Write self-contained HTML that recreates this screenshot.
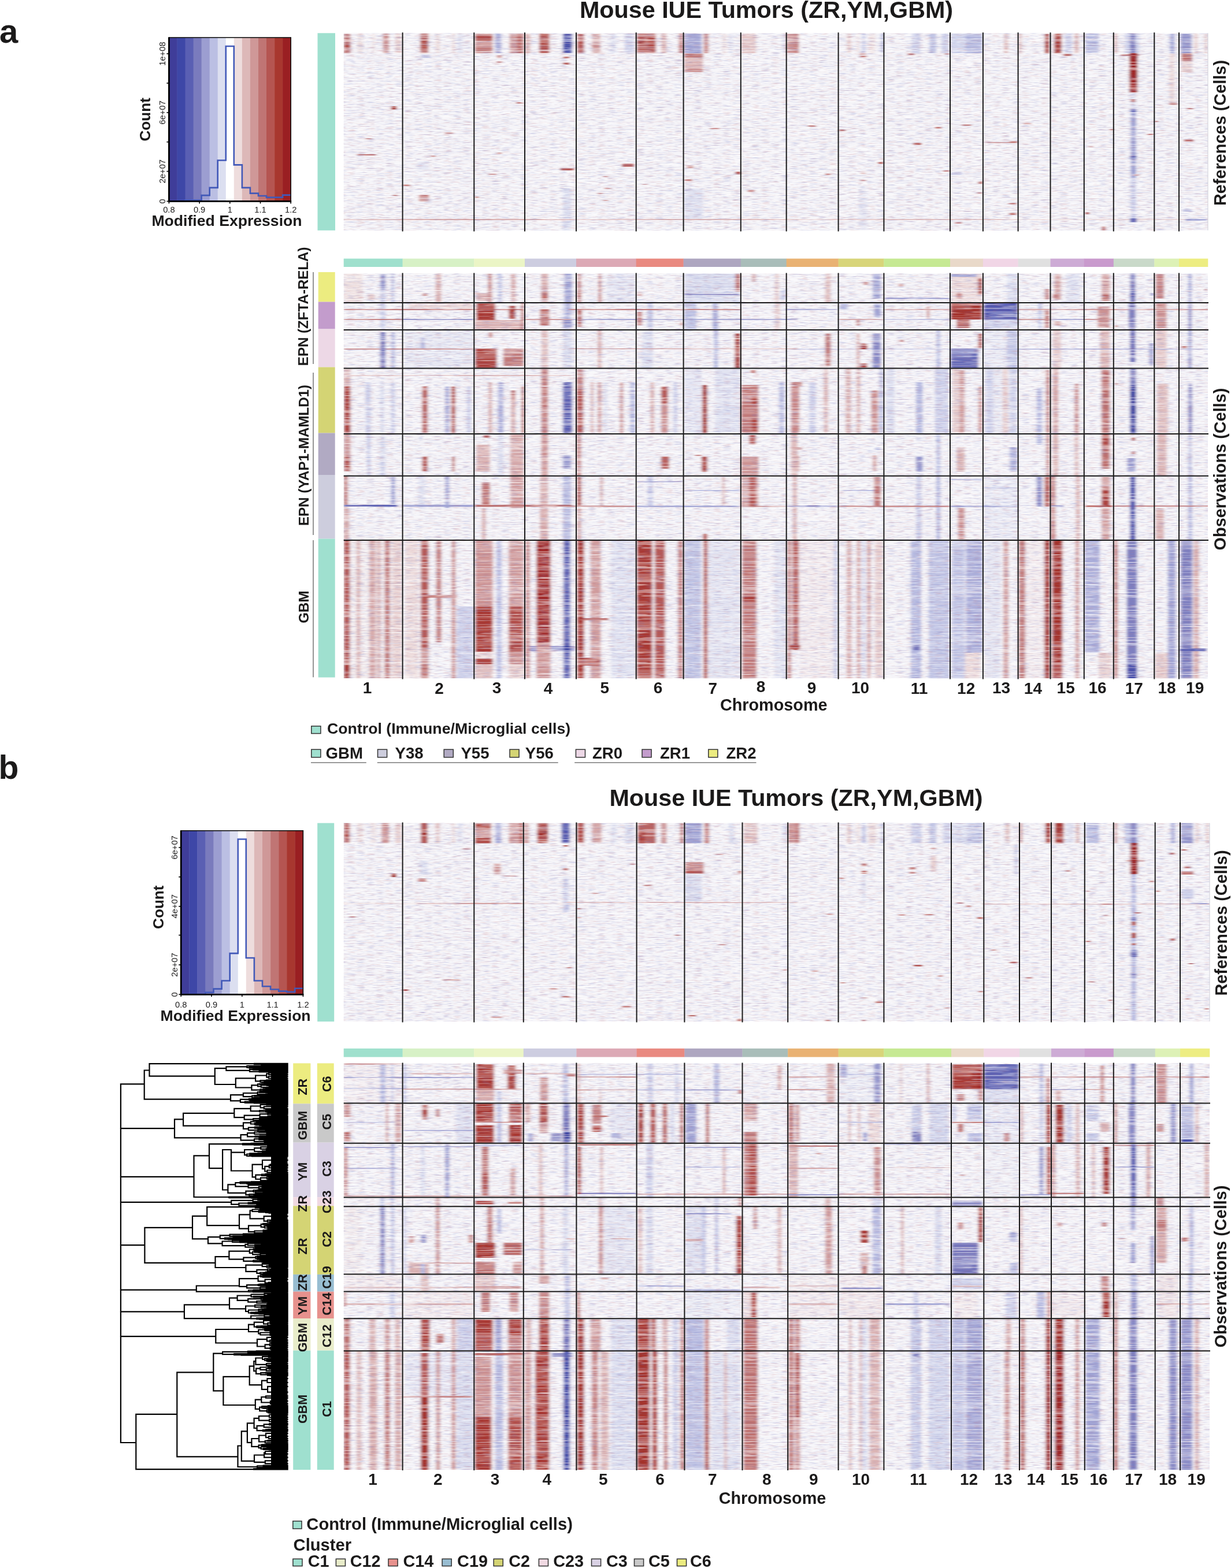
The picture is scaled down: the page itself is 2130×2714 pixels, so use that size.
<!DOCTYPE html>
<html><head><meta charset="utf-8"><title>Mouse IUE Tumors</title><style>html,body{margin:0;padding:0;background:#fff;}svg{display:block;}</style></head><body>
<svg width="2130" height="2714" viewBox="0 0 2130 2714" font-family="'Liberation Sans', Arial, sans-serif">
<rect width="2130" height="2714" fill="#fff"/>
<text x="-1" y="74" font-size="58" font-weight="bold" text-anchor="start" fill="#1b1a1a">a</text>
<text x="-2.5" y="1348" font-size="57" font-weight="bold" text-anchor="start" fill="#1b1a1a">b</text>
<text x="1326" y="30.7" font-size="41.3" font-weight="bold" text-anchor="middle" fill="#1b1a1a">Mouse IUE Tumors (ZR,YM,GBM)</text>
<text x="1377.5" y="1394.5" font-size="41.3" font-weight="bold" text-anchor="middle" fill="#1b1a1a">Mouse IUE Tumors (ZR,YM,GBM)</text>
<rect x="292.4" y="65.0" width="14.5" height="283.4" fill="#3f3d99"/>
<rect x="306.5" y="65.0" width="14.5" height="283.4" fill="#3e47a7"/>
<rect x="320.5" y="65.0" width="14.5" height="283.4" fill="#5a5fb3"/>
<rect x="334.6" y="65.0" width="14.5" height="283.4" fill="#7a7bbd"/>
<rect x="348.6" y="65.0" width="14.5" height="283.4" fill="#9c9ed1"/>
<rect x="362.7" y="65.0" width="14.5" height="283.4" fill="#bbbfe3"/>
<rect x="376.7" y="65.0" width="14.5" height="283.4" fill="#dcdff0"/>
<rect x="390.8" y="65.0" width="14.5" height="283.4" fill="#ffffff"/>
<rect x="404.8" y="65.0" width="14.5" height="283.4" fill="#eedddd"/>
<rect x="418.9" y="65.0" width="14.5" height="283.4" fill="#ddb8b8"/>
<rect x="432.9" y="65.0" width="14.5" height="283.4" fill="#cf9898"/>
<rect x="447.0" y="65.0" width="14.5" height="283.4" fill="#c07574"/>
<rect x="461.0" y="65.0" width="14.5" height="283.4" fill="#b55551"/>
<rect x="475.1" y="65.0" width="14.5" height="283.4" fill="#a8372f"/>
<rect x="489.1" y="65.0" width="14.5" height="283.4" fill="#9a1f22"/>
<polyline points="292.4,348.0 306.5,348.0 306.5,348.0 320.5,348.0 320.5,346.5 334.6,346.5 334.6,346.5 348.6,346.5 348.6,338.1 362.7,338.1 362.7,324.9 376.7,324.9 376.7,277.5 390.8,277.5 390.8,80.0 404.8,80.0 404.8,285.4 418.9,285.4 418.9,324.9 432.9,324.9 432.9,334.6 447.0,334.6 447.0,339.0 461.0,339.0 461.0,341.6 475.1,341.6 475.1,341.6 489.1,341.6 489.1,337.6 503.2,337.6" fill="none" stroke="#4259b8" stroke-width="2.6"/>
<rect x="292.4" y="65" width="210.8" height="283.4" fill="none" stroke="#111" stroke-width="1.6"/>
<line x1="292.4" y1="64.5" x2="292.4" y2="349.4" stroke="#000" stroke-width="2.8"/>
<line x1="291.4" y1="348.4" x2="504.2" y2="348.4" stroke="#000" stroke-width="2.8"/>
<line x1="288.4" y1="348.4" x2="292.4" y2="348.4" stroke="#000" stroke-width="1.6"/>
<line x1="288.4" y1="296.6" x2="292.4" y2="296.6" stroke="#000" stroke-width="1.6"/>
<line x1="288.4" y1="245.7" x2="292.4" y2="245.7" stroke="#000" stroke-width="1.6"/>
<line x1="288.4" y1="194.8" x2="292.4" y2="194.8" stroke="#000" stroke-width="1.6"/>
<line x1="288.4" y1="143.9" x2="292.4" y2="143.9" stroke="#000" stroke-width="1.6"/>
<line x1="288.4" y1="93.0" x2="292.4" y2="93.0" stroke="#000" stroke-width="1.6"/>
<text x="286.4" y="348.4" font-size="14.7" font-weight="normal" text-anchor="middle" fill="#1b1a1a" transform="rotate(-90 286.4 348.4)">0</text>
<text x="286.4" y="296.6" font-size="14.7" font-weight="normal" text-anchor="middle" fill="#1b1a1a" transform="rotate(-90 286.4 296.6)">2e+07</text>
<text x="286.4" y="194.8" font-size="14.7" font-weight="normal" text-anchor="middle" fill="#1b1a1a" transform="rotate(-90 286.4 194.8)">6e+07</text>
<text x="286.4" y="93" font-size="14.7" font-weight="normal" text-anchor="middle" fill="#1b1a1a" transform="rotate(-90 286.4 93)">1e+08</text>
<line x1="292.4" y1="348.4" x2="292.4" y2="352.4" stroke="#000" stroke-width="1.6"/>
<text x="292.4" y="368" font-size="14.7" font-weight="normal" text-anchor="middle" fill="#1b1a1a">0.8</text>
<line x1="345.1" y1="348.4" x2="345.1" y2="352.4" stroke="#000" stroke-width="1.6"/>
<text x="345.09999999999997" y="368" font-size="14.7" font-weight="normal" text-anchor="middle" fill="#1b1a1a">0.9</text>
<line x1="397.8" y1="348.4" x2="397.8" y2="352.4" stroke="#000" stroke-width="1.6"/>
<text x="397.79999999999995" y="368" font-size="14.7" font-weight="normal" text-anchor="middle" fill="#1b1a1a">1</text>
<line x1="450.5" y1="348.4" x2="450.5" y2="352.4" stroke="#000" stroke-width="1.6"/>
<text x="450.5" y="368" font-size="14.7" font-weight="normal" text-anchor="middle" fill="#1b1a1a">1.1</text>
<line x1="503.2" y1="348.4" x2="503.2" y2="352.4" stroke="#000" stroke-width="1.6"/>
<text x="503.2" y="368" font-size="14.7" font-weight="normal" text-anchor="middle" fill="#1b1a1a">1.2</text>
<text x="392.5" y="390.8" font-size="26.6" font-weight="bold" text-anchor="middle" fill="#1b1a1a">Modified Expression</text>
<text x="260.5" y="206.8" font-size="26.1" font-weight="bold" text-anchor="middle" fill="#1b1a1a" transform="rotate(-90 260.5 206.8)">Count</text>
<rect x="313.2" y="1437.8" width="14.5" height="283.5" fill="#3f3d99"/>
<rect x="327.3" y="1437.8" width="14.5" height="283.5" fill="#3e47a7"/>
<rect x="341.4" y="1437.8" width="14.5" height="283.5" fill="#5a5fb3"/>
<rect x="355.4" y="1437.8" width="14.5" height="283.5" fill="#7a7bbd"/>
<rect x="369.5" y="1437.8" width="14.5" height="283.5" fill="#9c9ed1"/>
<rect x="383.6" y="1437.8" width="14.5" height="283.5" fill="#bbbfe3"/>
<rect x="397.7" y="1437.8" width="14.5" height="283.5" fill="#dcdff0"/>
<rect x="411.8" y="1437.8" width="14.5" height="283.5" fill="#ffffff"/>
<rect x="425.8" y="1437.8" width="14.5" height="283.5" fill="#eedddd"/>
<rect x="439.9" y="1437.8" width="14.5" height="283.5" fill="#ddb8b8"/>
<rect x="454.0" y="1437.8" width="14.5" height="283.5" fill="#cf9898"/>
<rect x="468.1" y="1437.8" width="14.5" height="283.5" fill="#c07574"/>
<rect x="482.2" y="1437.8" width="14.5" height="283.5" fill="#b55551"/>
<rect x="496.2" y="1437.8" width="14.5" height="283.5" fill="#a8372f"/>
<rect x="510.3" y="1437.8" width="14.5" height="283.5" fill="#9a1f22"/>
<polyline points="313.2,1721.0 327.3,1721.0 327.3,1721.0 341.4,1721.0 341.4,1721.0 355.4,1721.0 355.4,1717.7 369.5,1717.7 369.5,1711.6 383.6,1711.6 383.6,1697.5 397.7,1697.5 397.7,1650.1 411.8,1650.1 411.8,1452.5 425.8,1452.5 425.8,1658.0 439.9,1658.0 439.9,1697.5 454.0,1697.5 454.0,1707.2 468.1,1707.2 468.1,1712.5 482.2,1712.5 482.2,1715.6 496.2,1715.6 496.2,1716.9 510.3,1716.9 510.3,1710.7 524.4,1710.7" fill="none" stroke="#4259b8" stroke-width="2.6"/>
<rect x="313.2" y="1437.8" width="211.2" height="283.5" fill="none" stroke="#111" stroke-width="1.6"/>
<line x1="313.2" y1="1437.3" x2="313.2" y2="1722.3" stroke="#000" stroke-width="2.8"/>
<line x1="312.2" y1="1721.3" x2="525.4" y2="1721.3" stroke="#000" stroke-width="2.8"/>
<line x1="309.2" y1="1721.3" x2="313.2" y2="1721.3" stroke="#000" stroke-width="1.6"/>
<line x1="309.2" y1="1670.0" x2="313.2" y2="1670.0" stroke="#000" stroke-width="1.6"/>
<line x1="309.2" y1="1618.6" x2="313.2" y2="1618.6" stroke="#000" stroke-width="1.6"/>
<line x1="309.2" y1="1568.8" x2="313.2" y2="1568.8" stroke="#000" stroke-width="1.6"/>
<line x1="309.2" y1="1517.8" x2="313.2" y2="1517.8" stroke="#000" stroke-width="1.6"/>
<line x1="309.2" y1="1466.9" x2="313.2" y2="1466.9" stroke="#000" stroke-width="1.6"/>
<text x="307.2" y="1721.3" font-size="14.7" font-weight="normal" text-anchor="middle" fill="#1b1a1a" transform="rotate(-90 307.2 1721.3)">0</text>
<text x="307.2" y="1670" font-size="14.7" font-weight="normal" text-anchor="middle" fill="#1b1a1a" transform="rotate(-90 307.2 1670)">2e+07</text>
<text x="307.2" y="1568.8" font-size="14.7" font-weight="normal" text-anchor="middle" fill="#1b1a1a" transform="rotate(-90 307.2 1568.8)">4e+07</text>
<text x="307.2" y="1466.9" font-size="14.7" font-weight="normal" text-anchor="middle" fill="#1b1a1a" transform="rotate(-90 307.2 1466.9)">6e+07</text>
<line x1="313.2" y1="1721.3" x2="313.2" y2="1725.3" stroke="#000" stroke-width="1.6"/>
<text x="313.2" y="1744" font-size="14.7" font-weight="normal" text-anchor="middle" fill="#1b1a1a">0.8</text>
<line x1="366.0" y1="1721.3" x2="366.0" y2="1725.3" stroke="#000" stroke-width="1.6"/>
<text x="366.0" y="1744" font-size="14.7" font-weight="normal" text-anchor="middle" fill="#1b1a1a">0.9</text>
<line x1="418.8" y1="1721.3" x2="418.8" y2="1725.3" stroke="#000" stroke-width="1.6"/>
<text x="418.79999999999995" y="1744" font-size="14.7" font-weight="normal" text-anchor="middle" fill="#1b1a1a">1</text>
<line x1="471.6" y1="1721.3" x2="471.6" y2="1725.3" stroke="#000" stroke-width="1.6"/>
<text x="471.59999999999997" y="1744" font-size="14.7" font-weight="normal" text-anchor="middle" fill="#1b1a1a">1.1</text>
<line x1="524.4" y1="1721.3" x2="524.4" y2="1725.3" stroke="#000" stroke-width="1.6"/>
<text x="524.4" y="1744" font-size="14.7" font-weight="normal" text-anchor="middle" fill="#1b1a1a">1.2</text>
<text x="407.6" y="1766.9" font-size="26.6" font-weight="bold" text-anchor="middle" fill="#1b1a1a">Modified Expression</text>
<text x="283.4" y="1570.2" font-size="26.1" font-weight="bold" text-anchor="middle" fill="#1b1a1a" transform="rotate(-90 283.4 1570.2)">Count</text>
<defs>
<clipPath id="clip_ra"><rect x="594.7" y="57.3" width="1495.3" height="341.5"/></clipPath>
<clipPath id="clip_oa"><rect x="594.7" y="473.5" width="1495.3" height="700.5"/></clipPath>
<clipPath id="clip_rb"><rect x="594.7" y="1424.6" width="1498.3" height="343.4000000000001"/></clipPath>
<clipPath id="clip_ob"><rect x="594.7" y="1840.4" width="1498.3" height="703.5999999999999"/></clipPath>
<pattern id="tex" patternUnits="userSpaceOnUse" width="241" height="97">
<rect x="98" y="71" width="35" height="1.2" fill="#dcb5b5" opacity="0.8"/>
<rect x="98" y="75" width="12" height="1.2" fill="#c3c7e6" opacity="0.8"/>
<rect x="104" y="78" width="33" height="1.2" fill="#ecd9d9" opacity="0.8"/>
<rect x="97" y="18" width="9" height="1.2" fill="#efe1e1" opacity="0.8"/>
<rect x="135" y="50" width="39" height="1.2" fill="#e7cece" opacity="0.8"/>
<rect x="143" y="67" width="8" height="1.2" fill="#efe1e1" opacity="0.8"/>
<rect x="30" y="30" width="26" height="1.2" fill="#dcb5b5" opacity="0.8"/>
<rect x="65" y="75" width="35" height="1.2" fill="#c3c7e6" opacity="0.8"/>
<rect x="41" y="37" width="23" height="1.2" fill="#ecd9d9" opacity="0.8"/>
<rect x="99" y="35" width="20" height="1.2" fill="#c3c7e6" opacity="0.8"/>
<rect x="240" y="10" width="30" height="1.2" fill="#cfd2eb" opacity="0.8"/>
<rect x="178" y="65" width="16" height="1.2" fill="#ecd9d9" opacity="0.8"/>
<rect x="127" y="13" width="20" height="1.2" fill="#d8dbee" opacity="0.8"/>
<rect x="81" y="2" width="35" height="1.2" fill="#efe1e1" opacity="0.8"/>
<rect x="36" y="6" width="22" height="1.2" fill="#e1c1c1" opacity="0.8"/>
<rect x="90" y="72" width="27" height="1.2" fill="#d8dbee" opacity="0.8"/>
<rect x="68" y="39" width="17" height="1.2" fill="#e1c1c1" opacity="0.8"/>
<rect x="178" y="15" width="11" height="1.2" fill="#ecd9d9" opacity="0.8"/>
<rect x="-17" y="59" width="33" height="1.2" fill="#e7cece" opacity="0.8"/>
<rect x="158" y="24" width="21" height="1.2" fill="#e0e2f1" opacity="0.8"/>
<rect x="237" y="16" width="20" height="1.2" fill="#e1c1c1" opacity="0.8"/>
<rect x="10" y="53" width="40" height="1.2" fill="#efe1e1" opacity="0.8"/>
<rect x="50" y="75" width="16" height="1.2" fill="#efe1e1" opacity="0.8"/>
<rect x="35" y="50" width="40" height="1.2" fill="#ecd9d9" opacity="0.8"/>
<rect x="-9" y="18" width="13" height="1.2" fill="#d8dbee" opacity="0.8"/>
<rect x="-18" y="78" width="17" height="1.2" fill="#d8dbee" opacity="0.8"/>
<rect x="81" y="9" width="9" height="1.2" fill="#e0e2f1" opacity="0.8"/>
<rect x="-16" y="47" width="19" height="1.2" fill="#dcb5b5" opacity="0.8"/>
<rect x="13" y="75" width="22" height="1.2" fill="#e7cece" opacity="0.8"/>
<rect x="206" y="23" width="27" height="1.2" fill="#d8dbee" opacity="0.8"/>
<rect x="217" y="78" width="14" height="1.2" fill="#e0e2f1" opacity="0.8"/>
<rect x="21" y="80" width="38" height="1.2" fill="#e0e2f1" opacity="0.8"/>
<rect x="159" y="49" width="36" height="1.2" fill="#ecd9d9" opacity="0.8"/>
<rect x="90" y="13" width="10" height="1.2" fill="#c3c7e6" opacity="0.8"/>
<rect x="231" y="30" width="31" height="1.2" fill="#e1c1c1" opacity="0.8"/>
<rect x="47" y="76" width="23" height="1.2" fill="#c3c7e6" opacity="0.8"/>
<rect x="26" y="92" width="39" height="1.2" fill="#e7cece" opacity="0.8"/>
<rect x="40" y="71" width="28" height="1.2" fill="#ecd9d9" opacity="0.8"/>
<rect x="53" y="26" width="31" height="1.2" fill="#ecd9d9" opacity="0.8"/>
<rect x="50" y="57" width="14" height="1.2" fill="#efe1e1" opacity="0.8"/>
<rect x="26" y="47" width="24" height="1.2" fill="#e7cece" opacity="0.8"/>
<rect x="4" y="17" width="36" height="1.2" fill="#cfd2eb" opacity="0.8"/>
<rect x="151" y="88" width="24" height="1.2" fill="#e7cece" opacity="0.8"/>
<rect x="134" y="2" width="22" height="1.2" fill="#cfd2eb" opacity="0.8"/>
<rect x="163" y="4" width="7" height="1.2" fill="#ecd9d9" opacity="0.8"/>
<rect x="106" y="93" width="17" height="1.2" fill="#e7cece" opacity="0.8"/>
<rect x="241" y="9" width="21" height="1.2" fill="#cfd2eb" opacity="0.8"/>
<rect x="172" y="94" width="31" height="1.2" fill="#e7cece" opacity="0.8"/>
<rect x="187" y="43" width="18" height="1.2" fill="#dcb5b5" opacity="0.8"/>
<rect x="215" y="53" width="38" height="1.2" fill="#efe1e1" opacity="0.8"/>
<rect x="205" y="73" width="6" height="1.2" fill="#e1c1c1" opacity="0.8"/>
<rect x="79" y="1" width="27" height="1.2" fill="#ecd9d9" opacity="0.8"/>
<rect x="4" y="14" width="40" height="1.2" fill="#e1c1c1" opacity="0.8"/>
<rect x="170" y="49" width="38" height="1.2" fill="#dcb5b5" opacity="0.8"/>
<rect x="95" y="69" width="9" height="1.2" fill="#c3c7e6" opacity="0.8"/>
<rect x="-12" y="76" width="9" height="1.2" fill="#efe1e1" opacity="0.8"/>
<rect x="40" y="89" width="10" height="1.2" fill="#dcb5b5" opacity="0.8"/>
<rect x="47" y="1" width="19" height="1.2" fill="#e7cece" opacity="0.8"/>
<rect x="157" y="25" width="24" height="1.2" fill="#cfd2eb" opacity="0.8"/>
<rect x="152" y="56" width="23" height="1.2" fill="#e0e2f1" opacity="0.8"/>
<rect x="65" y="85" width="15" height="1.2" fill="#e1c1c1" opacity="0.8"/>
<rect x="190" y="96" width="37" height="1.2" fill="#e0e2f1" opacity="0.8"/>
<rect x="80" y="74" width="37" height="1.2" fill="#e0e2f1" opacity="0.8"/>
<rect x="16" y="63" width="18" height="1.2" fill="#efe1e1" opacity="0.8"/>
<rect x="166" y="35" width="34" height="1.2" fill="#ecd9d9" opacity="0.8"/>
<rect x="98" y="35" width="37" height="1.2" fill="#e1c1c1" opacity="0.8"/>
<rect x="80" y="66" width="23" height="1.2" fill="#cfd2eb" opacity="0.8"/>
<rect x="167" y="79" width="21" height="1.2" fill="#ecd9d9" opacity="0.8"/>
<rect x="196" y="35" width="36" height="1.2" fill="#efe1e1" opacity="0.8"/>
<rect x="157" y="35" width="25" height="1.2" fill="#d8dbee" opacity="0.8"/>
<rect x="149" y="72" width="7" height="1.2" fill="#e7cece" opacity="0.8"/>
<rect x="86" y="24" width="7" height="1.2" fill="#d8dbee" opacity="0.8"/>
<rect x="42" y="18" width="33" height="1.2" fill="#ecd9d9" opacity="0.8"/>
<rect x="97" y="80" width="24" height="1.2" fill="#cfd2eb" opacity="0.8"/>
<rect x="230" y="87" width="13" height="1.2" fill="#dcb5b5" opacity="0.8"/>
<rect x="47" y="91" width="6" height="1.2" fill="#dcb5b5" opacity="0.8"/>
<rect x="120" y="4" width="12" height="1.2" fill="#d8dbee" opacity="0.8"/>
<rect x="183" y="69" width="30" height="1.2" fill="#c3c7e6" opacity="0.8"/>
<rect x="111" y="96" width="11" height="1.2" fill="#e0e2f1" opacity="0.8"/>
<rect x="3" y="92" width="19" height="1.2" fill="#dcb5b5" opacity="0.8"/>
<rect x="98" y="80" width="36" height="1.2" fill="#efe1e1" opacity="0.8"/>
<rect x="78" y="72" width="28" height="1.2" fill="#c3c7e6" opacity="0.8"/>
<rect x="188" y="43" width="22" height="1.2" fill="#e0e2f1" opacity="0.8"/>
<rect x="6" y="82" width="37" height="1.2" fill="#ecd9d9" opacity="0.8"/>
<rect x="36" y="49" width="39" height="1.2" fill="#d8dbee" opacity="0.8"/>
<rect x="120" y="41" width="15" height="1.2" fill="#efe1e1" opacity="0.8"/>
<rect x="71" y="10" width="7" height="1.2" fill="#cfd2eb" opacity="0.8"/>
<rect x="124" y="35" width="23" height="1.2" fill="#efe1e1" opacity="0.8"/>
<rect x="37" y="8" width="21" height="1.2" fill="#efe1e1" opacity="0.8"/>
<rect x="25" y="42" width="29" height="1.2" fill="#e7cece" opacity="0.8"/>
<rect x="103" y="66" width="37" height="1.2" fill="#c3c7e6" opacity="0.8"/>
<rect x="199" y="88" width="21" height="1.2" fill="#dcb5b5" opacity="0.8"/>
<rect x="131" y="88" width="9" height="1.2" fill="#e0e2f1" opacity="0.8"/>
<rect x="95" y="71" width="16" height="1.2" fill="#c3c7e6" opacity="0.8"/>
<rect x="147" y="66" width="23" height="1.2" fill="#c3c7e6" opacity="0.8"/>
<rect x="47" y="85" width="19" height="1.2" fill="#e0e2f1" opacity="0.8"/>
<rect x="59" y="18" width="39" height="1.2" fill="#c3c7e6" opacity="0.8"/>
<rect x="51" y="63" width="13" height="1.2" fill="#c3c7e6" opacity="0.8"/>
<rect x="10" y="0" width="27" height="1.2" fill="#efe1e1" opacity="0.8"/>
<rect x="121" y="5" width="24" height="1.2" fill="#e1c1c1" opacity="0.8"/>
<rect x="122" y="72" width="10" height="1.2" fill="#ecd9d9" opacity="0.8"/>
<rect x="160" y="8" width="38" height="1.2" fill="#dcb5b5" opacity="0.8"/>
<rect x="88" y="51" width="15" height="1.2" fill="#dcb5b5" opacity="0.8"/>
<rect x="109" y="43" width="21" height="1.2" fill="#dcb5b5" opacity="0.8"/>
<rect x="117" y="13" width="13" height="1.2" fill="#efe1e1" opacity="0.8"/>
<rect x="221" y="16" width="30" height="1.2" fill="#efe1e1" opacity="0.8"/>
<rect x="-11" y="19" width="14" height="1.2" fill="#d8dbee" opacity="0.8"/>
<rect x="64" y="45" width="14" height="1.2" fill="#dcb5b5" opacity="0.8"/>
<rect x="7" y="93" width="26" height="1.2" fill="#c3c7e6" opacity="0.8"/>
<rect x="143" y="91" width="13" height="1.2" fill="#c3c7e6" opacity="0.8"/>
<rect x="209" y="2" width="19" height="1.2" fill="#e1c1c1" opacity="0.8"/>
<rect x="195" y="78" width="11" height="1.2" fill="#e0e2f1" opacity="0.8"/>
<rect x="205" y="68" width="28" height="1.2" fill="#c3c7e6" opacity="0.8"/>
<rect x="36" y="69" width="27" height="1.2" fill="#e7cece" opacity="0.8"/>
<rect x="41" y="94" width="27" height="1.2" fill="#cfd2eb" opacity="0.8"/>
<rect x="216" y="40" width="27" height="1.2" fill="#e0e2f1" opacity="0.8"/>
<rect x="37" y="24" width="36" height="1.2" fill="#e7cece" opacity="0.8"/>
<rect x="212" y="16" width="31" height="1.2" fill="#d8dbee" opacity="0.8"/>
<rect x="81" y="55" width="34" height="1.2" fill="#e1c1c1" opacity="0.8"/>
<rect x="122" y="90" width="10" height="1.2" fill="#e1c1c1" opacity="0.8"/>
<rect x="144" y="2" width="9" height="1.2" fill="#cfd2eb" opacity="0.8"/>
<rect x="218" y="46" width="10" height="1.2" fill="#c3c7e6" opacity="0.8"/>
<rect x="146" y="43" width="23" height="1.2" fill="#e0e2f1" opacity="0.8"/>
<rect x="190" y="61" width="10" height="1.2" fill="#efe1e1" opacity="0.8"/>
<rect x="179" y="78" width="24" height="1.2" fill="#dcb5b5" opacity="0.8"/>
<rect x="18" y="23" width="10" height="1.2" fill="#e7cece" opacity="0.8"/>
<rect x="199" y="36" width="38" height="1.2" fill="#ecd9d9" opacity="0.8"/>
<rect x="131" y="17" width="38" height="1.2" fill="#dcb5b5" opacity="0.8"/>
<rect x="0" y="12" width="17" height="1.2" fill="#dcb5b5" opacity="0.8"/>
<rect x="91" y="45" width="21" height="1.2" fill="#cfd2eb" opacity="0.8"/>
<rect x="-17" y="89" width="7" height="1.2" fill="#e0e2f1" opacity="0.8"/>
<rect x="27" y="58" width="18" height="1.2" fill="#cfd2eb" opacity="0.8"/>
<rect x="86" y="24" width="27" height="1.2" fill="#ecd9d9" opacity="0.8"/>
<rect x="114" y="1" width="17" height="1.2" fill="#ecd9d9" opacity="0.8"/>
<rect x="189" y="90" width="36" height="1.2" fill="#e1c1c1" opacity="0.8"/>
<rect x="129" y="24" width="23" height="1.2" fill="#cfd2eb" opacity="0.8"/>
<rect x="190" y="33" width="16" height="1.2" fill="#ecd9d9" opacity="0.8"/>
<rect x="174" y="20" width="34" height="1.2" fill="#e1c1c1" opacity="0.8"/>
<rect x="15" y="42" width="36" height="1.2" fill="#cfd2eb" opacity="0.8"/>
<rect x="180" y="23" width="20" height="1.2" fill="#e7cece" opacity="0.8"/>
<rect x="-2" y="43" width="16" height="1.2" fill="#ecd9d9" opacity="0.8"/>
<rect x="-17" y="45" width="40" height="1.2" fill="#efe1e1" opacity="0.8"/>
<rect x="41" y="85" width="16" height="1.2" fill="#e0e2f1" opacity="0.8"/>
<rect x="152" y="72" width="12" height="1.2" fill="#ecd9d9" opacity="0.8"/>
<rect x="82" y="63" width="28" height="1.2" fill="#ecd9d9" opacity="0.8"/>
<rect x="179" y="73" width="7" height="1.2" fill="#ecd9d9" opacity="0.8"/>
<rect x="173" y="32" width="21" height="1.2" fill="#c3c7e6" opacity="0.8"/>
<rect x="-7" y="25" width="28" height="1.2" fill="#efe1e1" opacity="0.8"/>
<rect x="6" y="32" width="15" height="1.2" fill="#cfd2eb" opacity="0.8"/>
<rect x="124" y="65" width="20" height="1.2" fill="#c3c7e6" opacity="0.8"/>
<rect x="128" y="12" width="28" height="1.2" fill="#ecd9d9" opacity="0.8"/>
<rect x="123" y="85" width="32" height="1.2" fill="#efe1e1" opacity="0.8"/>
<rect x="81" y="20" width="19" height="1.2" fill="#e7cece" opacity="0.8"/>
<rect x="203" y="69" width="27" height="1.2" fill="#efe1e1" opacity="0.8"/>
<rect x="92" y="63" width="20" height="1.2" fill="#c3c7e6" opacity="0.8"/>
<rect x="84" y="39" width="18" height="1.2" fill="#d8dbee" opacity="0.8"/>
<rect x="106" y="34" width="25" height="1.2" fill="#d8dbee" opacity="0.8"/>
<rect x="153" y="95" width="16" height="1.2" fill="#efe1e1" opacity="0.8"/>
<rect x="182" y="74" width="7" height="1.2" fill="#e7cece" opacity="0.8"/>
<rect x="87" y="87" width="19" height="1.2" fill="#cfd2eb" opacity="0.8"/>
</pattern>
<pattern id="rows" patternUnits="userSpaceOnUse" width="397" height="83">
<rect x="287" y="4.2" width="109" height="1.3" fill="#fff" opacity="0.22"/>
<rect x="356" y="35.6" width="60" height="1.0" fill="#fff" opacity="0.21"/>
<rect x="3" y="67.2" width="101" height="1.0" fill="#fff" opacity="0.49"/>
<rect x="317" y="50.1" width="26" height="1.6" fill="#fff" opacity="0.34"/>
<rect x="49" y="4.3" width="65" height="0.8" fill="#fff" opacity="0.31"/>
<rect x="21" y="34.6" width="72" height="1.6" fill="#fff" opacity="0.31"/>
<rect x="285" y="67.7" width="28" height="1.3" fill="#fff" opacity="0.42"/>
<rect x="64" y="9.5" width="100" height="1.3" fill="#fff" opacity="0.28"/>
<rect x="226" y="60.2" width="81" height="1.0" fill="#fff" opacity="0.39"/>
<rect x="289" y="15.8" width="39" height="1.0" fill="#fff" opacity="0.46"/>
<rect x="-23" y="5.0" width="41" height="1.6" fill="#fff" opacity="0.21"/>
<rect x="-23" y="18.5" width="41" height="0.8" fill="#fff" opacity="0.47"/>
<rect x="30" y="19.5" width="108" height="1.6" fill="#fff" opacity="0.34"/>
<rect x="52" y="28.5" width="86" height="0.8" fill="#fff" opacity="0.44"/>
<rect x="155" y="68.2" width="95" height="1.0" fill="#fff" opacity="0.33"/>
<rect x="287" y="32.4" width="29" height="1.0" fill="#fff" opacity="0.40"/>
<rect x="392" y="27.0" width="67" height="1.0" fill="#fff" opacity="0.33"/>
<rect x="121" y="8.1" width="98" height="0.8" fill="#fff" opacity="0.36"/>
<rect x="149" y="47.1" width="92" height="1.6" fill="#fff" opacity="0.29"/>
<rect x="299" y="6.3" width="35" height="0.8" fill="#fff" opacity="0.41"/>
<rect x="176" y="63.4" width="46" height="1.0" fill="#fff" opacity="0.27"/>
<rect x="247" y="27.1" width="101" height="1.3" fill="#fff" opacity="0.41"/>
<rect x="209" y="76.2" width="104" height="1.3" fill="#fff" opacity="0.33"/>
<rect x="311" y="25.3" width="45" height="1.6" fill="#fff" opacity="0.49"/>
<rect x="279" y="42.8" width="23" height="1.3" fill="#fff" opacity="0.21"/>
<rect x="256" y="48.5" width="91" height="1.3" fill="#fff" opacity="0.44"/>
<rect x="196" y="69.4" width="68" height="1.0" fill="#fff" opacity="0.23"/>
<rect x="159" y="70.9" width="92" height="1.0" fill="#fff" opacity="0.35"/>
<rect x="198" y="47.1" width="107" height="1.6" fill="#fff" opacity="0.22"/>
<rect x="199" y="65.4" width="23" height="0.8" fill="#fff" opacity="0.28"/>
<rect x="6" y="26.0" width="17" height="1.0" fill="#fff" opacity="0.23"/>
<rect x="317" y="35.0" width="83" height="1.6" fill="#fff" opacity="0.43"/>
<rect x="188" y="63.5" width="52" height="1.3" fill="#fff" opacity="0.44"/>
<rect x="106" y="11.3" width="61" height="0.8" fill="#fff" opacity="0.41"/>
<rect x="360" y="34.1" width="93" height="1.3" fill="#fff" opacity="0.46"/>
<rect x="312" y="69.2" width="99" height="0.8" fill="#fff" opacity="0.36"/>
<rect x="270" y="66.6" width="55" height="1.6" fill="#fff" opacity="0.47"/>
<rect x="67" y="13.5" width="75" height="1.0" fill="#fff" opacity="0.30"/>
<rect x="130" y="43.9" width="41" height="0.8" fill="#fff" opacity="0.34"/>
<rect x="279" y="25.2" width="30" height="1.0" fill="#fff" opacity="0.47"/>
<rect x="289" y="1.4" width="61" height="0.8" fill="#fff" opacity="0.29"/>
<rect x="46" y="29.8" width="71" height="1.6" fill="#fff" opacity="0.38"/>
<rect x="58" y="15.4" width="42" height="1.0" fill="#fff" opacity="0.47"/>
<rect x="370" y="52.0" width="104" height="1.6" fill="#fff" opacity="0.46"/>
<rect x="172" y="33.4" width="106" height="0.8" fill="#fff" opacity="0.34"/>
<rect x="57" y="4.1" width="105" height="1.6" fill="#fff" opacity="0.49"/>
<rect x="307" y="64.3" width="90" height="0.8" fill="#fff" opacity="0.40"/>
<rect x="64" y="0.9" width="60" height="1.3" fill="#fff" opacity="0.34"/>
<rect x="68" y="35.0" width="98" height="1.6" fill="#fff" opacity="0.25"/>
<rect x="101" y="21.5" width="98" height="1.0" fill="#fff" opacity="0.39"/>
<rect x="394" y="22.1" width="66" height="1.0" fill="#fff" opacity="0.37"/>
<rect x="38" y="17.0" width="102" height="1.0" fill="#fff" opacity="0.45"/>
<rect x="-4" y="22.4" width="83" height="0.8" fill="#fff" opacity="0.47"/>
<rect x="263" y="6.9" width="86" height="1.3" fill="#fff" opacity="0.21"/>
<rect x="42" y="16.0" width="80" height="1.6" fill="#fff" opacity="0.26"/>
<rect x="197" y="43.6" width="30" height="1.3" fill="#fff" opacity="0.29"/>
<rect x="137" y="46.2" width="110" height="0.8" fill="#fff" opacity="0.31"/>
<rect x="260" y="8.8" width="52" height="1.6" fill="#fff" opacity="0.42"/>
<rect x="303" y="10.1" width="57" height="1.6" fill="#fff" opacity="0.41"/>
<rect x="168" y="24.4" width="26" height="0.8" fill="#fff" opacity="0.46"/>
<rect x="329" y="59.7" width="101" height="1.0" fill="#fff" opacity="0.29"/>
<rect x="124" y="44.8" width="43" height="1.3" fill="#fff" opacity="0.43"/>
<rect x="203" y="7.2" width="33" height="1.6" fill="#fff" opacity="0.42"/>
<rect x="104" y="78.4" width="68" height="1.3" fill="#fff" opacity="0.33"/>
<rect x="127" y="8.5" width="74" height="1.0" fill="#fff" opacity="0.40"/>
<rect x="270" y="14.9" width="53" height="1.6" fill="#fff" opacity="0.38"/>
<rect x="-1" y="18.8" width="30" height="0.8" fill="#fff" opacity="0.33"/>
<rect x="297" y="28.4" width="93" height="1.0" fill="#fff" opacity="0.39"/>
<rect x="295" y="68.2" width="52" height="1.3" fill="#fff" opacity="0.48"/>
<rect x="232" y="60.3" width="73" height="1.3" fill="#fff" opacity="0.49"/>
<rect x="305" y="54.8" width="73" height="0.8" fill="#fff" opacity="0.28"/>
<rect x="42" y="25.5" width="57" height="1.6" fill="#fff" opacity="0.26"/>
<rect x="105" y="24.4" width="25" height="1.0" fill="#fff" opacity="0.28"/>
<rect x="195" y="24.8" width="37" height="1.0" fill="#fff" opacity="0.37"/>
<rect x="47" y="77.5" width="110" height="1.0" fill="#fff" opacity="0.37"/>
<rect x="-28" y="54.7" width="89" height="1.0" fill="#fff" opacity="0.27"/>
<rect x="212" y="57.9" width="46" height="1.3" fill="#fff" opacity="0.28"/>
<rect x="346" y="37.5" width="84" height="1.0" fill="#fff" opacity="0.47"/>
<rect x="197" y="46.5" width="68" height="1.3" fill="#fff" opacity="0.25"/>
<rect x="286" y="74.4" width="47" height="1.0" fill="#fff" opacity="0.24"/>
<rect x="320" y="24.0" width="100" height="1.0" fill="#fff" opacity="0.43"/>
<rect x="119" y="13.8" width="72" height="0.8" fill="#fff" opacity="0.34"/>
<rect x="136" y="65.0" width="103" height="1.0" fill="#fff" opacity="0.29"/>
<rect x="253" y="61.2" width="51" height="0.8" fill="#fff" opacity="0.25"/>
<rect x="140" y="2.7" width="65" height="0.8" fill="#fff" opacity="0.37"/>
<rect x="36" y="43.1" width="40" height="1.3" fill="#fff" opacity="0.22"/>
<rect x="303" y="59.9" width="90" height="1.6" fill="#fff" opacity="0.49"/>
<rect x="222" y="39.0" width="54" height="1.6" fill="#fff" opacity="0.43"/>
<rect x="172" y="82.6" width="95" height="1.6" fill="#fff" opacity="0.45"/>
<rect x="11" y="9.5" width="104" height="1.3" fill="#fff" opacity="0.36"/>
<rect x="149" y="75.1" width="45" height="0.8" fill="#fff" opacity="0.29"/>
<rect x="229" y="36.0" width="51" height="1.3" fill="#fff" opacity="0.43"/>
<rect x="93" y="49.3" width="22" height="0.8" fill="#fff" opacity="0.45"/>
<rect x="66" y="72.5" width="107" height="1.6" fill="#fff" opacity="0.41"/>
<rect x="190" y="19.8" width="44" height="1.6" fill="#fff" opacity="0.48"/>
<rect x="344" y="82.9" width="84" height="1.3" fill="#fff" opacity="0.46"/>
<rect x="144" y="66.8" width="36" height="1.6" fill="#fff" opacity="0.37"/>
<rect x="355" y="8.2" width="90" height="0.8" fill="#fff" opacity="0.46"/>
<rect x="212" y="37.6" width="43" height="1.3" fill="#fff" opacity="0.21"/>
<rect x="35" y="36.6" width="58" height="1.6" fill="#fff" opacity="0.24"/>
<rect x="263" y="19.2" width="44" height="1.6" fill="#fff" opacity="0.47"/>
<rect x="95" y="41.4" width="104" height="1.6" fill="#fff" opacity="0.46"/>
<rect x="49" y="71.3" width="81" height="0.8" fill="#fff" opacity="0.26"/>
<rect x="326" y="29.4" width="60" height="1.0" fill="#fff" opacity="0.39"/>
<rect x="265" y="46.5" width="66" height="1.0" fill="#fff" opacity="0.26"/>
<rect x="345" y="4.2" width="25" height="1.3" fill="#fff" opacity="0.49"/>
<rect x="80" y="34.9" width="99" height="1.3" fill="#fff" opacity="0.41"/>
<rect x="370" y="36.9" width="23" height="1.0" fill="#fff" opacity="0.46"/>
<rect x="13" y="57.4" width="41" height="1.0" fill="#fff" opacity="0.35"/>
<rect x="89" y="22.7" width="91" height="0.8" fill="#fff" opacity="0.38"/>
<rect x="60" y="25.0" width="103" height="1.0" fill="#fff" opacity="0.28"/>
<rect x="240" y="7.5" width="108" height="1.6" fill="#fff" opacity="0.48"/>
<rect x="-8" y="75.3" width="16" height="1.3" fill="#fff" opacity="0.36"/>
<rect x="145" y="47.2" width="31" height="1.0" fill="#fff" opacity="0.27"/>
<rect x="82" y="45.5" width="33" height="1.0" fill="#fff" opacity="0.50"/>
<rect x="-25" y="38.3" width="86" height="1.6" fill="#fff" opacity="0.20"/>
<rect x="350" y="5.0" width="21" height="1.3" fill="#fff" opacity="0.30"/>
<rect x="171" y="2.7" width="43" height="1.0" fill="#fff" opacity="0.38"/>
<rect x="297" y="9.3" width="56" height="1.6" fill="#fff" opacity="0.36"/>
<rect x="72" y="59.4" width="84" height="1.3" fill="#fff" opacity="0.35"/>
<rect x="57" y="48.1" width="62" height="0.8" fill="#fff" opacity="0.26"/>
<rect x="384" y="4.4" width="58" height="1.0" fill="#fff" opacity="0.30"/>
<rect x="226" y="50.5" width="92" height="1.6" fill="#fff" opacity="0.42"/>
<rect x="334" y="2.6" width="26" height="1.0" fill="#fff" opacity="0.37"/>
<rect x="197" y="65.7" width="38" height="1.0" fill="#fff" opacity="0.22"/>
<rect x="146" y="57.7" width="93" height="1.3" fill="#fff" opacity="0.43"/>
<rect x="178" y="54.0" width="64" height="1.6" fill="#fff" opacity="0.28"/>
<rect x="30" y="57.3" width="94" height="1.6" fill="#fff" opacity="0.22"/>
<rect x="139" y="30.2" width="36" height="0.8" fill="#fff" opacity="0.24"/>
<rect x="290" y="49.9" width="28" height="1.6" fill="#fff" opacity="0.36"/>
<rect x="391" y="0.3" width="54" height="1.0" fill="#fff" opacity="0.23"/>
<rect x="203" y="39.2" width="104" height="0.8" fill="#fff" opacity="0.40"/>
<rect x="273" y="81.0" width="73" height="1.3" fill="#fff" opacity="0.28"/>
<rect x="201" y="20.1" width="59" height="1.0" fill="#fff" opacity="0.31"/>
<rect x="107" y="81.4" width="73" height="0.8" fill="#fff" opacity="0.25"/>
<rect x="216" y="82.6" width="85" height="1.0" fill="#fff" opacity="0.34"/>
<rect x="132" y="70.0" width="51" height="0.8" fill="#fff" opacity="0.26"/>
<rect x="112" y="15.2" width="67" height="1.0" fill="#fff" opacity="0.34"/>
<rect x="135" y="49.3" width="87" height="1.6" fill="#fff" opacity="0.33"/>
<rect x="394" y="56.4" width="97" height="1.0" fill="#fff" opacity="0.36"/>
<rect x="143" y="3.9" width="41" height="1.3" fill="#fff" opacity="0.39"/>
<rect x="187" y="61.6" width="64" height="1.0" fill="#fff" opacity="0.28"/>
<rect x="118" y="12.7" width="104" height="1.3" fill="#fff" opacity="0.24"/>
<rect x="65" y="69.7" width="26" height="1.3" fill="#fff" opacity="0.45"/>
<rect x="157" y="70.9" width="51" height="1.3" fill="#fff" opacity="0.43"/>
<rect x="187" y="4.6" width="52" height="1.0" fill="#fff" opacity="0.35"/>
<rect x="42" y="42.7" width="27" height="1.0" fill="#fff" opacity="0.29"/>
<rect x="145" y="45.2" width="28" height="1.3" fill="#fff" opacity="0.29"/>
<rect x="157" y="31.3" width="99" height="1.3" fill="#fff" opacity="0.36"/>
<rect x="156" y="11.3" width="64" height="1.3" fill="#fff" opacity="0.27"/>
<rect x="88" y="28.6" width="35" height="0.8" fill="#fff" opacity="0.45"/>
<rect x="286" y="40.1" width="16" height="1.3" fill="#fff" opacity="0.40"/>
<rect x="-11" y="70.8" width="68" height="1.3" fill="#fff" opacity="0.40"/>
<rect x="377" y="72.1" width="37" height="1.3" fill="#fff" opacity="0.23"/>
<rect x="147" y="32.6" width="21" height="1.6" fill="#fff" opacity="0.48"/>
<rect x="84" y="58.4" width="36" height="1.6" fill="#fff" opacity="0.26"/>
<rect x="296" y="29.1" width="83" height="0.8" fill="#fff" opacity="0.42"/>
<rect x="357" y="66.7" width="60" height="1.3" fill="#fff" opacity="0.41"/>
<rect x="202" y="58.1" width="17" height="1.6" fill="#fff" opacity="0.24"/>
<rect x="358" y="75.7" width="41" height="1.6" fill="#fff" opacity="0.35"/>
<rect x="216" y="38.9" width="46" height="1.3" fill="#fff" opacity="0.22"/>
<rect x="-25" y="26.9" width="50" height="1.3" fill="#fff" opacity="0.28"/>
<rect x="252" y="15.4" width="60" height="1.3" fill="#fff" opacity="0.49"/>
<rect x="118" y="47.8" width="105" height="0.8" fill="#fff" opacity="0.39"/>
<rect x="231" y="34.1" width="54" height="1.3" fill="#fff" opacity="0.22"/>
<rect x="163" y="37.3" width="107" height="1.6" fill="#fff" opacity="0.21"/>
<rect x="19" y="42.1" width="44" height="1.3" fill="#fff" opacity="0.34"/>
<rect x="-31" y="50.2" width="41" height="1.3" fill="#fff" opacity="0.40"/>
<rect x="62" y="0.1" width="67" height="1.6" fill="#fff" opacity="0.20"/>
<rect x="199" y="70.5" width="88" height="0.8" fill="#fff" opacity="0.39"/>
<rect x="205" y="69.0" width="107" height="1.3" fill="#fff" opacity="0.28"/>
<rect x="5" y="1.6" width="92" height="1.0" fill="#fff" opacity="0.41"/>
<rect x="260" y="80.0" width="93" height="1.0" fill="#fff" opacity="0.30"/>
<rect x="261" y="66.8" width="43" height="1.6" fill="#fff" opacity="0.29"/>
<rect x="287" y="44.3" width="38" height="1.0" fill="#fff" opacity="0.31"/>
<rect x="269" y="76.1" width="85" height="0.8" fill="#fff" opacity="0.50"/>
<rect x="317" y="73.5" width="44" height="1.6" fill="#fff" opacity="0.35"/>
<rect x="257" y="3.4" width="74" height="1.6" fill="#fff" opacity="0.46"/>
<rect x="-17" y="21.1" width="63" height="1.6" fill="#fff" opacity="0.28"/>
<rect x="237" y="30.5" width="80" height="1.0" fill="#fff" opacity="0.30"/>
<rect x="292" y="69.9" width="94" height="1.6" fill="#fff" opacity="0.39"/>
<rect x="15" y="61.4" width="41" height="1.0" fill="#fff" opacity="0.24"/>
<rect x="125" y="55.6" width="37" height="1.0" fill="#fff" opacity="0.49"/>
<rect x="166" y="57.6" width="90" height="1.0" fill="#fff" opacity="0.28"/>
<rect x="78" y="20.9" width="78" height="1.6" fill="#fff" opacity="0.48"/>
<rect x="392" y="4.0" width="83" height="0.8" fill="#fff" opacity="0.46"/>
<rect x="45" y="29.6" width="66" height="0.8" fill="#fff" opacity="0.32"/>
<rect x="355" y="69.1" width="96" height="1.0" fill="#fff" opacity="0.31"/>
<rect x="95" y="66.4" width="95" height="1.3" fill="#fff" opacity="0.27"/>
<rect x="275" y="33.9" width="28" height="1.6" fill="#fff" opacity="0.40"/>
<rect x="55" y="23.5" width="97" height="1.6" fill="#fff" opacity="0.25"/>
<rect x="7" y="77.5" width="39" height="1.6" fill="#fff" opacity="0.33"/>
<rect x="26" y="73.4" width="41" height="1.0" fill="#fff" opacity="0.28"/>
<rect x="135" y="26.7" width="23" height="1.0" fill="#fff" opacity="0.31"/>
<rect x="73" y="4.3" width="21" height="1.3" fill="#fff" opacity="0.40"/>
<rect x="-38" y="27.9" width="28" height="1.0" fill="#fff" opacity="0.50"/>
<rect x="139" y="2.7" width="48" height="1.6" fill="#fff" opacity="0.37"/>
<rect x="54" y="51.2" width="94" height="1.3" fill="#fff" opacity="0.28"/>
<rect x="370" y="71.8" width="109" height="1.6" fill="#fff" opacity="0.37"/>
<rect x="371" y="3.9" width="96" height="1.0" fill="#fff" opacity="0.36"/>
<rect x="255" y="22.5" width="17" height="1.3" fill="#fff" opacity="0.22"/>
<rect x="164" y="73.6" width="21" height="1.3" fill="#fff" opacity="0.20"/>
<rect x="190" y="67.2" width="90" height="1.6" fill="#fff" opacity="0.32"/>
<rect x="311" y="68.7" width="88" height="0.8" fill="#fff" opacity="0.48"/>
<rect x="171" y="69.7" width="54" height="0.8" fill="#fff" opacity="0.20"/>
<rect x="22" y="26.9" width="84" height="1.3" fill="#fff" opacity="0.44"/>
<rect x="119" y="53.0" width="49" height="1.3" fill="#fff" opacity="0.22"/>
<rect x="246" y="49.3" width="40" height="1.0" fill="#fff" opacity="0.42"/>
<rect x="52" y="61.7" width="67" height="1.0" fill="#fff" opacity="0.25"/>
<rect x="6" y="11.9" width="48" height="1.6" fill="#fff" opacity="0.21"/>
<rect x="135" y="4.3" width="24" height="1.0" fill="#fff" opacity="0.21"/>
<rect x="36" y="5.5" width="71" height="1.3" fill="#fff" opacity="0.33"/>
<rect x="381" y="18.2" width="54" height="1.0" fill="#fff" opacity="0.44"/>
<rect x="-9" y="32.4" width="102" height="1.0" fill="#fff" opacity="0.43"/>
<rect x="189" y="0.8" width="84" height="1.6" fill="#fff" opacity="0.47"/>
<rect x="-16" y="51.2" width="48" height="1.6" fill="#fff" opacity="0.46"/>
<rect x="235" y="41.9" width="69" height="0.8" fill="#fff" opacity="0.24"/>
<rect x="283" y="61.8" width="56" height="1.6" fill="#fff" opacity="0.33"/>
<rect x="128" y="19.1" width="72" height="0.8" fill="#fff" opacity="0.35"/>
<rect x="-26" y="52.1" width="57" height="0.8" fill="#fff" opacity="0.38"/>
<rect x="367" y="12.6" width="60" height="1.3" fill="#fff" opacity="0.42"/>
<rect x="97" y="61.2" width="109" height="1.6" fill="#fff" opacity="0.22"/>
<rect x="383" y="62.5" width="100" height="0.8" fill="#fff" opacity="0.27"/>
<rect x="327" y="53.9" width="104" height="0.8" fill="#fff" opacity="0.44"/>
<rect x="184" y="82.5" width="21" height="0.8" fill="#fff" opacity="0.41"/>
<rect x="70" y="67.0" width="58" height="0.8" fill="#fff" opacity="0.46"/>
<rect x="46" y="23.2" width="76" height="0.8" fill="#fff" opacity="0.23"/>
<rect x="152" y="62.8" width="98" height="0.8" fill="#fff" opacity="0.44"/>
<rect x="334" y="64.0" width="67" height="0.8" fill="#fff" opacity="0.44"/>
<rect x="26" y="30.4" width="25" height="0.8" fill="#fff" opacity="0.48"/>
<rect x="377" y="18.2" width="42" height="1.6" fill="#fff" opacity="0.25"/>
<rect x="130" y="70.5" width="74" height="1.6" fill="#fff" opacity="0.22"/>
<rect x="392" y="17.2" width="75" height="1.0" fill="#fff" opacity="0.37"/>
<rect x="395" y="31.4" width="93" height="1.3" fill="#fff" opacity="0.45"/>
<rect x="373" y="54.6" width="35" height="1.0" fill="#fff" opacity="0.25"/>
<rect x="16" y="57.6" width="59" height="1.0" fill="#fff" opacity="0.28"/>
<rect x="73" y="28.6" width="74" height="1.3" fill="#fff" opacity="0.26"/>
<rect x="395" y="57.4" width="85" height="1.3" fill="#fff" opacity="0.46"/>
<rect x="296" y="16.6" width="22" height="1.3" fill="#fff" opacity="0.33"/>
<rect x="318" y="33.9" width="58" height="0.8" fill="#fff" opacity="0.48"/>
<rect x="111" y="58.4" width="37" height="0.8" fill="#fff" opacity="0.29"/>
<rect x="341" y="23.8" width="96" height="1.6" fill="#fff" opacity="0.27"/>
<rect x="169" y="16.5" width="54" height="1.0" fill="#fff" opacity="0.33"/>
<rect x="-12" y="34.8" width="42" height="1.6" fill="#fff" opacity="0.40"/>
<rect x="77" y="54.9" width="16" height="1.0" fill="#fff" opacity="0.20"/>
<rect x="124" y="49.2" width="97" height="1.6" fill="#fff" opacity="0.33"/>
<rect x="109" y="68.1" width="96" height="0.8" fill="#fff" opacity="0.36"/>
<rect x="3" y="74.4" width="23" height="1.3" fill="#fff" opacity="0.20"/>
<rect x="-27" y="49.0" width="81" height="0.8" fill="#fff" opacity="0.40"/>
<rect x="28" y="6.0" width="31" height="1.3" fill="#fff" opacity="0.34"/>
<rect x="245" y="5.1" width="36" height="0.8" fill="#fff" opacity="0.50"/>
<rect x="133" y="68.8" width="77" height="0.8" fill="#fff" opacity="0.50"/>
<rect x="-11" y="38.4" width="53" height="1.0" fill="#fff" opacity="0.36"/>
<rect x="215" y="41.3" width="94" height="1.6" fill="#fff" opacity="0.23"/>
<rect x="307" y="0.3" width="106" height="1.3" fill="#fff" opacity="0.40"/>
<rect x="384" y="39.3" width="99" height="1.6" fill="#fff" opacity="0.34"/>
<rect x="-33" y="71.4" width="105" height="0.8" fill="#fff" opacity="0.23"/>
<rect x="140" y="46.6" width="108" height="0.8" fill="#fff" opacity="0.29"/>
<rect x="182" y="10.3" width="69" height="1.0" fill="#fff" opacity="0.40"/>
<rect x="183" y="25.6" width="49" height="1.0" fill="#fff" opacity="0.27"/>
</pattern>
<filter id="nred" x="0" y="0" width="100%" height="100%" color-interpolation-filters="sRGB"><feTurbulence type="fractalNoise" baseFrequency="0.06 0.55" numOctaves="2" seed="4"/><feColorMatrix type="matrix" values="0 0 0 0 0.74  0 0 0 0 0.45  0 0 0 0 0.50  0.9 0 0 0 -0.47"/></filter>
<filter id="nblue" x="0" y="0" width="100%" height="100%" color-interpolation-filters="sRGB"><feTurbulence type="fractalNoise" baseFrequency="0.06 0.55" numOctaves="2" seed="9"/><feColorMatrix type="matrix" values="0 0 0 0 0.45  0 0 0 0 0.47  0 0 0 0 0.75  0 0.9 0 0 -0.45"/></filter>
<filter id="hblur" x="-1%" y="-1%" width="102%" height="102%"><feGaussianBlur stdDeviation="2.6 0.6"/></filter>
</defs>
<g clip-path="url(#clip_ra)">
<g filter="url(#hblur)">
<rect x="584.7" y="54.3" width="1515.3" height="347.5" fill="#f5f4f8"/>
<rect x="723.5" y="279.5" width="18.7" height="14.1" fill="#e7e8f4"/>
<rect x="643.9" y="58.2" width="4.7" height="34.0" fill="#f0e4e5"/>
<rect x="791.4" y="58.2" width="9.4" height="34.0" fill="#e4e5f2"/>
<rect x="1249.3" y="58.2" width="7.0" height="34.0" fill="#f0e4e5"/>
<rect x="1261.0" y="58.2" width="7.0" height="34.0" fill="#e4e5f2"/>
<rect x="1352.4" y="58.2" width="7.0" height="34.0" fill="#e4e5f2"/>
<rect x="1481.8" y="58.2" width="4.7" height="34.0" fill="#f0e4e5"/>
<rect x="1502.9" y="58.2" width="11.7" height="34.0" fill="#f0e4e5"/>
<rect x="1486.5" y="331.0" width="14.1" height="65.6" fill="#e4e5f2"/>
<rect x="1956.4" y="160.1" width="9.4" height="28.1" fill="#e4e5f2"/>
<rect x="618.1" y="58.2" width="9.4" height="34.0" fill="#efe1e1"/>
<rect x="1057.3" y="58.2" width="9.4" height="34.0" fill="#e0e2f1"/>
<rect x="1183.7" y="326.3" width="32.8" height="51.5" fill="#e0e2f1"/>
<rect x="753.9" y="58.2" width="7.0" height="34.0" fill="#eddbdb"/>
<rect x="782.0" y="58.2" width="4.7" height="34.0" fill="#eddbdb"/>
<rect x="974.1" y="326.3" width="14.1" height="74.9" fill="#daddef"/>
<rect x="2023.2" y="92.2" width="9.4" height="89.0" fill="#eddbdb"/>
<rect x="1700.0" y="379.0" width="400.0" height="1.9" fill="#eddbdb"/>
<rect x="1645.7" y="58.2" width="53.9" height="34.0" fill="#d3d7ed"/>
<rect x="683.7" y="58.2" width="10.5" height="34.0" fill="#e7cece"/>
<rect x="728.2" y="94.5" width="16.4" height="5.9" fill="#cfd2eb"/>
<rect x="1080.7" y="58.2" width="16.4" height="34.0" fill="#cfd2eb"/>
<rect x="1465.4" y="58.2" width="7.0" height="34.0" fill="#e7cece"/>
<rect x="1491.1" y="58.2" width="7.0" height="34.0" fill="#cfd2eb"/>
<rect x="1577.8" y="58.2" width="14.1" height="34.0" fill="#cfd2eb"/>
<rect x="1629.3" y="58.2" width="11.7" height="34.0" fill="#cfd2eb"/>
<rect x="1645.7" y="298.2" width="18.7" height="4.7" fill="#cfd2eb"/>
<rect x="1842.9" y="58.2" width="11.7" height="34.0" fill="#cfd2eb"/>
<rect x="1945.9" y="58.2" width="25.8" height="34.0" fill="#cfd2eb"/>
<rect x="2066.5" y="58.2" width="5.9" height="34.0" fill="#e7cece"/>
<rect x="2084.1" y="58.2" width="4.7" height="34.0" fill="#e7cece"/>
<rect x="1956.4" y="307.6" width="9.4" height="70.3" fill="#cfd2eb"/>
<rect x="2044.3" y="106.2" width="18.7" height="18.7" fill="#e7cece"/>
<rect x="1282.1" y="58.2" width="25.8" height="34.0" fill="#e5c9c9"/>
<rect x="1608.2" y="58.2" width="11.7" height="34.0" fill="#c3c7e6"/>
<rect x="1737.0" y="58.2" width="7.0" height="34.0" fill="#e1c1c1"/>
<rect x="1360.0" y="379.0" width="400.0" height="1.9" fill="#e1c1c1"/>
<rect x="1737.5" y="58.2" width="7.0" height="34.0" fill="#e1c1c1"/>
<rect x="908.5" y="58.2" width="9.4" height="34.0" fill="#dcb5b5"/>
<rect x="1024.5" y="58.2" width="14.1" height="34.0" fill="#dcb5b5"/>
<rect x="1143.9" y="58.2" width="9.4" height="34.0" fill="#dcb5b5"/>
<rect x="1183.7" y="92.2" width="32.8" height="32.8" fill="#dcb5b5"/>
<rect x="980.0" y="379.0" width="400.0" height="1.9" fill="#dcb5b5"/>
<rect x="1523.9" y="58.2" width="4.7" height="34.0" fill="#b8bce1"/>
<rect x="1671.5" y="58.2" width="28.1" height="34.0" fill="#b8bce1"/>
<rect x="1763.2" y="58.2" width="4.7" height="34.0" fill="#dcb5b5"/>
<rect x="1859.3" y="58.2" width="7.0" height="34.0" fill="#dcb5b5"/>
<rect x="1878.0" y="58.2" width="23.4" height="34.0" fill="#b8bce1"/>
<rect x="2046.6" y="361.5" width="15.2" height="4.7" fill="#b8bce1"/>
<rect x="857.0" y="58.2" width="10.5" height="34.0" fill="#adb0db"/>
<rect x="724.7" y="342.7" width="17.6" height="5.9" fill="#d7aaaa"/>
<rect x="590.0" y="379.0" width="400.0" height="2.1" fill="#d7aaaa"/>
<rect x="1928.3" y="58.2" width="4.7" height="34.0" fill="#d7aaaa"/>
<rect x="2024.4" y="58.2" width="8.2" height="34.0" fill="#adb0db"/>
<rect x="1183.7" y="58.2" width="30.4" height="34.0" fill="#a7a9d7"/>
<rect x="821.9" y="58.2" width="30.4" height="34.0" fill="#d29e9e"/>
<rect x="881.6" y="58.2" width="24.6" height="34.0" fill="#d29e9e"/>
<rect x="1188.4" y="286.5" width="11.7" height="4.7" fill="#d29e9e"/>
<rect x="1360.0" y="58.2" width="4.7" height="34.0" fill="#d29e9e"/>
<rect x="1706.6" y="245.8" width="53.4" height="1.9" fill="#d29e9e"/>
<rect x="1956.4" y="188.2" width="9.4" height="119.4" fill="#a2a5d5"/>
<rect x="2051.3" y="379.0" width="37.5" height="3.0" fill="#a2a5d5"/>
<rect x="662.6" y="58.2" width="10.5" height="34.0" fill="#cd9393"/>
<rect x="859.3" y="95.7" width="9.4" height="4.7" fill="#cd9393"/>
<rect x="632.2" y="239.2" width="11.7" height="1.9" fill="#cd9393"/>
<rect x="1024.5" y="59.4" width="14.1" height="4.7" fill="#cd9393"/>
<rect x="1024.5" y="78.1" width="14.1" height="5.9" fill="#cd9393"/>
<rect x="1217.7" y="58.2" width="8.2" height="34.0" fill="#cd9393"/>
<rect x="1364.1" y="58.2" width="15.9" height="34.0" fill="#cd9393"/>
<rect x="1293.8" y="328.7" width="11.7" height="3.5" fill="#cd9393"/>
<rect x="1162.7" y="116.7" width="11.7" height="1.6" fill="#cd9393"/>
<rect x="2043.1" y="58.2" width="18.7" height="34.0" fill="#9799ce"/>
<rect x="2023.2" y="177.6" width="14.1" height="4.0" fill="#cd9393"/>
<rect x="845.3" y="300.6" width="14.1" height="1.9" fill="#c88686"/>
<rect x="744.6" y="269.4" width="9.4" height="1.9" fill="#c88686"/>
<rect x="1174.4" y="58.2" width="8.2" height="34.0" fill="#c88686"/>
<rect x="1183.7" y="117.9" width="32.8" height="5.9" fill="#c88686"/>
<rect x="1043.2" y="304.8" width="9.4" height="1.6" fill="#c88686"/>
<rect x="1045.6" y="325.2" width="11.7" height="1.9" fill="#c88686"/>
<rect x="1033.9" y="333.8" width="9.4" height="1.9" fill="#c88686"/>
<rect x="1043.2" y="346.3" width="9.4" height="1.6" fill="#c88686"/>
<rect x="1372.9" y="58.2" width="9.4" height="34.0" fill="#c88686"/>
<rect x="1634.0" y="92.2" width="9.4" height="2.3" fill="#c88686"/>
<rect x="1488.8" y="298.7" width="9.4" height="2.3" fill="#c88686"/>
<rect x="1488.8" y="311.1" width="9.4" height="2.3" fill="#c88686"/>
<rect x="1427.9" y="300.1" width="9.4" height="2.8" fill="#c88686"/>
<rect x="1652.7" y="384.9" width="11.7" height="1.9" fill="#c88686"/>
<rect x="1744.1" y="351.6" width="14.1" height="1.9" fill="#c88686"/>
<rect x="1938.9" y="94.0" width="32.8" height="2.8" fill="#c88686"/>
<rect x="1882.7" y="252.6" width="9.4" height="2.1" fill="#c88686"/>
<rect x="1962.3" y="301.8" width="9.4" height="2.3" fill="#c88686"/>
<rect x="594.7" y="58.2" width="11.7" height="34.0" fill="#c27a79"/>
<rect x="618.1" y="266.9" width="32.8" height="2.3" fill="#c27a79"/>
<rect x="1183.7" y="93.3" width="32.8" height="5.9" fill="#c27a79"/>
<rect x="1183.7" y="310.4" width="14.1" height="2.8" fill="#c27a79"/>
<rect x="1228.2" y="221.7" width="16.4" height="1.9" fill="#c27a79"/>
<rect x="1111.1" y="318.1" width="9.4" height="1.9" fill="#c27a79"/>
<rect x="1570.8" y="92.6" width="11.7" height="2.8" fill="#c27a79"/>
<rect x="1631.7" y="295.0" width="11.7" height="1.9" fill="#c27a79"/>
<rect x="1955.3" y="58.2" width="9.4" height="34.0" fill="#7f80c0"/>
<rect x="1956.4" y="171.8" width="8.2" height="4.7" fill="#c27a79"/>
<rect x="2044.3" y="92.2" width="18.7" height="14.1" fill="#c27a79"/>
<rect x="1770.3" y="212.8" width="14.1" height="2.3" fill="#c27a79"/>
<rect x="594.7" y="87.5" width="11.7" height="3.5" fill="#be6f6d"/>
<rect x="727.0" y="58.2" width="14.1" height="34.0" fill="#be6f6d"/>
<rect x="821.9" y="82.8" width="30.4" height="4.7" fill="#be6f6d"/>
<rect x="894.4" y="58.2" width="10.5" height="34.0" fill="#be6f6d"/>
<rect x="859.3" y="106.2" width="9.4" height="2.8" fill="#be6f6d"/>
<rect x="974.1" y="98.0" width="11.7" height="3.0" fill="#be6f6d"/>
<rect x="770.3" y="229.4" width="14.1" height="2.3" fill="#be6f6d"/>
<rect x="893.3" y="176.9" width="10.5" height="2.3" fill="#be6f6d"/>
<rect x="859.3" y="264.1" width="9.4" height="2.3" fill="#be6f6d"/>
<rect x="821.9" y="340.4" width="7.0" height="2.3" fill="#be6f6d"/>
<rect x="679.0" y="337.4" width="9.4" height="1.9" fill="#be6f6d"/>
<rect x="1101.8" y="58.2" width="32.8" height="34.0" fill="#be6f6d"/>
<rect x="980.0" y="291.2" width="14.1" height="3.5" fill="#be6f6d"/>
<rect x="980.0" y="108.5" width="4.7" height="3.5" fill="#be6f6d"/>
<rect x="1487.6" y="91.7" width="11.7" height="2.8" fill="#be6f6d"/>
<rect x="1397.5" y="217.2" width="14.1" height="1.9" fill="#be6f6d"/>
<rect x="1664.4" y="215.6" width="16.4" height="2.1" fill="#be6f6d"/>
<rect x="1690.2" y="332.7" width="9.4" height="2.3" fill="#be6f6d"/>
<rect x="1746.4" y="368.5" width="11.7" height="2.3" fill="#be6f6d"/>
<rect x="1840.5" y="93.3" width="14.1" height="3.5" fill="#be6f6d"/>
<rect x="1746.8" y="244.4" width="14.1" height="2.8" fill="#be6f6d"/>
<rect x="1920.1" y="223.3" width="7.0" height="2.3" fill="#be6f6d"/>
<rect x="1985.7" y="231.7" width="10.5" height="2.3" fill="#be6f6d"/>
<rect x="1997.4" y="209.3" width="7.0" height="1.9" fill="#be6f6d"/>
<rect x="1749.2" y="351.4" width="9.4" height="2.3" fill="#be6f6d"/>
<rect x="1746.8" y="369.7" width="11.7" height="2.3" fill="#be6f6d"/>
<rect x="1076.0" y="283.0" width="21.1" height="5.9" fill="#ba6361"/>
<rect x="1617.6" y="219.8" width="11.7" height="2.6" fill="#ba6361"/>
<rect x="1955.3" y="270.1" width="11.7" height="4.7" fill="#686cb8"/>
<rect x="1955.3" y="377.9" width="11.7" height="7.0" fill="#686cb8"/>
<rect x="2048.9" y="241.6" width="16.4" height="3.3" fill="#ba6361"/>
<rect x="2053.6" y="187.0" width="11.7" height="2.3" fill="#ba6361"/>
<rect x="969.4" y="290.7" width="20.6" height="4.0" fill="#b65855"/>
<rect x="724.7" y="337.6" width="17.6" height="4.7" fill="#b65855"/>
<rect x="696.6" y="319.3" width="12.9" height="2.3" fill="#b65855"/>
<rect x="998.7" y="58.2" width="11.7" height="34.0" fill="#b65855"/>
<rect x="1580.1" y="247.4" width="14.1" height="3.5" fill="#b65855"/>
<rect x="1955.3" y="189.3" width="11.7" height="4.0" fill="#5d62b4"/>
<rect x="1906.1" y="391.9" width="7.0" height="7.5" fill="#b65855"/>
<rect x="1878.0" y="367.3" width="7.0" height="3.5" fill="#b65855"/>
<rect x="594.7" y="64.1" width="11.7" height="4.7" fill="#b24e48"/>
<rect x="594.7" y="78.1" width="11.7" height="3.5" fill="#b24e48"/>
<rect x="821.9" y="61.7" width="30.4" height="8.2" fill="#b24e48"/>
<rect x="933.1" y="58.2" width="17.6" height="34.0" fill="#b24e48"/>
<rect x="974.1" y="108.5" width="11.7" height="2.8" fill="#b24e48"/>
<rect x="1120.5" y="64.1" width="14.1" height="23.4" fill="#b24e48"/>
<rect x="1272.7" y="297.1" width="9.4" height="4.7" fill="#b24e48"/>
<rect x="1487.6" y="96.8" width="11.7" height="3.3" fill="#b24e48"/>
<rect x="1451.3" y="224.5" width="11.7" height="2.8" fill="#b24e48"/>
<rect x="1519.3" y="280.7" width="9.4" height="3.0" fill="#b24e48"/>
<rect x="1692.6" y="314.6" width="8.2" height="3.5" fill="#b24e48"/>
<rect x="2044.3" y="98.0" width="18.7" height="4.7" fill="#b24e48"/>
<rect x="974.1" y="58.2" width="15.9" height="34.0" fill="#4951ac"/>
<rect x="1101.8" y="82.8" width="32.8" height="5.9" fill="#ad433d"/>
<rect x="1807.7" y="58.2" width="8.2" height="34.0" fill="#ad433d"/>
<rect x="1824.1" y="58.2" width="12.9" height="34.0" fill="#ad433d"/>
<rect x="727.0" y="68.7" width="14.1" height="7.0" fill="#a93831"/>
<rect x="727.0" y="79.3" width="14.1" height="5.9" fill="#a93831"/>
<rect x="1101.8" y="64.1" width="14.1" height="11.7" fill="#a93831"/>
<rect x="676.7" y="184.0" width="9.8" height="5.4" fill="#a4302b"/>
<rect x="1954.1" y="92.2" width="14.1" height="67.9" fill="#9f2727"/>
<rect x="584.7" y="54.3" width="1515.3" height="347.5" fill="url(#rows)"/>
</g>
<rect x="594.7" y="57.3" width="1495.3" height="341.5" fill="#fff" filter="url(#nred)" opacity="0.9"/>
<rect x="594.7" y="57.3" width="1495.3" height="341.5" fill="#fff" filter="url(#nblue)" opacity="0.9"/>
</g>
<g clip-path="url(#clip_oa)">
<g filter="url(#hblur)">
<rect x="584.7" y="470.5" width="1515.3" height="706.5" fill="#f5f4f8"/>
<rect x="607.8" y="934.8" width="89.0" height="240.3" fill="#f3eef0"/>
<rect x="1384.5" y="934.8" width="62.3" height="240.3" fill="#f3ecef"/>
<rect x="1776.1" y="934.8" width="31.2" height="240.3" fill="#f3ecef"/>
<rect x="1701.9" y="570.9" width="58.1" height="66.3" fill="#eaebf5"/>
<rect x="1702.3" y="823.3" width="59.0" height="112.4" fill="#eaebf5"/>
<rect x="700.1" y="570.9" width="119.4" height="66.3" fill="#e9eaf4"/>
<rect x="1702.3" y="638.3" width="59.0" height="111.2" fill="#e9eaf4"/>
<rect x="1183.7" y="638.3" width="30.4" height="111.2" fill="#e7e8f4"/>
<rect x="1050.3" y="473.2" width="49.2" height="50.4" fill="#e4e5f2"/>
<rect x="1226.4" y="934.8" width="53.4" height="240.3" fill="#e4e5f2"/>
<rect x="1704.9" y="934.8" width="26.7" height="240.3" fill="#e4e5f2"/>
<rect x="594.7" y="473.2" width="32.8" height="50.4" fill="#efe1e1"/>
<rect x="723.5" y="823.3" width="11.7" height="56.2" fill="#e0e2f1"/>
<rect x="1237.6" y="638.3" width="42.2" height="111.2" fill="#e0e2f1"/>
<rect x="1845.2" y="473.2" width="23.4" height="50.4" fill="#e0e2f1"/>
<rect x="1057.3" y="934.8" width="42.3" height="240.3" fill="#e0e2f1"/>
<rect x="1340.0" y="934.8" width="20.0" height="240.3" fill="#e0e2f1"/>
<rect x="707.1" y="524.7" width="112.4" height="10.5" fill="#eddbdb"/>
<rect x="974.1" y="570.9" width="15.9" height="66.3" fill="#daddef"/>
<rect x="657.9" y="661.7" width="7.0" height="87.8" fill="#daddef"/>
<rect x="657.9" y="751.2" width="9.4" height="72.1" fill="#daddef"/>
<rect x="861.7" y="751.2" width="9.4" height="72.1" fill="#daddef"/>
<rect x="1183.7" y="473.2" width="96.0" height="50.4" fill="#daddef"/>
<rect x="1111.1" y="570.9" width="18.7" height="66.3" fill="#daddef"/>
<rect x="1045.6" y="661.7" width="4.7" height="87.8" fill="#daddef"/>
<rect x="1645.7" y="473.2" width="53.9" height="50.4" fill="#eddbdb"/>
<rect x="1533.3" y="638.3" width="14.1" height="111.2" fill="#daddef"/>
<rect x="1742.2" y="473.2" width="18.7" height="50.4" fill="#daddef"/>
<rect x="701.3" y="934.8" width="22.3" height="240.3" fill="#eddbdb"/>
<rect x="822.3" y="1127.9" width="30.3" height="12.0" fill="#eddbdb"/>
<rect x="1491.3" y="934.8" width="6.7" height="240.3" fill="#daddef"/>
<rect x="1651.5" y="1129.7" width="44.5" height="45.4" fill="#eddbdb"/>
<rect x="657.9" y="502.5" width="9.4" height="21.1" fill="#cfd2eb"/>
<rect x="636.8" y="509.5" width="11.7" height="9.4" fill="#e7cece"/>
<rect x="657.9" y="523.5" width="9.4" height="47.3" fill="#cfd2eb"/>
<rect x="974.1" y="524.7" width="15.9" height="29.3" fill="#cfd2eb"/>
<rect x="632.2" y="661.7" width="9.4" height="87.8" fill="#cfd2eb"/>
<rect x="676.7" y="661.7" width="7.0" height="87.8" fill="#cfd2eb"/>
<rect x="807.8" y="668.7" width="7.0" height="80.8" fill="#cfd2eb"/>
<rect x="634.5" y="751.2" width="7.0" height="72.1" fill="#cfd2eb"/>
<rect x="1340.7" y="473.2" width="7.0" height="50.4" fill="#e7cece"/>
<rect x="1350.0" y="502.5" width="9.4" height="16.4" fill="#cfd2eb"/>
<rect x="1340.7" y="523.5" width="9.4" height="47.3" fill="#e7cece"/>
<rect x="1165.0" y="661.7" width="7.0" height="87.8" fill="#cfd2eb"/>
<rect x="1120.5" y="823.3" width="9.4" height="51.5" fill="#cfd2eb"/>
<rect x="1701.9" y="552.8" width="58.1" height="16.4" fill="#cfd2eb"/>
<rect x="1360.0" y="603.6" width="400.0" height="1.4" fill="#cfd2eb"/>
<rect x="1399.8" y="661.7" width="11.7" height="87.8" fill="#cfd2eb"/>
<rect x="1617.6" y="638.3" width="23.4" height="111.2" fill="#cfd2eb"/>
<rect x="1648.1" y="638.3" width="11.7" height="111.2" fill="#e7cece"/>
<rect x="1706.6" y="638.3" width="11.7" height="111.2" fill="#cfd2eb"/>
<rect x="1734.7" y="638.3" width="9.4" height="111.2" fill="#e7cece"/>
<rect x="1584.8" y="823.3" width="9.4" height="112.4" fill="#cfd2eb"/>
<rect x="1702.3" y="552.8" width="59.0" height="16.4" fill="#cfd2eb"/>
<rect x="1821.8" y="570.9" width="14.1" height="66.3" fill="#e7cece"/>
<rect x="1746.8" y="638.3" width="11.7" height="111.2" fill="#cfd2eb"/>
<rect x="679.0" y="934.8" width="15.6" height="240.3" fill="#e7cece"/>
<rect x="790.3" y="1049.6" width="28.9" height="125.5" fill="#cfd2eb"/>
<rect x="880.2" y="1149.7" width="25.8" height="25.4" fill="#e7cece"/>
<rect x="1442.4" y="934.8" width="6.7" height="240.3" fill="#cfd2eb"/>
<rect x="1513.6" y="934.8" width="13.4" height="240.3" fill="#e7cece"/>
<rect x="1900.7" y="1129.7" width="22.3" height="45.4" fill="#e7cece"/>
<rect x="1998.7" y="1129.7" width="22.3" height="45.4" fill="#e7cece"/>
<rect x="1999.8" y="570.9" width="18.7" height="66.3" fill="#e5c9c9"/>
<rect x="676.7" y="473.2" width="5.9" height="50.4" fill="#c3c7e6"/>
<rect x="861.7" y="473.2" width="7.0" height="50.4" fill="#c3c7e6"/>
<rect x="936.6" y="570.9" width="11.7" height="66.3" fill="#e1c1c1"/>
<rect x="1120.5" y="523.5" width="9.4" height="47.3" fill="#c3c7e6"/>
<rect x="1183.7" y="523.5" width="21.1" height="47.3" fill="#c3c7e6"/>
<rect x="1427.9" y="473.2" width="9.4" height="50.4" fill="#e1c1c1"/>
<rect x="1620.0" y="570.9" width="7.0" height="66.3" fill="#c3c7e6"/>
<rect x="1620.0" y="751.2" width="7.0" height="72.1" fill="#c3c7e6"/>
<rect x="1796.0" y="523.5" width="7.0" height="47.3" fill="#c3c7e6"/>
<rect x="1742.2" y="570.9" width="18.7" height="66.3" fill="#c3c7e6"/>
<rect x="2002.1" y="664.1" width="18.7" height="85.5" fill="#e1c1c1"/>
<rect x="1859.3" y="751.2" width="7.0" height="72.1" fill="#e1c1c1"/>
<rect x="2056.0" y="751.2" width="5.9" height="72.1" fill="#c3c7e6"/>
<rect x="822.3" y="1149.7" width="30.3" height="25.4" fill="#e1c1c1"/>
<rect x="1184.1" y="934.8" width="28.9" height="240.3" fill="#c3c7e6"/>
<rect x="1607.0" y="934.8" width="35.6" height="240.3" fill="#c3c7e6"/>
<rect x="1647.1" y="934.8" width="22.3" height="240.3" fill="#c3c7e6"/>
<rect x="859.2" y="934.8" width="8.9" height="240.3" fill="#bcc0e4"/>
<rect x="753.9" y="473.2" width="9.4" height="50.4" fill="#dcb5b5"/>
<rect x="824.2" y="507.2" width="23.4" height="14.1" fill="#dcb5b5"/>
<rect x="883.9" y="473.2" width="8.2" height="50.4" fill="#dcb5b5"/>
<rect x="821.9" y="554.0" width="84.3" height="16.9" fill="#dcb5b5"/>
<rect x="676.7" y="575.1" width="7.0" height="62.1" fill="#b8bce1"/>
<rect x="728.2" y="584.4" width="7.0" height="18.7" fill="#b8bce1"/>
<rect x="594.7" y="638.3" width="11.7" height="30.4" fill="#dcb5b5"/>
<rect x="883.9" y="694.5" width="8.2" height="55.0" fill="#dcb5b5"/>
<rect x="590.0" y="649.1" width="400.0" height="1.9" fill="#dcb5b5"/>
<rect x="725.8" y="755.4" width="4.7" height="4.7" fill="#b8bce1"/>
<rect x="824.2" y="769.4" width="23.4" height="46.8" fill="#dcb5b5"/>
<rect x="934.3" y="823.3" width="14.1" height="112.4" fill="#dcb5b5"/>
<rect x="974.1" y="823.3" width="14.1" height="112.4" fill="#b8bce1"/>
<rect x="833.6" y="879.5" width="7.0" height="56.2" fill="#dcb5b5"/>
<rect x="1101.8" y="504.8" width="9.4" height="7.0" fill="#dcb5b5"/>
<rect x="1300.8" y="473.2" width="7.0" height="15.2" fill="#dcb5b5"/>
<rect x="1033.9" y="570.9" width="7.0" height="66.3" fill="#dcb5b5"/>
<rect x="1235.3" y="570.9" width="7.0" height="66.3" fill="#b8bce1"/>
<rect x="1022.2" y="661.7" width="4.7" height="87.8" fill="#dcb5b5"/>
<rect x="1090.1" y="661.7" width="9.4" height="87.8" fill="#b8bce1"/>
<rect x="1125.2" y="661.7" width="7.0" height="87.8" fill="#dcb5b5"/>
<rect x="1347.7" y="661.7" width="9.4" height="87.8" fill="#b8bce1"/>
<rect x="1368.8" y="751.2" width="11.2" height="72.1" fill="#dcb5b5"/>
<rect x="1038.5" y="825.7" width="4.7" height="49.2" fill="#dcb5b5"/>
<rect x="1183.7" y="848.1" width="96.0" height="1.9" fill="#b8bce1"/>
<rect x="1249.3" y="825.7" width="4.7" height="49.2" fill="#dcb5b5"/>
<rect x="980.0" y="823.3" width="5.9" height="112.4" fill="#b8bce1"/>
<rect x="1554.4" y="490.8" width="9.4" height="4.7" fill="#dcb5b5"/>
<rect x="1531.0" y="552.1" width="112.4" height="1.6" fill="#b8bce1"/>
<rect x="1453.7" y="525.9" width="14.1" height="9.4" fill="#b8bce1"/>
<rect x="1481.8" y="577.4" width="5.9" height="59.7" fill="#dcb5b5"/>
<rect x="1748.8" y="628.9" width="11.2" height="8.2" fill="#b8bce1"/>
<rect x="1425.6" y="638.3" width="7.0" height="111.2" fill="#dcb5b5"/>
<rect x="1463.0" y="638.3" width="9.4" height="111.2" fill="#dcb5b5"/>
<rect x="1481.8" y="638.3" width="7.0" height="111.2" fill="#dcb5b5"/>
<rect x="1521.6" y="638.3" width="5.9" height="111.2" fill="#b8bce1"/>
<rect x="1584.8" y="661.7" width="11.7" height="87.8" fill="#b8bce1"/>
<rect x="1371.7" y="774.1" width="16.4" height="4.7" fill="#dcb5b5"/>
<rect x="1514.6" y="774.1" width="9.4" height="4.7" fill="#b8bce1"/>
<rect x="1655.1" y="774.1" width="14.1" height="42.2" fill="#dcb5b5"/>
<rect x="1371.7" y="823.3" width="7.0" height="112.4" fill="#dcb5b5"/>
<rect x="1458.4" y="848.1" width="65.6" height="1.9" fill="#b8bce1"/>
<rect x="1620.0" y="823.3" width="7.0" height="112.4" fill="#b8bce1"/>
<rect x="1644.5" y="829.4" width="55.0" height="1.9" fill="#b8bce1"/>
<rect x="1704.3" y="843.5" width="55.7" height="1.9" fill="#b8bce1"/>
<rect x="1903.7" y="570.9" width="16.4" height="66.3" fill="#dcb5b5"/>
<rect x="1793.7" y="671.1" width="9.4" height="78.5" fill="#b8bce1"/>
<rect x="1793.7" y="751.2" width="9.4" height="18.3" fill="#b8bce1"/>
<rect x="1821.8" y="751.2" width="9.4" height="72.1" fill="#dcb5b5"/>
<rect x="2002.1" y="751.2" width="16.4" height="72.1" fill="#dcb5b5"/>
<rect x="1861.6" y="823.3" width="7.0" height="112.4" fill="#dcb5b5"/>
<rect x="1999.8" y="879.5" width="14.1" height="53.9" fill="#dcb5b5"/>
<rect x="2056.0" y="823.3" width="7.0" height="112.4" fill="#b8bce1"/>
<rect x="1702.3" y="874.8" width="59.0" height="2.3" fill="#b8bce1"/>
<rect x="616.7" y="934.8" width="6.7" height="240.3" fill="#dcb5b5"/>
<rect x="652.3" y="934.8" width="6.7" height="240.3" fill="#dcb5b5"/>
<rect x="1464.6" y="934.8" width="8.9" height="240.3" fill="#dcb5b5"/>
<rect x="1575.9" y="934.8" width="17.8" height="240.3" fill="#b8bce1"/>
<rect x="936.6" y="473.2" width="11.7" height="50.4" fill="#d7aaaa"/>
<rect x="770.3" y="668.7" width="7.0" height="80.8" fill="#adb0db"/>
<rect x="845.3" y="661.7" width="5.9" height="87.8" fill="#d7aaaa"/>
<rect x="861.7" y="661.7" width="9.4" height="87.8" fill="#adb0db"/>
<rect x="882.7" y="751.2" width="23.4" height="72.1" fill="#d7aaaa"/>
<rect x="770.3" y="823.3" width="7.0" height="56.2" fill="#adb0db"/>
<rect x="594.7" y="879.5" width="9.4" height="56.2" fill="#d7aaaa"/>
<rect x="934.3" y="879.5" width="14.1" height="56.2" fill="#d7aaaa"/>
<rect x="1232.9" y="523.5" width="9.4" height="47.3" fill="#adb0db"/>
<rect x="984.7" y="602.9" width="395.3" height="1.4" fill="#d7aaaa"/>
<rect x="1033.9" y="661.7" width="7.0" height="87.8" fill="#d7aaaa"/>
<rect x="1282.1" y="825.7" width="30.4" height="51.5" fill="#d7aaaa"/>
<rect x="998.7" y="879.5" width="7.0" height="56.2" fill="#d7aaaa"/>
<rect x="1374.1" y="788.2" width="9.4" height="28.1" fill="#d7aaaa"/>
<rect x="1509.9" y="788.2" width="7.0" height="28.1" fill="#d7aaaa"/>
<rect x="1753.4" y="776.5" width="6.6" height="39.8" fill="#adb0db"/>
<rect x="1824.1" y="474.4" width="11.7" height="44.5" fill="#d7aaaa"/>
<rect x="2056.0" y="473.2" width="5.9" height="50.4" fill="#adb0db"/>
<rect x="1700.0" y="603.6" width="400.0" height="1.4" fill="#adb0db"/>
<rect x="1988.1" y="593.8" width="8.2" height="39.8" fill="#adb0db"/>
<rect x="1821.8" y="638.3" width="9.4" height="111.2" fill="#d7aaaa"/>
<rect x="1746.8" y="774.1" width="11.7" height="42.2" fill="#adb0db"/>
<rect x="639.0" y="934.8" width="11.1" height="240.3" fill="#d7aaaa"/>
<rect x="1482.4" y="934.8" width="6.7" height="240.3" fill="#d7aaaa"/>
<rect x="1500.2" y="934.8" width="6.7" height="240.3" fill="#d7aaaa"/>
<rect x="1671.6" y="934.8" width="28.9" height="194.9" fill="#adb0db"/>
<rect x="1876.3" y="934.8" width="26.7" height="194.9" fill="#adb0db"/>
<rect x="2065.4" y="934.8" width="8.9" height="240.3" fill="#d7aaaa"/>
<rect x="976.4" y="473.2" width="13.6" height="50.4" fill="#a2a5d5"/>
<rect x="845.3" y="575.1" width="7.0" height="9.4" fill="#d29e9e"/>
<rect x="594.7" y="751.2" width="11.7" height="39.3" fill="#d29e9e"/>
<rect x="676.7" y="825.7" width="7.0" height="46.8" fill="#a2a5d5"/>
<rect x="882.7" y="823.3" width="23.4" height="56.2" fill="#d29e9e"/>
<rect x="696.6" y="873.7" width="123.0" height="3.5" fill="#a2a5d5"/>
<rect x="1035.0" y="473.2" width="5.9" height="50.4" fill="#d29e9e"/>
<rect x="980.0" y="523.5" width="4.7" height="47.3" fill="#a2a5d5"/>
<rect x="1072.5" y="661.7" width="5.9" height="87.8" fill="#d29e9e"/>
<rect x="1101.8" y="832.9" width="79.6" height="1.9" fill="#a2a5d5"/>
<rect x="1101.8" y="875.3" width="178.0" height="2.3" fill="#a2a5d5"/>
<rect x="1282.1" y="875.3" width="97.9" height="2.3" fill="#d29e9e"/>
<rect x="1509.9" y="474.4" width="14.1" height="42.2" fill="#a2a5d5"/>
<rect x="1645.7" y="474.4" width="44.5" height="4.7" fill="#a2a5d5"/>
<rect x="1531.0" y="534.8" width="112.4" height="1.9" fill="#d29e9e"/>
<rect x="1451.3" y="552.1" width="77.3" height="1.6" fill="#d29e9e"/>
<rect x="1512.2" y="525.9" width="11.7" height="23.4" fill="#a2a5d5"/>
<rect x="1603.6" y="530.6" width="4.7" height="21.1" fill="#d29e9e"/>
<rect x="1659.8" y="640.6" width="9.4" height="108.9" fill="#d29e9e"/>
<rect x="1692.6" y="668.7" width="7.0" height="80.8" fill="#d29e9e"/>
<rect x="1360.0" y="875.3" width="89.0" height="2.3" fill="#a2a5d5"/>
<rect x="1644.5" y="875.3" width="115.5" height="2.3" fill="#a2a5d5"/>
<rect x="1906.1" y="474.4" width="14.1" height="46.8" fill="#d29e9e"/>
<rect x="1990.4" y="507.2" width="5.9" height="4.7" fill="#a2a5d5"/>
<rect x="1817.6" y="552.1" width="58.1" height="1.6" fill="#a2a5d5"/>
<rect x="1824.1" y="556.3" width="11.7" height="7.0" fill="#d29e9e"/>
<rect x="2056.0" y="570.9" width="5.9" height="66.3" fill="#a2a5d5"/>
<rect x="1950.6" y="792.9" width="14.1" height="23.4" fill="#a2a5d5"/>
<rect x="1906.1" y="879.5" width="14.1" height="53.9" fill="#d29e9e"/>
<rect x="728.0" y="1120.8" width="13.4" height="26.7" fill="#d29e9e"/>
<rect x="880.2" y="934.8" width="25.8" height="115.3" fill="#d29e9e"/>
<rect x="909.5" y="1118.1" width="85.4" height="9.3" fill="#a2a5d5"/>
<rect x="1021.7" y="934.8" width="17.8" height="240.3" fill="#d29e9e"/>
<rect x="1736.1" y="934.8" width="8.9" height="240.3" fill="#d29e9e"/>
<rect x="1860.7" y="934.8" width="6.7" height="240.3" fill="#d29e9e"/>
<rect x="2020.9" y="934.8" width="13.4" height="240.3" fill="#a2a5d5"/>
<rect x="657.9" y="474.4" width="9.4" height="28.1" fill="#9799ce"/>
<rect x="730.5" y="507.2" width="9.4" height="4.7" fill="#cd9393"/>
<rect x="844.1" y="473.2" width="7.0" height="50.4" fill="#cd9393"/>
<rect x="936.6" y="751.2" width="11.7" height="72.1" fill="#cd9393"/>
<rect x="974.1" y="788.2" width="14.1" height="23.4" fill="#9799ce"/>
<rect x="998.7" y="473.2" width="7.0" height="50.4" fill="#cd9393"/>
<rect x="984.7" y="552.1" width="395.3" height="1.6" fill="#9799ce"/>
<rect x="1143.9" y="699.2" width="11.7" height="50.4" fill="#cd9393"/>
<rect x="997.6" y="751.2" width="8.2" height="72.1" fill="#cd9393"/>
<rect x="1282.1" y="790.5" width="30.4" height="32.8" fill="#cd9393"/>
<rect x="980.0" y="788.2" width="5.9" height="23.4" fill="#9799ce"/>
<rect x="1531.0" y="515.4" width="112.4" height="2.1" fill="#9799ce"/>
<rect x="1360.0" y="534.8" width="89.0" height="1.9" fill="#9799ce"/>
<rect x="1371.7" y="661.7" width="11.7" height="87.8" fill="#cd9393"/>
<rect x="1507.5" y="675.8" width="11.7" height="73.8" fill="#cd9393"/>
<rect x="1584.8" y="790.5" width="11.7" height="25.8" fill="#9799ce"/>
<rect x="1657.4" y="879.5" width="11.7" height="53.9" fill="#cd9393"/>
<rect x="1807.7" y="500.1" width="8.2" height="18.7" fill="#cd9393"/>
<rect x="1761.6" y="534.8" width="338.4" height="1.9" fill="#cd9393"/>
<rect x="1899.1" y="530.6" width="21.1" height="37.5" fill="#cd9393"/>
<rect x="1999.8" y="524.7" width="18.7" height="43.3" fill="#cd9393"/>
<rect x="2056.0" y="523.5" width="5.9" height="47.3" fill="#9799ce"/>
<rect x="1859.3" y="664.1" width="7.0" height="85.5" fill="#cd9393"/>
<rect x="1810.1" y="751.2" width="5.9" height="72.1" fill="#cd9393"/>
<rect x="1817.1" y="823.3" width="9.4" height="112.4" fill="#cd9393"/>
<rect x="1906.1" y="825.7" width="14.1" height="23.4" fill="#cd9393"/>
<rect x="1817.1" y="874.8" width="23.4" height="2.3" fill="#9799ce"/>
<rect x="1926.7" y="874.8" width="173.3" height="2.3" fill="#cd9393"/>
<rect x="781.4" y="934.8" width="6.7" height="240.3" fill="#cd9393"/>
<rect x="822.3" y="934.8" width="30.3" height="115.3" fill="#cd9393"/>
<rect x="880.2" y="1127.9" width="25.8" height="21.8" fill="#cd9393"/>
<rect x="909.5" y="934.8" width="7.6" height="240.3" fill="#cd9393"/>
<rect x="928.2" y="1111.9" width="24.5" height="63.2" fill="#cd9393"/>
<rect x="974.1" y="554.0" width="15.9" height="14.1" fill="#8b8cc7"/>
<rect x="821.9" y="534.8" width="84.3" height="1.9" fill="#c88686"/>
<rect x="908.5" y="552.1" width="81.5" height="1.6" fill="#c88686"/>
<rect x="594.7" y="603.4" width="224.8" height="1.6" fill="#c88686"/>
<rect x="1183.7" y="508.6" width="96.0" height="2.1" fill="#8b8cc7"/>
<rect x="1101.8" y="539.9" width="9.4" height="23.4" fill="#c88686"/>
<rect x="1176.7" y="557.5" width="4.7" height="5.9" fill="#c88686"/>
<rect x="997.6" y="638.3" width="11.7" height="32.8" fill="#c88686"/>
<rect x="1368.8" y="661.7" width="11.2" height="87.8" fill="#c88686"/>
<rect x="1202.5" y="787.2" width="11.7" height="1.9" fill="#c88686"/>
<rect x="1493.5" y="488.4" width="9.4" height="4.7" fill="#c88686"/>
<rect x="1655.1" y="507.2" width="9.4" height="9.4" fill="#c88686"/>
<rect x="1481.8" y="554.0" width="5.9" height="9.4" fill="#c88686"/>
<rect x="1509.9" y="577.4" width="14.1" height="59.7" fill="#8b8cc7"/>
<rect x="1556.7" y="588.0" width="7.0" height="3.5" fill="#c88686"/>
<rect x="1451.3" y="875.3" width="192.0" height="2.3" fill="#c88686"/>
<rect x="1821.8" y="509.5" width="9.4" height="5.9" fill="#c88686"/>
<rect x="1999.8" y="474.4" width="14.1" height="42.2" fill="#c88686"/>
<rect x="2084.1" y="500.1" width="4.7" height="3.5" fill="#c88686"/>
<rect x="1875.9" y="552.1" width="50.8" height="1.6" fill="#c88686"/>
<rect x="2056.0" y="664.1" width="7.0" height="85.5" fill="#8b8cc7"/>
<rect x="1793.7" y="825.7" width="9.4" height="51.5" fill="#8b8cc7"/>
<rect x="754.7" y="934.8" width="8.9" height="177.1" fill="#c88686"/>
<rect x="1173.0" y="934.8" width="8.9" height="240.3" fill="#c88686"/>
<rect x="1362.3" y="934.8" width="6.7" height="240.3" fill="#c88686"/>
<rect x="657.9" y="575.1" width="9.4" height="62.1" fill="#7f80c0"/>
<rect x="871.0" y="603.2" width="35.1" height="30.4" fill="#c27a79"/>
<rect x="936.6" y="638.3" width="11.7" height="111.2" fill="#c27a79"/>
<rect x="594.7" y="823.3" width="7.0" height="56.2" fill="#c27a79"/>
<rect x="1282.1" y="666.4" width="30.4" height="83.1" fill="#c27a79"/>
<rect x="980.0" y="875.3" width="119.4" height="2.3" fill="#c27a79"/>
<rect x="1427.9" y="577.4" width="9.4" height="56.2" fill="#c27a79"/>
<rect x="1371.7" y="661.7" width="16.4" height="7.0" fill="#c27a79"/>
<rect x="1512.2" y="825.7" width="11.7" height="51.5" fill="#c27a79"/>
<rect x="1955.3" y="473.2" width="9.4" height="50.4" fill="#7f80c0"/>
<rect x="1807.7" y="535.3" width="8.2" height="32.8" fill="#c27a79"/>
<rect x="1952.9" y="523.5" width="11.7" height="47.3" fill="#7f80c0"/>
<rect x="1810.1" y="640.6" width="5.9" height="108.9" fill="#c27a79"/>
<rect x="1955.3" y="638.3" width="10.5" height="28.1" fill="#7f80c0"/>
<rect x="665.7" y="934.8" width="8.9" height="240.3" fill="#c27a79"/>
<rect x="1284.3" y="934.8" width="24.5" height="240.3" fill="#c27a79"/>
<rect x="1762.8" y="934.8" width="11.1" height="240.3" fill="#c27a79"/>
<rect x="1927.4" y="934.8" width="6.7" height="240.3" fill="#c27a79"/>
<rect x="1949.7" y="934.8" width="17.8" height="212.7" fill="#7f80c0"/>
<rect x="2043.2" y="934.8" width="20.0" height="240.3" fill="#7f80c0"/>
<rect x="901.5" y="524.7" width="4.7" height="46.1" fill="#be6f6d"/>
<rect x="934.3" y="535.3" width="16.4" height="28.1" fill="#be6f6d"/>
<rect x="594.7" y="534.8" width="224.8" height="1.9" fill="#be6f6d"/>
<rect x="594.7" y="552.1" width="100.7" height="1.6" fill="#be6f6d"/>
<rect x="696.6" y="552.1" width="123.0" height="1.6" fill="#7475bb"/>
<rect x="883.9" y="675.8" width="8.2" height="18.7" fill="#be6f6d"/>
<rect x="782.0" y="790.5" width="4.7" height="25.8" fill="#be6f6d"/>
<rect x="833.6" y="835.0" width="14.1" height="42.2" fill="#be6f6d"/>
<rect x="821.9" y="873.7" width="168.1" height="3.5" fill="#be6f6d"/>
<rect x="998.7" y="504.8" width="7.0" height="9.4" fill="#be6f6d"/>
<rect x="1272.7" y="473.2" width="8.2" height="31.6" fill="#be6f6d"/>
<rect x="984.7" y="534.8" width="297.4" height="1.9" fill="#be6f6d"/>
<rect x="1298.5" y="640.6" width="9.4" height="4.7" fill="#be6f6d"/>
<rect x="1655.1" y="552.8" width="23.4" height="15.2" fill="#be6f6d"/>
<rect x="1395.1" y="874.8" width="23.4" height="3.3" fill="#7475bb"/>
<rect x="1906.1" y="507.2" width="14.1" height="9.4" fill="#be6f6d"/>
<rect x="1761.6" y="552.1" width="55.5" height="1.6" fill="#be6f6d"/>
<rect x="1929.5" y="563.4" width="4.7" height="2.3" fill="#be6f6d"/>
<rect x="1955.3" y="570.9" width="9.4" height="55.7" fill="#7475bb"/>
<rect x="2044.3" y="599.0" width="9.4" height="3.7" fill="#be6f6d"/>
<rect x="1906.1" y="640.6" width="14.1" height="108.9" fill="#be6f6d"/>
<rect x="1929.5" y="662.9" width="4.7" height="3.5" fill="#be6f6d"/>
<rect x="1906.1" y="769.4" width="14.1" height="42.2" fill="#be6f6d"/>
<rect x="728.0" y="1147.5" width="13.4" height="27.6" fill="#be6f6d"/>
<rect x="998.5" y="1070.1" width="54.3" height="3.6" fill="#be6f6d"/>
<rect x="1580.3" y="1116.4" width="11.1" height="8.9" fill="#7475bb"/>
<rect x="730.5" y="668.7" width="9.4" height="80.8" fill="#ba6361"/>
<rect x="998.7" y="535.3" width="8.2" height="30.4" fill="#ba6361"/>
<rect x="1143.9" y="790.5" width="14.1" height="21.1" fill="#ba6361"/>
<rect x="1644.5" y="603.2" width="48.0" height="34.0" fill="#686cb8"/>
<rect x="1371.2" y="934.8" width="11.1" height="190.5" fill="#ba6361"/>
<rect x="780.9" y="668.7" width="7.0" height="80.8" fill="#b65855"/>
<rect x="974.1" y="661.7" width="15.9" height="87.8" fill="#5d62b4"/>
<rect x="730.5" y="790.5" width="9.4" height="25.8" fill="#b65855"/>
<rect x="835.9" y="753.1" width="11.7" height="4.7" fill="#b65855"/>
<rect x="594.7" y="873.7" width="93.7" height="3.5" fill="#5d62b4"/>
<rect x="980.0" y="661.7" width="5.9" height="87.8" fill="#5d62b4"/>
<rect x="997.6" y="671.1" width="11.7" height="78.5" fill="#b65855"/>
<rect x="1143.9" y="668.7" width="11.7" height="30.4" fill="#b65855"/>
<rect x="1296.2" y="753.1" width="11.7" height="16.4" fill="#b65855"/>
<rect x="1296.2" y="825.7" width="11.7" height="51.5" fill="#b65855"/>
<rect x="1216.5" y="924.0" width="7.0" height="11.7" fill="#b65855"/>
<rect x="1692.6" y="577.4" width="7.0" height="25.8" fill="#b65855"/>
<rect x="1955.3" y="507.2" width="9.4" height="7.0" fill="#5d62b4"/>
<rect x="1906.1" y="640.6" width="14.1" height="7.0" fill="#b65855"/>
<rect x="1957.6" y="757.7" width="7.0" height="4.7" fill="#b65855"/>
<rect x="1878.0" y="874.8" width="46.8" height="2.8" fill="#b65855"/>
<rect x="594.5" y="934.8" width="11.1" height="215.0" fill="#b65855"/>
<rect x="728.0" y="934.8" width="13.4" height="186.0" fill="#b65855"/>
<rect x="728.0" y="1030.0" width="62.3" height="4.5" fill="#b65855"/>
<rect x="975.0" y="934.8" width="12.0" height="240.3" fill="#5d62b4"/>
<rect x="999.4" y="1138.6" width="40.1" height="13.4" fill="#b65855"/>
<rect x="1132.9" y="934.8" width="17.8" height="240.3" fill="#b65855"/>
<rect x="1217.5" y="934.8" width="6.7" height="240.3" fill="#b65855"/>
<rect x="1820.6" y="1147.5" width="17.8" height="27.6" fill="#b65855"/>
<rect x="2040.9" y="1122.6" width="46.7" height="4.5" fill="#5d62b4"/>
<rect x="936.6" y="506.0" width="11.7" height="9.4" fill="#b24e48"/>
<rect x="902.6" y="668.7" width="4.0" height="80.8" fill="#b24e48"/>
<rect x="594.7" y="790.5" width="11.7" height="25.8" fill="#b24e48"/>
<rect x="998.7" y="825.7" width="7.0" height="49.2" fill="#b24e48"/>
<rect x="1701.9" y="524.7" width="58.1" height="28.1" fill="#5359b0"/>
<rect x="1702.3" y="524.7" width="59.0" height="28.1" fill="#5359b0"/>
<rect x="1906.1" y="751.2" width="14.1" height="18.3" fill="#b24e48"/>
<rect x="1807.7" y="825.7" width="8.2" height="51.5" fill="#b24e48"/>
<rect x="1955.3" y="825.7" width="9.4" height="110.1" fill="#5359b0"/>
<rect x="880.2" y="1050.1" width="25.8" height="77.9" fill="#b24e48"/>
<rect x="880.4" y="529.4" width="11.7" height="22.2" fill="#ad433d"/>
<rect x="821.9" y="603.2" width="37.5" height="34.0" fill="#ad433d"/>
<rect x="594.7" y="668.7" width="11.7" height="80.8" fill="#ad433d"/>
<rect x="1300.8" y="685.1" width="9.4" height="14.1" fill="#ad433d"/>
<rect x="1300.8" y="722.6" width="9.4" height="23.4" fill="#ad433d"/>
<rect x="1214.2" y="790.5" width="9.4" height="25.8" fill="#ad433d"/>
<rect x="1692.6" y="481.4" width="7.0" height="28.1" fill="#ad433d"/>
<rect x="1488.8" y="628.9" width="11.7" height="7.0" fill="#ad433d"/>
<rect x="1957.6" y="781.2" width="7.0" height="4.7" fill="#ad433d"/>
<rect x="1906.1" y="849.1" width="14.1" height="28.1" fill="#ad433d"/>
<rect x="822.3" y="1140.0" width="30.3" height="9.8" fill="#ad433d"/>
<rect x="1284.3" y="1031.8" width="24.5" height="9.8" fill="#ad433d"/>
<rect x="1366.7" y="1116.4" width="17.8" height="6.7" fill="#ad433d"/>
<rect x="1949.7" y="1147.5" width="17.8" height="27.6" fill="#4951ac"/>
<rect x="824.2" y="524.7" width="32.8" height="29.3" fill="#a93831"/>
<rect x="1271.6" y="577.4" width="9.4" height="59.7" fill="#a93831"/>
<rect x="1488.8" y="595.0" width="11.7" height="9.4" fill="#a93831"/>
<rect x="822.3" y="1050.1" width="30.3" height="77.9" fill="#a93831"/>
<rect x="998.5" y="934.8" width="12.0" height="240.3" fill="#a93831"/>
<rect x="1101.8" y="934.8" width="26.7" height="240.3" fill="#a93831"/>
<rect x="1215.4" y="666.4" width="8.2" height="83.1" fill="#a4302b"/>
<rect x="1644.5" y="524.7" width="55.0" height="28.1" fill="#a4302b"/>
<rect x="1955.3" y="666.4" width="10.5" height="83.1" fill="#3e44a3"/>
<rect x="594.5" y="1149.7" width="11.1" height="25.4" fill="#a4302b"/>
<rect x="975.0" y="1116.4" width="12.0" height="13.4" fill="#3e44a3"/>
<rect x="1807.3" y="934.8" width="9.8" height="240.3" fill="#a4302b"/>
<rect x="1820.6" y="934.8" width="17.8" height="212.7" fill="#a4302b"/>
<rect x="928.2" y="934.8" width="24.5" height="177.1" fill="#a22c29"/>
<rect x="584.7" y="470.5" width="1515.3" height="706.5" fill="url(#rows)"/>
</g>
<rect x="594.7" y="473.5" width="1495.3" height="700.5" fill="#fff" filter="url(#nred)" opacity="0.9"/>
<rect x="594.7" y="473.5" width="1495.3" height="700.5" fill="#fff" filter="url(#nblue)" opacity="0.9"/>
</g>
<g clip-path="url(#clip_rb)">
<g filter="url(#hblur)">
<rect x="584.7" y="1421.6" width="1518.3" height="349.4000000000001" fill="#f5f4f8"/>
<rect x="641.5" y="1424.4" width="9.4" height="35.1" fill="#f0e4e5"/>
<rect x="791.4" y="1424.4" width="9.4" height="35.1" fill="#e4e5f2"/>
<rect x="618.1" y="1424.4" width="9.4" height="35.1" fill="#efe1e1"/>
<rect x="590.0" y="1562.1" width="400.0" height="2.8" fill="#efe1e1"/>
<rect x="1057.3" y="1424.4" width="9.4" height="35.1" fill="#e0e2f1"/>
<rect x="1354.7" y="1424.4" width="7.0" height="35.1" fill="#e0e2f1"/>
<rect x="1481.8" y="1424.4" width="5.9" height="35.1" fill="#efe1e1"/>
<rect x="1491.1" y="1513.4" width="7.0" height="46.8" fill="#e0e2f1"/>
<rect x="1845.2" y="1424.4" width="11.7" height="35.1" fill="#e0e2f1"/>
<rect x="782.0" y="1424.4" width="4.7" height="35.1" fill="#eddbdb"/>
<rect x="725.8" y="1489.9" width="14.1" height="23.4" fill="#daddef"/>
<rect x="1080.7" y="1424.4" width="16.4" height="35.1" fill="#daddef"/>
<rect x="1261.0" y="1424.4" width="9.4" height="35.1" fill="#daddef"/>
<rect x="1184.9" y="1513.4" width="29.3" height="46.8" fill="#daddef"/>
<rect x="1502.9" y="1424.4" width="12.9" height="35.1" fill="#eddbdb"/>
<rect x="1646.9" y="1424.4" width="55.0" height="35.1" fill="#daddef"/>
<rect x="683.7" y="1424.4" width="10.5" height="35.1" fill="#e7cece"/>
<rect x="753.9" y="1424.4" width="7.0" height="35.1" fill="#e7cece"/>
<rect x="974.1" y="1520.4" width="9.4" height="58.5" fill="#cfd2eb"/>
<rect x="1465.4" y="1424.4" width="7.0" height="35.1" fill="#e7cece"/>
<rect x="1523.9" y="1424.4" width="4.7" height="35.1" fill="#cfd2eb"/>
<rect x="1576.6" y="1424.4" width="17.6" height="35.1" fill="#cfd2eb"/>
<rect x="1631.7" y="1424.4" width="14.1" height="35.1" fill="#cfd2eb"/>
<rect x="1610.6" y="1480.6" width="9.4" height="28.1" fill="#e7cece"/>
<rect x="1739.8" y="1424.4" width="7.0" height="35.1" fill="#e7cece"/>
<rect x="2068.9" y="1424.4" width="4.7" height="35.1" fill="#e7cece"/>
<rect x="2086.4" y="1424.4" width="5.9" height="35.1" fill="#e7cece"/>
<rect x="2044.3" y="1539.1" width="21.1" height="16.4" fill="#cfd2eb"/>
<rect x="1286.8" y="1424.4" width="23.4" height="35.1" fill="#e1c1c1"/>
<rect x="1491.1" y="1424.4" width="7.0" height="35.1" fill="#c3c7e6"/>
<rect x="1608.2" y="1424.4" width="11.7" height="35.1" fill="#c3c7e6"/>
<rect x="1673.8" y="1424.4" width="25.8" height="35.1" fill="#c3c7e6"/>
<rect x="1739.4" y="1424.4" width="7.0" height="35.1" fill="#e1c1c1"/>
<rect x="1755.8" y="1461.8" width="4.2" height="51.5" fill="#c3c7e6"/>
<rect x="1945.9" y="1424.4" width="23.4" height="35.1" fill="#c3c7e6"/>
<rect x="1700.0" y="1563.9" width="400.0" height="1.9" fill="#e1c1c1"/>
<rect x="980.0" y="1564.9" width="4.7" height="9.4" fill="#b8bce1"/>
<rect x="1861.6" y="1424.4" width="5.9" height="35.1" fill="#dcb5b5"/>
<rect x="1879.2" y="1424.4" width="22.2" height="35.1" fill="#b8bce1"/>
<rect x="1948.2" y="1488.5" width="32.8" height="2.8" fill="#dcb5b5"/>
<rect x="1957.6" y="1512.2" width="8.2" height="254.1" fill="#b8bce1"/>
<rect x="857.0" y="1424.4" width="10.5" height="35.1" fill="#adb0db"/>
<rect x="906.2" y="1424.4" width="9.4" height="35.1" fill="#d7aaaa"/>
<rect x="1024.5" y="1424.4" width="16.4" height="35.1" fill="#d7aaaa"/>
<rect x="980.0" y="1561.1" width="400.0" height="1.9" fill="#d7aaaa"/>
<rect x="2025.5" y="1424.4" width="8.2" height="35.1" fill="#adb0db"/>
<rect x="821.9" y="1424.4" width="28.1" height="35.1" fill="#d29e9e"/>
<rect x="880.4" y="1424.4" width="23.4" height="35.1" fill="#d29e9e"/>
<rect x="721.1" y="1563.0" width="182.7" height="1.9" fill="#d29e9e"/>
<rect x="854.6" y="1494.6" width="11.7" height="18.7" fill="#d29e9e"/>
<rect x="728.2" y="1751.1" width="7.0" height="2.8" fill="#a2a5d5"/>
<rect x="1143.9" y="1424.4" width="9.4" height="35.1" fill="#d29e9e"/>
<rect x="1184.9" y="1424.4" width="29.3" height="35.1" fill="#a2a5d5"/>
<rect x="1928.3" y="1424.4" width="4.7" height="35.1" fill="#d29e9e"/>
<rect x="2058.3" y="1563.0" width="32.8" height="1.9" fill="#a2a5d5"/>
<rect x="660.3" y="1424.4" width="12.9" height="35.1" fill="#cd9393"/>
<rect x="1364.1" y="1424.4" width="15.9" height="35.1" fill="#cd9393"/>
<rect x="1184.9" y="1492.3" width="32.8" height="19.9" fill="#cd9393"/>
<rect x="1024.5" y="1545.2" width="11.7" height="1.9" fill="#cd9393"/>
<rect x="1764.4" y="1424.4" width="4.7" height="35.1" fill="#cd9393"/>
<rect x="2043.1" y="1424.4" width="21.1" height="35.1" fill="#9799ce"/>
<rect x="604.1" y="1586.0" width="11.7" height="2.3" fill="#c88686"/>
<rect x="871.0" y="1515.2" width="23.4" height="1.9" fill="#c88686"/>
<rect x="800.8" y="1468.6" width="14.1" height="1.6" fill="#c88686"/>
<rect x="950.7" y="1710.6" width="14.1" height="1.9" fill="#c88686"/>
<rect x="1218.9" y="1424.4" width="8.2" height="35.1" fill="#c88686"/>
<rect x="1237.6" y="1477.8" width="14.1" height="1.9" fill="#c88686"/>
<rect x="1167.4" y="1617.8" width="9.4" height="1.9" fill="#c88686"/>
<rect x="1090.1" y="1494.9" width="9.4" height="1.9" fill="#c88686"/>
<rect x="997.6" y="1587.4" width="8.2" height="1.9" fill="#c88686"/>
<rect x="1354.7" y="1678.2" width="7.0" height="1.9" fill="#c88686"/>
<rect x="1363.5" y="1424.4" width="4.7" height="35.1" fill="#c88686"/>
<rect x="1573.1" y="1509.4" width="11.7" height="2.8" fill="#c88686"/>
<rect x="1610.6" y="1467.7" width="9.4" height="2.3" fill="#c88686"/>
<rect x="1598.9" y="1582.0" width="16.4" height="2.3" fill="#c88686"/>
<rect x="1554.4" y="1582.4" width="11.7" height="2.3" fill="#c88686"/>
<rect x="1451.3" y="1519.2" width="9.4" height="2.3" fill="#c88686"/>
<rect x="1430.3" y="1581.5" width="11.7" height="1.9" fill="#c88686"/>
<rect x="1634.0" y="1743.8" width="9.4" height="1.9" fill="#c88686"/>
<rect x="1427.9" y="1765.1" width="9.4" height="2.3" fill="#c88686"/>
<rect x="1491.1" y="1765.1" width="7.0" height="2.3" fill="#c88686"/>
<rect x="1956.4" y="1424.4" width="9.4" height="35.1" fill="#8b8cc7"/>
<rect x="1956.4" y="1684.3" width="10.5" height="7.0" fill="#8b8cc7"/>
<rect x="1842.9" y="1506.3" width="9.4" height="2.3" fill="#c88686"/>
<rect x="594.7" y="1424.4" width="10.5" height="35.1" fill="#c27a79"/>
<rect x="1176.7" y="1424.4" width="5.9" height="35.1" fill="#c27a79"/>
<rect x="1113.5" y="1531.6" width="14.1" height="1.9" fill="#c27a79"/>
<rect x="980.0" y="1674.0" width="9.4" height="1.9" fill="#c27a79"/>
<rect x="980.0" y="1724.4" width="7.0" height="1.9" fill="#c27a79"/>
<rect x="1376.4" y="1424.4" width="7.0" height="35.1" fill="#c27a79"/>
<rect x="1655.1" y="1561.8" width="11.7" height="2.3" fill="#c27a79"/>
<rect x="1622.3" y="1688.5" width="9.4" height="1.9" fill="#c27a79"/>
<rect x="765.6" y="1694.9" width="30.4" height="2.3" fill="#be6f6d"/>
<rect x="850.0" y="1759.3" width="18.7" height="2.3" fill="#be6f6d"/>
<rect x="1024.5" y="1450.1" width="16.4" height="3.5" fill="#be6f6d"/>
<rect x="1276.3" y="1507.5" width="7.0" height="4.7" fill="#be6f6d"/>
<rect x="1190.8" y="1756.9" width="14.1" height="2.3" fill="#be6f6d"/>
<rect x="1242.3" y="1634.2" width="14.1" height="1.9" fill="#be6f6d"/>
<rect x="997.6" y="1572.1" width="8.2" height="1.9" fill="#be6f6d"/>
<rect x="1490.0" y="1494.6" width="10.5" height="4.7" fill="#be6f6d"/>
<rect x="1573.1" y="1501.2" width="11.7" height="3.3" fill="#be6f6d"/>
<rect x="1488.8" y="1726.5" width="11.7" height="2.3" fill="#be6f6d"/>
<rect x="1746.4" y="1664.9" width="13.6" height="2.3" fill="#be6f6d"/>
<rect x="1404.5" y="1679.6" width="11.7" height="2.3" fill="#be6f6d"/>
<rect x="1671.5" y="1567.2" width="9.4" height="2.3" fill="#be6f6d"/>
<rect x="1453.7" y="1700.2" width="9.4" height="1.9" fill="#be6f6d"/>
<rect x="1692.6" y="1715.5" width="9.4" height="1.9" fill="#be6f6d"/>
<rect x="1956.4" y="1588.3" width="10.5" height="4.7" fill="#7475bb"/>
<rect x="2048.9" y="1499.3" width="11.7" height="3.5" fill="#be6f6d"/>
<rect x="2043.1" y="1470.0" width="10.5" height="2.3" fill="#be6f6d"/>
<rect x="2023.2" y="1475.9" width="9.4" height="3.5" fill="#be6f6d"/>
<rect x="1906.1" y="1563.7" width="18.7" height="2.3" fill="#be6f6d"/>
<rect x="1908.4" y="1583.6" width="9.4" height="2.3" fill="#be6f6d"/>
<rect x="1714.1" y="1643.6" width="9.4" height="1.9" fill="#be6f6d"/>
<rect x="1882.7" y="1698.6" width="11.7" height="1.9" fill="#be6f6d"/>
<rect x="2056.0" y="1667.0" width="9.4" height="1.9" fill="#be6f6d"/>
<rect x="2051.3" y="1727.9" width="7.0" height="1.9" fill="#be6f6d"/>
<rect x="2084.1" y="1745.4" width="8.2" height="1.9" fill="#be6f6d"/>
<rect x="1988.1" y="1524.6" width="9.4" height="1.9" fill="#be6f6d"/>
<rect x="1962.3" y="1579.2" width="11.7" height="1.9" fill="#be6f6d"/>
<rect x="1945.9" y="1746.6" width="7.0" height="1.9" fill="#be6f6d"/>
<rect x="594.7" y="1453.6" width="10.5" height="4.7" fill="#ba6361"/>
<rect x="1103.0" y="1424.4" width="31.6" height="35.1" fill="#ba6361"/>
<rect x="594.7" y="1429.1" width="10.5" height="4.7" fill="#b65855"/>
<rect x="728.2" y="1424.4" width="11.7" height="35.1" fill="#b65855"/>
<rect x="899.1" y="1424.4" width="5.9" height="35.1" fill="#b65855"/>
<rect x="723.5" y="1520.4" width="14.1" height="5.2" fill="#b65855"/>
<rect x="974.1" y="1463.0" width="9.4" height="2.3" fill="#b65855"/>
<rect x="974.1" y="1502.8" width="9.4" height="3.5" fill="#b65855"/>
<rect x="1184.9" y="1507.5" width="32.8" height="4.0" fill="#b65855"/>
<rect x="1076.0" y="1741.2" width="16.4" height="2.3" fill="#b65855"/>
<rect x="1580.1" y="1670.0" width="16.4" height="2.8" fill="#b65855"/>
<rect x="1956.4" y="1644.5" width="11.7" height="11.7" fill="#5d62b4"/>
<rect x="1957.6" y="1595.3" width="8.2" height="7.0" fill="#b65855"/>
<rect x="1957.6" y="1632.8" width="8.2" height="2.8" fill="#b65855"/>
<rect x="2024.4" y="1624.6" width="9.4" height="3.5" fill="#b65855"/>
<rect x="1746.8" y="1664.4" width="14.1" height="2.3" fill="#b65855"/>
<rect x="1774.9" y="1691.6" width="11.7" height="1.9" fill="#b65855"/>
<rect x="1878.0" y="1628.1" width="9.4" height="2.3" fill="#b65855"/>
<rect x="1917.8" y="1730.0" width="7.0" height="2.3" fill="#b65855"/>
<rect x="1999.8" y="1541.7" width="7.0" height="1.9" fill="#b65855"/>
<rect x="1879.2" y="1541.7" width="5.9" height="1.9" fill="#b65855"/>
<rect x="594.7" y="1443.1" width="10.5" height="4.7" fill="#b24e48"/>
<rect x="821.9" y="1426.7" width="28.1" height="7.0" fill="#b24e48"/>
<rect x="821.9" y="1450.1" width="28.1" height="9.4" fill="#b24e48"/>
<rect x="929.6" y="1424.4" width="18.7" height="35.1" fill="#b24e48"/>
<rect x="971.7" y="1424.4" width="14.1" height="35.1" fill="#5359b0"/>
<rect x="971.7" y="1724.1" width="14.1" height="2.3" fill="#b24e48"/>
<rect x="998.7" y="1424.4" width="11.7" height="35.1" fill="#b24e48"/>
<rect x="1490.0" y="1507.5" width="10.5" height="4.7" fill="#b24e48"/>
<rect x="1690.2" y="1587.4" width="11.7" height="2.8" fill="#b24e48"/>
<rect x="1514.6" y="1733.3" width="14.1" height="2.8" fill="#b24e48"/>
<rect x="696.6" y="1712.4" width="10.5" height="2.8" fill="#ad433d"/>
<rect x="1103.0" y="1438.4" width="12.9" height="21.1" fill="#ad433d"/>
<rect x="1275.1" y="1763.5" width="9.4" height="4.0" fill="#ad433d"/>
<rect x="1957.6" y="1614.1" width="8.2" height="9.4" fill="#ad433d"/>
<rect x="2043.1" y="1508.7" width="22.2" height="4.7" fill="#ad433d"/>
<rect x="1808.9" y="1424.4" width="9.4" height="35.1" fill="#a93831"/>
<rect x="1825.3" y="1424.4" width="15.2" height="35.1" fill="#a93831"/>
<rect x="728.2" y="1436.1" width="11.7" height="9.4" fill="#a4302b"/>
<rect x="929.6" y="1438.4" width="18.7" height="9.4" fill="#a4302b"/>
<rect x="676.7" y="1512.2" width="9.4" height="5.9" fill="#a4302b"/>
<rect x="1955.7" y="1459.0" width="13.1" height="53.9" fill="#9f2727"/>
<rect x="584.7" y="1421.6" width="1518.3" height="349.4000000000001" fill="url(#rows)"/>
</g>
<rect x="594.7" y="1424.6" width="1498.3" height="343.4000000000001" fill="#fff" filter="url(#nred)" opacity="0.9"/>
<rect x="594.7" y="1424.6" width="1498.3" height="343.4000000000001" fill="#fff" filter="url(#nblue)" opacity="0.9"/>
</g>
<g clip-path="url(#clip_ob)">
<g filter="url(#hblur)">
<rect x="584.7" y="1837.4" width="1518.3" height="709.5999999999999" fill="#f5f4f8"/>
<rect x="594.7" y="1840.9" width="100.7" height="68.6" fill="#f4eff2"/>
<rect x="1702.3" y="1978.3" width="61.6" height="94.4" fill="#f0f0f6"/>
<rect x="594.7" y="2087.9" width="30.4" height="117.8" fill="#f3eef0"/>
<rect x="1363.1" y="2205.5" width="87.2" height="30.0" fill="#f3eef0"/>
<rect x="1453.7" y="1840.9" width="70.3" height="68.6" fill="#ecedf5"/>
<rect x="594.5" y="2205.5" width="100.1" height="30.0" fill="#f3ecef"/>
<rect x="701.3" y="2235.5" width="120.2" height="46.7" fill="#f3ecef"/>
<rect x="1186.4" y="2235.5" width="95.7" height="46.7" fill="#ecedf5"/>
<rect x="1455.7" y="2205.5" width="71.2" height="30.0" fill="#f3ecef"/>
<rect x="1366.7" y="2235.5" width="80.1" height="46.7" fill="#f3ecef"/>
<rect x="1820.6" y="2235.5" width="53.4" height="46.7" fill="#f3ecef"/>
<rect x="1702.3" y="1909.5" width="61.6" height="68.9" fill="#eaebf5"/>
<rect x="1704.9" y="2338.3" width="26.7" height="208.3" fill="#eaebf5"/>
<rect x="1455.7" y="2235.5" width="71.2" height="46.7" fill="#f2e9eb"/>
<rect x="1651.5" y="2235.5" width="40.1" height="46.7" fill="#f2e9eb"/>
<rect x="701.3" y="2341.9" width="115.7" height="75.7" fill="#e7e8f4"/>
<rect x="2003.1" y="2205.5" width="35.6" height="30.0" fill="#f1e7e9"/>
<rect x="2003.1" y="2235.5" width="35.6" height="46.7" fill="#f1e7e9"/>
<rect x="1057.3" y="1909.5" width="42.2" height="68.9" fill="#e4e5f2"/>
<rect x="1045.6" y="2087.9" width="53.9" height="117.8" fill="#e4e5f2"/>
<rect x="789.1" y="1909.5" width="30.4" height="68.9" fill="#e0e2f1"/>
<rect x="1186.1" y="2087.9" width="28.1" height="117.8" fill="#e0e2f1"/>
<rect x="1230.9" y="2338.3" width="49.0" height="208.3" fill="#e0e2f1"/>
<rect x="728.2" y="1978.3" width="7.0" height="94.4" fill="#daddef"/>
<rect x="974.1" y="2087.9" width="9.4" height="117.8" fill="#daddef"/>
<rect x="1167.4" y="1840.9" width="7.0" height="68.6" fill="#daddef"/>
<rect x="1160.3" y="1909.9" width="7.0" height="68.4" fill="#daddef"/>
<rect x="1118.2" y="2087.9" width="11.7" height="117.8" fill="#daddef"/>
<rect x="1556.7" y="1840.9" width="4.7" height="68.6" fill="#eddbdb"/>
<rect x="1703.1" y="1885.4" width="56.9" height="24.1" fill="#daddef"/>
<rect x="1502.9" y="1909.5" width="21.1" height="68.9" fill="#eddbdb"/>
<rect x="1617.6" y="2087.9" width="11.7" height="117.8" fill="#daddef"/>
<rect x="1702.3" y="1885.4" width="60.9" height="24.1" fill="#daddef"/>
<rect x="1286.5" y="2235.5" width="24.5" height="46.7" fill="#eddbdb"/>
<rect x="1057.3" y="2282.2" width="42.3" height="56.1" fill="#daddef"/>
<rect x="1257.6" y="2282.2" width="22.3" height="56.1" fill="#daddef"/>
<rect x="790.3" y="2338.3" width="28.9" height="208.3" fill="#daddef"/>
<rect x="1057.3" y="2338.3" width="42.3" height="208.3" fill="#daddef"/>
<rect x="1491.3" y="2282.2" width="8.9" height="56.1" fill="#daddef"/>
<rect x="1491.3" y="2338.3" width="8.9" height="208.3" fill="#daddef"/>
<rect x="1608.2" y="1909.5" width="32.8" height="68.9" fill="#d3d7ed"/>
<rect x="1607.0" y="2338.3" width="35.6" height="208.3" fill="#d3d7ed"/>
<rect x="676.7" y="1840.9" width="4.7" height="68.6" fill="#cfd2eb"/>
<rect x="697.7" y="2087.9" width="4.7" height="117.8" fill="#cfd2eb"/>
<rect x="1036.2" y="1888.9" width="4.7" height="20.6" fill="#e7cece"/>
<rect x="1120.5" y="1840.9" width="9.4" height="68.6" fill="#cfd2eb"/>
<rect x="1118.2" y="1978.3" width="11.7" height="94.4" fill="#cfd2eb"/>
<rect x="1235.3" y="2072.7" width="9.4" height="15.2" fill="#cfd2eb"/>
<rect x="1646.9" y="1912.3" width="8.2" height="28.1" fill="#cfd2eb"/>
<rect x="1529.3" y="2020.2" width="116.6" height="1.9" fill="#e7cece"/>
<rect x="1509.9" y="2072.7" width="14.1" height="15.2" fill="#cfd2eb"/>
<rect x="1798.4" y="1909.5" width="7.0" height="68.9" fill="#cfd2eb"/>
<rect x="1845.2" y="1909.5" width="9.4" height="68.9" fill="#cfd2eb"/>
<rect x="821.4" y="2205.5" width="35.6" height="30.0" fill="#e7cece"/>
<rect x="674.6" y="2235.5" width="8.9" height="46.7" fill="#cfd2eb"/>
<rect x="790.3" y="2282.2" width="28.9" height="56.1" fill="#cfd2eb"/>
<rect x="1164.1" y="2282.2" width="8.9" height="56.1" fill="#cfd2eb"/>
<rect x="1164.1" y="2338.3" width="8.9" height="208.3" fill="#cfd2eb"/>
<rect x="1647.1" y="2212.8" width="53.4" height="17.8" fill="#cfd2eb"/>
<rect x="1580.3" y="2235.5" width="8.9" height="46.7" fill="#cfd2eb"/>
<rect x="1740.5" y="2235.5" width="17.8" height="46.7" fill="#cfd2eb"/>
<rect x="1607.0" y="2282.2" width="35.6" height="56.1" fill="#cfd2eb"/>
<rect x="1577.8" y="1912.3" width="16.4" height="66.0" fill="#cacee9"/>
<rect x="1879.2" y="1912.3" width="22.2" height="28.1" fill="#cacee9"/>
<rect x="1879.2" y="1961.5" width="22.2" height="14.1" fill="#cacee9"/>
<rect x="1575.9" y="2338.3" width="17.8" height="208.3" fill="#cacee9"/>
<rect x="860.5" y="1888.9" width="7.0" height="16.4" fill="#c3c7e6"/>
<rect x="974.1" y="1840.9" width="9.4" height="68.6" fill="#c3c7e6"/>
<rect x="931.9" y="1978.3" width="7.0" height="94.4" fill="#e1c1c1"/>
<rect x="676.7" y="2072.7" width="4.7" height="15.2" fill="#c3c7e6"/>
<rect x="676.7" y="2087.9" width="5.9" height="117.8" fill="#c3c7e6"/>
<rect x="1036.2" y="2072.7" width="4.7" height="15.2" fill="#e1c1c1"/>
<rect x="1104.1" y="2087.9" width="7.0" height="117.8" fill="#e1c1c1"/>
<rect x="1214.2" y="2087.9" width="7.0" height="117.8" fill="#c3c7e6"/>
<rect x="1467.7" y="1909.5" width="4.7" height="68.9" fill="#e1c1c1"/>
<rect x="1484.1" y="1909.5" width="4.7" height="68.9" fill="#e1c1c1"/>
<rect x="1374.1" y="1978.3" width="7.0" height="94.4" fill="#e1c1c1"/>
<rect x="728.0" y="2205.5" width="13.4" height="30.0" fill="#e1c1c1"/>
<rect x="977.2" y="2235.5" width="8.9" height="46.7" fill="#c3c7e6"/>
<rect x="616.7" y="2338.3" width="8.9" height="208.3" fill="#e1c1c1"/>
<rect x="1575.9" y="2282.2" width="17.8" height="56.1" fill="#c3c7e6"/>
<rect x="1647.1" y="2338.3" width="22.3" height="208.3" fill="#c3c7e6"/>
<rect x="1186.4" y="2338.3" width="31.2" height="208.3" fill="#c1c5e5"/>
<rect x="1673.8" y="1912.3" width="25.8" height="28.1" fill="#bcc0e4"/>
<rect x="1673.8" y="1961.5" width="25.8" height="14.1" fill="#bcc0e4"/>
<rect x="594.7" y="1883.2" width="100.7" height="1.9" fill="#b8bce1"/>
<rect x="657.9" y="1840.9" width="9.4" height="68.6" fill="#b8bce1"/>
<rect x="697.7" y="1840.9" width="4.7" height="68.6" fill="#b8bce1"/>
<rect x="709.4" y="1857.5" width="110.1" height="1.9" fill="#dcb5b5"/>
<rect x="908.5" y="1857.5" width="81.5" height="1.9" fill="#dcb5b5"/>
<rect x="594.7" y="1941.8" width="99.5" height="1.6" fill="#b8bce1"/>
<rect x="860.5" y="1909.5" width="7.0" height="68.9" fill="#b8bce1"/>
<rect x="820.2" y="1981.4" width="83.6" height="2.3" fill="#b8bce1"/>
<rect x="657.9" y="2072.7" width="7.0" height="15.2" fill="#b8bce1"/>
<rect x="707.1" y="2186.3" width="35.1" height="19.4" fill="#dcb5b5"/>
<rect x="728.2" y="2186.3" width="7.0" height="19.4" fill="#b8bce1"/>
<rect x="860.5" y="2092.6" width="7.0" height="42.2" fill="#b8bce1"/>
<rect x="980.0" y="1892.4" width="4.7" height="2.3" fill="#b8bce1"/>
<rect x="997.3" y="1858.7" width="186.4" height="1.9" fill="#b8bce1"/>
<rect x="998.7" y="1840.9" width="4.7" height="68.6" fill="#dcb5b5"/>
<rect x="1235.3" y="1840.9" width="9.4" height="68.6" fill="#b8bce1"/>
<rect x="1057.3" y="1961.5" width="16.4" height="9.4" fill="#b8bce1"/>
<rect x="1038.5" y="1984.9" width="4.7" height="82.0" fill="#dcb5b5"/>
<rect x="1184.4" y="2019.1" width="100.0" height="1.9" fill="#b8bce1"/>
<rect x="1364.1" y="1978.3" width="15.9" height="94.4" fill="#dcb5b5"/>
<rect x="1237.6" y="2087.9" width="4.7" height="117.8" fill="#b8bce1"/>
<rect x="1345.3" y="2087.9" width="7.0" height="117.8" fill="#dcb5b5"/>
<rect x="1450.6" y="1858.7" width="78.7" height="1.9" fill="#b8bce1"/>
<rect x="1430.3" y="1840.9" width="14.1" height="68.6" fill="#dcb5b5"/>
<rect x="1603.6" y="1840.9" width="4.7" height="68.6" fill="#dcb5b5"/>
<rect x="1450.6" y="1941.8" width="78.7" height="1.9" fill="#b8bce1"/>
<rect x="1702.4" y="1941.8" width="57.6" height="1.9" fill="#b8bce1"/>
<rect x="1659.8" y="2032.9" width="9.4" height="2.3" fill="#dcb5b5"/>
<rect x="1427.9" y="2072.7" width="9.4" height="15.2" fill="#dcb5b5"/>
<rect x="1509.9" y="2087.9" width="14.1" height="117.8" fill="#b8bce1"/>
<rect x="1488.8" y="2167.6" width="14.1" height="23.4" fill="#dcb5b5"/>
<rect x="1559.1" y="2087.9" width="4.7" height="117.8" fill="#dcb5b5"/>
<rect x="1746.4" y="2134.8" width="13.6" height="11.7" fill="#b8bce1"/>
<rect x="1798.4" y="1840.9" width="7.0" height="68.6" fill="#b8bce1"/>
<rect x="1826.5" y="1886.5" width="9.4" height="18.7" fill="#dcb5b5"/>
<rect x="1861.6" y="1909.5" width="5.9" height="68.9" fill="#dcb5b5"/>
<rect x="1903.7" y="1942.7" width="16.4" height="16.4" fill="#dcb5b5"/>
<rect x="2043.1" y="1912.3" width="22.2" height="58.5" fill="#b8bce1"/>
<rect x="1861.6" y="1978.3" width="7.0" height="94.4" fill="#dcb5b5"/>
<rect x="1889.7" y="1978.3" width="4.7" height="94.4" fill="#dcb5b5"/>
<rect x="2084.1" y="1978.3" width="8.2" height="94.4" fill="#dcb5b5"/>
<rect x="1746.8" y="2186.3" width="14.1" height="19.4" fill="#b8bce1"/>
<rect x="1764.4" y="2087.9" width="4.7" height="117.8" fill="#dcb5b5"/>
<rect x="2058.3" y="2087.9" width="7.0" height="117.8" fill="#b8bce1"/>
<rect x="594.5" y="2227.0" width="224.7" height="2.7" fill="#dcb5b5"/>
<rect x="977.2" y="2205.5" width="8.9" height="30.0" fill="#b8bce1"/>
<rect x="1039.5" y="2211.0" width="13.4" height="3.6" fill="#dcb5b5"/>
<rect x="1284.3" y="2227.0" width="65.9" height="2.7" fill="#dcb5b5"/>
<rect x="594.5" y="2256.0" width="224.7" height="2.7" fill="#dcb5b5"/>
<rect x="639.0" y="2282.2" width="11.1" height="56.1" fill="#dcb5b5"/>
<rect x="683.5" y="2282.2" width="8.9" height="56.1" fill="#dcb5b5"/>
<rect x="910.4" y="2282.2" width="8.9" height="56.1" fill="#dcb5b5"/>
<rect x="1146.3" y="2282.2" width="8.9" height="56.1" fill="#dcb5b5"/>
<rect x="1186.4" y="2282.2" width="31.2" height="56.1" fill="#b8bce1"/>
<rect x="857.0" y="2338.3" width="13.4" height="208.3" fill="#b8bce1"/>
<rect x="1039.5" y="2338.3" width="13.4" height="208.3" fill="#dcb5b5"/>
<rect x="1253.1" y="2338.3" width="4.5" height="208.3" fill="#dcb5b5"/>
<rect x="1363.1" y="2224.8" width="87.2" height="2.7" fill="#dcb5b5"/>
<rect x="1647.1" y="2224.8" width="53.4" height="2.7" fill="#dcb5b5"/>
<rect x="1956.4" y="2205.5" width="11.1" height="30.0" fill="#b8bce1"/>
<rect x="2056.5" y="2205.5" width="6.7" height="30.0" fill="#b8bce1"/>
<rect x="1363.1" y="2256.0" width="87.2" height="2.7" fill="#dcb5b5"/>
<rect x="1793.9" y="2235.5" width="13.4" height="46.7" fill="#b8bce1"/>
<rect x="1927.4" y="2235.5" width="6.7" height="46.7" fill="#dcb5b5"/>
<rect x="1998.7" y="2256.0" width="94.3" height="2.7" fill="#dcb5b5"/>
<rect x="2056.5" y="2235.5" width="6.7" height="46.7" fill="#b8bce1"/>
<rect x="1469.1" y="2282.2" width="4.5" height="56.1" fill="#dcb5b5"/>
<rect x="1486.9" y="2282.2" width="4.5" height="56.1" fill="#dcb5b5"/>
<rect x="1647.1" y="2282.2" width="22.3" height="56.1" fill="#b8bce1"/>
<rect x="1469.1" y="2338.3" width="4.5" height="208.3" fill="#dcb5b5"/>
<rect x="1486.9" y="2338.3" width="4.5" height="208.3" fill="#dcb5b5"/>
<rect x="1504.7" y="2338.3" width="17.8" height="208.3" fill="#dcb5b5"/>
<rect x="824.2" y="1885.4" width="30.4" height="19.9" fill="#d7aaaa"/>
<rect x="667.3" y="1909.5" width="4.7" height="68.9" fill="#d7aaaa"/>
<rect x="683.7" y="1909.5" width="10.5" height="68.9" fill="#d7aaaa"/>
<rect x="697.7" y="1955.8" width="121.8" height="1.9" fill="#adb0db"/>
<rect x="913.2" y="1961.5" width="9.4" height="14.1" fill="#adb0db"/>
<rect x="908.5" y="1909.9" width="9.4" height="32.8" fill="#d7aaaa"/>
<rect x="594.7" y="2021.4" width="93.7" height="1.9" fill="#adb0db"/>
<rect x="676.7" y="1978.3" width="5.9" height="94.4" fill="#adb0db"/>
<rect x="882.7" y="2022.4" width="9.4" height="46.8" fill="#d7aaaa"/>
<rect x="976.4" y="1978.3" width="7.0" height="94.4" fill="#adb0db"/>
<rect x="594.7" y="2069.2" width="395.3" height="1.9" fill="#d7aaaa"/>
<rect x="753.9" y="2072.7" width="7.0" height="15.2" fill="#d7aaaa"/>
<rect x="934.3" y="2072.7" width="7.0" height="15.2" fill="#d7aaaa"/>
<rect x="934.3" y="2087.9" width="7.0" height="117.8" fill="#d7aaaa"/>
<rect x="908.5" y="2161.9" width="81.5" height="1.9" fill="#adb0db"/>
<rect x="1345.3" y="1844.4" width="7.0" height="42.2" fill="#d7aaaa"/>
<rect x="1250.5" y="1984.9" width="4.7" height="82.0" fill="#d7aaaa"/>
<rect x="1453.7" y="1842.0" width="11.7" height="23.4" fill="#adb0db"/>
<rect x="1364.7" y="1924.0" width="5.9" height="54.3" fill="#d7aaaa"/>
<rect x="1765.6" y="1909.5" width="4.7" height="68.9" fill="#d7aaaa"/>
<rect x="2068.9" y="1909.5" width="4.7" height="68.9" fill="#d7aaaa"/>
<rect x="1819.4" y="1978.3" width="7.0" height="94.4" fill="#d7aaaa"/>
<rect x="1983.4" y="1978.3" width="7.0" height="94.4" fill="#d7aaaa"/>
<rect x="1828.8" y="2116.0" width="9.4" height="7.0" fill="#d7aaaa"/>
<rect x="1956.4" y="2087.9" width="8.2" height="42.2" fill="#adb0db"/>
<rect x="1990.4" y="2139.4" width="7.0" height="66.3" fill="#adb0db"/>
<rect x="2000.9" y="2090.3" width="17.6" height="96.0" fill="#d7aaaa"/>
<rect x="1186.4" y="2231.5" width="95.7" height="2.7" fill="#adb0db"/>
<rect x="781.4" y="2282.2" width="6.7" height="56.1" fill="#d7aaaa"/>
<rect x="639.0" y="2338.3" width="13.4" height="208.3" fill="#d7aaaa"/>
<rect x="683.5" y="2338.3" width="11.1" height="208.3" fill="#d7aaaa"/>
<rect x="1504.7" y="2282.2" width="17.8" height="56.1" fill="#d7aaaa"/>
<rect x="1740.5" y="2282.2" width="8.9" height="56.1" fill="#d7aaaa"/>
<rect x="2067.6" y="2282.2" width="6.7" height="56.1" fill="#d7aaaa"/>
<rect x="2067.6" y="2338.3" width="6.7" height="208.3" fill="#d7aaaa"/>
<rect x="1671.6" y="2338.3" width="28.9" height="208.3" fill="#a7a9d7"/>
<rect x="696.6" y="1884.4" width="207.3" height="1.9" fill="#d29e9e"/>
<rect x="753.9" y="1919.3" width="7.0" height="14.1" fill="#d29e9e"/>
<rect x="933.1" y="1942.7" width="15.2" height="18.7" fill="#d29e9e"/>
<rect x="696.6" y="1983.9" width="123.0" height="1.9" fill="#a2a5d5"/>
<rect x="770.3" y="1978.3" width="7.0" height="94.4" fill="#a2a5d5"/>
<rect x="753.9" y="2087.9" width="7.0" height="117.8" fill="#d29e9e"/>
<rect x="707.1" y="2139.4" width="9.4" height="11.7" fill="#d29e9e"/>
<rect x="810.1" y="2137.1" width="9.4" height="14.1" fill="#d29e9e"/>
<rect x="707.1" y="2185.4" width="112.4" height="1.9" fill="#d29e9e"/>
<rect x="887.4" y="2183.9" width="16.4" height="21.8" fill="#d29e9e"/>
<rect x="997.3" y="1885.6" width="104.4" height="1.9" fill="#d29e9e"/>
<rect x="1101.8" y="1885.6" width="182.7" height="1.9" fill="#a2a5d5"/>
<rect x="1186.1" y="1909.9" width="18.7" height="68.4" fill="#a2a5d5"/>
<rect x="1286.8" y="1909.9" width="23.4" height="30.4" fill="#d29e9e"/>
<rect x="1184.4" y="1985.1" width="100.0" height="1.9" fill="#a2a5d5"/>
<rect x="1101.8" y="2065.9" width="278.2" height="1.9" fill="#d29e9e"/>
<rect x="1186.1" y="2144.6" width="30.4" height="3.7" fill="#d29e9e"/>
<rect x="1303.2" y="2087.9" width="7.0" height="39.8" fill="#d29e9e"/>
<rect x="1363.3" y="1885.1" width="87.4" height="1.9" fill="#d29e9e"/>
<rect x="1376.4" y="1912.3" width="7.0" height="63.2" fill="#d29e9e"/>
<rect x="1493.5" y="1959.1" width="7.0" height="16.4" fill="#a2a5d5"/>
<rect x="1529.3" y="1979.3" width="116.6" height="1.9" fill="#a2a5d5"/>
<rect x="1450.6" y="2065.9" width="195.3" height="1.9" fill="#d29e9e"/>
<rect x="1363.3" y="2021.4" width="87.4" height="1.9" fill="#d29e9e"/>
<rect x="1427.9" y="2087.9" width="11.7" height="117.8" fill="#d29e9e"/>
<rect x="1657.4" y="2116.0" width="9.4" height="11.7" fill="#d29e9e"/>
<rect x="1819.0" y="1885.1" width="57.8" height="1.9" fill="#a2a5d5"/>
<rect x="1876.8" y="1885.1" width="49.9" height="1.9" fill="#d29e9e"/>
<rect x="2058.3" y="1840.9" width="7.0" height="68.6" fill="#a2a5d5"/>
<rect x="1702.3" y="1941.8" width="61.6" height="1.9" fill="#a2a5d5"/>
<rect x="2000.9" y="1945.1" width="12.9" height="14.1" fill="#d29e9e"/>
<rect x="1763.9" y="2067.1" width="55.0" height="1.9" fill="#a2a5d5"/>
<rect x="1926.7" y="2019.1" width="71.9" height="1.9" fill="#a2a5d5"/>
<rect x="1746.8" y="2132.4" width="11.7" height="16.4" fill="#a2a5d5"/>
<rect x="1956.4" y="2151.2" width="8.2" height="35.1" fill="#a2a5d5"/>
<rect x="1934.2" y="2143.0" width="14.1" height="2.3" fill="#d29e9e"/>
<rect x="821.4" y="2226.2" width="80.1" height="4.5" fill="#d29e9e"/>
<rect x="932.7" y="2206.1" width="17.8" height="15.6" fill="#d29e9e"/>
<rect x="1101.8" y="2224.8" width="82.3" height="2.7" fill="#a2a5d5"/>
<rect x="665.7" y="2282.2" width="8.9" height="56.1" fill="#d29e9e"/>
<rect x="857.0" y="2282.2" width="11.1" height="56.1" fill="#a2a5d5"/>
<rect x="1021.7" y="2282.2" width="17.8" height="56.1" fill="#d29e9e"/>
<rect x="754.7" y="2338.3" width="6.7" height="208.3" fill="#d29e9e"/>
<rect x="908.2" y="2338.3" width="11.1" height="208.3" fill="#d29e9e"/>
<rect x="1531.4" y="2256.0" width="111.3" height="2.7" fill="#a2a5d5"/>
<rect x="1811.7" y="2235.5" width="6.7" height="46.7" fill="#d29e9e"/>
<rect x="1671.6" y="2282.2" width="28.9" height="56.1" fill="#a2a5d5"/>
<rect x="1860.7" y="2282.2" width="6.7" height="56.1" fill="#d29e9e"/>
<rect x="1878.5" y="2282.2" width="24.5" height="56.1" fill="#a2a5d5"/>
<rect x="1375.6" y="2453.1" width="8.9" height="93.5" fill="#d29e9e"/>
<rect x="1878.5" y="2338.3" width="24.5" height="208.3" fill="#a2a5d5"/>
<rect x="594.7" y="1864.0" width="224.8" height="1.9" fill="#9799ce"/>
<rect x="934.3" y="1865.4" width="14.1" height="39.8" fill="#cd9393"/>
<rect x="594.7" y="1909.9" width="11.7" height="23.4" fill="#cd9393"/>
<rect x="953.0" y="1961.5" width="18.7" height="14.1" fill="#9799ce"/>
<rect x="594.7" y="1984.9" width="7.0" height="84.3" fill="#cd9393"/>
<rect x="728.2" y="2137.1" width="9.4" height="14.1" fill="#9799ce"/>
<rect x="1277.4" y="2072.7" width="7.0" height="15.2" fill="#cd9393"/>
<rect x="1036.2" y="2087.9" width="7.0" height="117.8" fill="#cd9393"/>
<rect x="1057.3" y="2143.2" width="39.8" height="1.9" fill="#cd9393"/>
<rect x="1363.3" y="1863.3" width="87.4" height="1.9" fill="#cd9393"/>
<rect x="1512.2" y="1840.9" width="11.7" height="68.6" fill="#9799ce"/>
<rect x="1692.6" y="1885.4" width="8.2" height="19.9" fill="#cd9393"/>
<rect x="1512.2" y="1984.9" width="11.7" height="84.3" fill="#cd9393"/>
<rect x="1763.9" y="1863.3" width="329.0" height="1.9" fill="#cd9393"/>
<rect x="1903.7" y="1844.4" width="7.0" height="65.1" fill="#cd9393"/>
<rect x="2000.9" y="1842.0" width="17.6" height="67.4" fill="#cd9393"/>
<rect x="2025.5" y="1909.5" width="9.4" height="68.9" fill="#9799ce"/>
<rect x="1798.4" y="1984.9" width="7.0" height="82.0" fill="#9799ce"/>
<rect x="2000.9" y="2072.7" width="12.9" height="15.2" fill="#cd9393"/>
<rect x="1906.1" y="2116.0" width="9.4" height="7.0" fill="#cd9393"/>
<rect x="781.4" y="2338.3" width="6.7" height="208.3" fill="#cd9393"/>
<rect x="821.4" y="2348.5" width="28.9" height="104.6" fill="#cd9393"/>
<rect x="879.3" y="2338.3" width="24.5" height="114.8" fill="#cd9393"/>
<rect x="1956.4" y="2235.5" width="11.1" height="46.7" fill="#9799ce"/>
<rect x="1765.0" y="2282.2" width="8.9" height="56.1" fill="#cd9393"/>
<rect x="2023.1" y="2282.2" width="13.4" height="56.1" fill="#9799ce"/>
<rect x="2043.2" y="2282.2" width="20.0" height="56.1" fill="#9799ce"/>
<rect x="1738.3" y="2338.3" width="8.9" height="208.3" fill="#cd9393"/>
<rect x="1860.7" y="2338.3" width="6.7" height="208.3" fill="#cd9393"/>
<rect x="594.7" y="1840.6" width="100.7" height="1.9" fill="#c88686"/>
<rect x="871.0" y="1851.4" width="32.8" height="7.0" fill="#c88686"/>
<rect x="974.1" y="1893.5" width="9.4" height="2.8" fill="#8b8cc7"/>
<rect x="594.7" y="1985.1" width="93.7" height="1.9" fill="#8b8cc7"/>
<rect x="657.9" y="2087.9" width="8.2" height="117.8" fill="#8b8cc7"/>
<rect x="980.0" y="1858.4" width="16.4" height="4.7" fill="#c88686"/>
<rect x="997.3" y="1863.3" width="104.4" height="1.9" fill="#c88686"/>
<rect x="1277.4" y="1886.5" width="7.0" height="7.0" fill="#c88686"/>
<rect x="1024.5" y="1912.3" width="16.4" height="32.8" fill="#c88686"/>
<rect x="980.0" y="2143.2" width="16.4" height="1.9" fill="#c88686"/>
<rect x="1186.1" y="2099.9" width="79.6" height="1.9" fill="#8b8cc7"/>
<rect x="1655.1" y="1893.5" width="14.1" height="11.7" fill="#c88686"/>
<rect x="1737.0" y="1961.5" width="7.0" height="14.1" fill="#c88686"/>
<rect x="1363.3" y="2067.1" width="87.4" height="1.9" fill="#8b8cc7"/>
<rect x="1411.5" y="1995.7" width="9.4" height="1.9" fill="#c88686"/>
<rect x="1646.9" y="2078.6" width="52.7" height="8.2" fill="#8b8cc7"/>
<rect x="1810.1" y="1865.4" width="7.0" height="44.0" fill="#c88686"/>
<rect x="1956.4" y="1840.9" width="8.2" height="68.6" fill="#8b8cc7"/>
<rect x="2084.1" y="1863.3" width="8.2" height="2.3" fill="#c88686"/>
<rect x="1739.8" y="1961.5" width="7.0" height="14.1" fill="#c88686"/>
<rect x="1952.9" y="1909.5" width="11.7" height="68.9" fill="#8b8cc7"/>
<rect x="1928.3" y="1909.5" width="4.7" height="68.9" fill="#c88686"/>
<rect x="1926.7" y="1981.6" width="71.9" height="1.9" fill="#c88686"/>
<rect x="1956.4" y="2072.7" width="9.4" height="15.2" fill="#8b8cc7"/>
<rect x="594.5" y="2237.3" width="4.5" height="24.5" fill="#c88686"/>
<rect x="881.5" y="2237.3" width="15.6" height="33.4" fill="#c88686"/>
<rect x="932.7" y="2235.5" width="17.8" height="46.7" fill="#c88686"/>
<rect x="879.3" y="2310.7" width="24.5" height="27.6" fill="#c88686"/>
<rect x="1177.4" y="2282.2" width="6.7" height="56.1" fill="#c88686"/>
<rect x="1219.7" y="2282.2" width="6.7" height="56.1" fill="#c88686"/>
<rect x="696.8" y="2416.2" width="120.2" height="2.7" fill="#c88686"/>
<rect x="954.9" y="2341.9" width="35.6" height="6.7" fill="#8b8cc7"/>
<rect x="1023.9" y="2338.3" width="11.1" height="208.3" fill="#c88686"/>
<rect x="1148.5" y="2338.3" width="6.7" height="208.3" fill="#c88686"/>
<rect x="1455.7" y="2228.4" width="71.2" height="2.7" fill="#8b8cc7"/>
<rect x="1905.2" y="2208.4" width="13.4" height="26.7" fill="#c88686"/>
<rect x="1375.6" y="2282.2" width="8.9" height="56.1" fill="#c88686"/>
<rect x="1927.4" y="2282.2" width="6.7" height="56.1" fill="#c88686"/>
<rect x="1954.2" y="2282.2" width="13.4" height="56.1" fill="#8b8cc7"/>
<rect x="2023.1" y="2338.3" width="13.4" height="208.3" fill="#8b8cc7"/>
<rect x="2043.2" y="2338.3" width="20.0" height="208.3" fill="#8b8cc7"/>
<rect x="833.6" y="1984.9" width="11.7" height="84.3" fill="#c27a79"/>
<rect x="842.9" y="2087.9" width="9.4" height="63.2" fill="#c27a79"/>
<rect x="1286.8" y="1959.1" width="23.4" height="19.2" fill="#c27a79"/>
<rect x="1364.1" y="1909.9" width="9.4" height="68.4" fill="#c27a79"/>
<rect x="1286.8" y="1980.2" width="23.4" height="89.0" fill="#c27a79"/>
<rect x="1577.8" y="1959.1" width="16.4" height="16.4" fill="#7f80c0"/>
<rect x="1657.4" y="1945.1" width="9.4" height="14.1" fill="#c27a79"/>
<rect x="1491.1" y="2191.0" width="9.4" height="14.8" fill="#c27a79"/>
<rect x="2000.9" y="2111.3" width="17.6" height="18.7" fill="#c27a79"/>
<rect x="832.5" y="2237.3" width="15.6" height="33.4" fill="#c27a79"/>
<rect x="754.7" y="2308.5" width="13.4" height="15.6" fill="#c27a79"/>
<rect x="665.7" y="2338.3" width="8.9" height="208.3" fill="#c27a79"/>
<rect x="1364.5" y="2282.2" width="8.9" height="56.1" fill="#c27a79"/>
<rect x="1364.5" y="2338.3" width="8.9" height="208.3" fill="#c27a79"/>
<rect x="1580.3" y="2341.9" width="11.1" height="6.7" fill="#7f80c0"/>
<rect x="1954.2" y="2338.3" width="13.4" height="208.3" fill="#7f80c0"/>
<rect x="594.7" y="1959.1" width="11.7" height="16.4" fill="#be6f6d"/>
<rect x="730.5" y="1912.3" width="9.4" height="25.8" fill="#be6f6d"/>
<rect x="821.9" y="1941.8" width="82.0" height="1.4" fill="#be6f6d"/>
<rect x="974.1" y="1909.5" width="11.7" height="68.9" fill="#7475bb"/>
<rect x="878.1" y="2079.7" width="25.8" height="3.5" fill="#be6f6d"/>
<rect x="821.9" y="2183.9" width="35.1" height="21.8" fill="#be6f6d"/>
<rect x="980.0" y="1909.9" width="4.7" height="68.4" fill="#7475bb"/>
<rect x="1024.5" y="1931.0" width="28.1" height="2.3" fill="#be6f6d"/>
<rect x="1146.3" y="1909.9" width="8.2" height="68.4" fill="#be6f6d"/>
<rect x="1176.7" y="1909.9" width="5.9" height="68.4" fill="#be6f6d"/>
<rect x="1221.2" y="1909.9" width="5.9" height="68.4" fill="#be6f6d"/>
<rect x="997.3" y="1980.2" width="104.4" height="2.3" fill="#be6f6d"/>
<rect x="997.3" y="2064.7" width="104.4" height="1.9" fill="#7475bb"/>
<rect x="1364.7" y="1961.5" width="5.9" height="14.1" fill="#be6f6d"/>
<rect x="1645.9" y="1941.8" width="56.4" height="1.9" fill="#be6f6d"/>
<rect x="1363.3" y="1982.8" width="87.4" height="1.9" fill="#be6f6d"/>
<rect x="1646.9" y="2151.2" width="45.7" height="54.6" fill="#7475bb"/>
<rect x="1819.0" y="2064.7" width="57.8" height="1.9" fill="#be6f6d"/>
<rect x="2044.3" y="2141.8" width="11.7" height="7.0" fill="#be6f6d"/>
<rect x="998.5" y="2237.3" width="5.3" height="44.9" fill="#be6f6d"/>
<rect x="594.5" y="2282.2" width="11.1" height="56.1" fill="#be6f6d"/>
<rect x="975.0" y="2282.2" width="11.1" height="56.1" fill="#7475bb"/>
<rect x="1126.3" y="2282.2" width="8.9" height="56.1" fill="#be6f6d"/>
<rect x="1286.5" y="2282.2" width="24.5" height="56.1" fill="#be6f6d"/>
<rect x="1177.4" y="2338.3" width="6.7" height="208.3" fill="#be6f6d"/>
<rect x="1286.5" y="2338.3" width="24.5" height="208.3" fill="#be6f6d"/>
<rect x="1765.0" y="2338.3" width="8.9" height="208.3" fill="#be6f6d"/>
<rect x="871.0" y="2151.2" width="32.8" height="21.1" fill="#ba6361"/>
<rect x="1927.4" y="2338.3" width="6.7" height="208.3" fill="#ba6361"/>
<rect x="880.4" y="1909.9" width="23.4" height="32.8" fill="#b65855"/>
<rect x="833.6" y="2029.4" width="11.7" height="28.1" fill="#b65855"/>
<rect x="1024.5" y="1947.4" width="16.4" height="11.7" fill="#b65855"/>
<rect x="1125.2" y="1909.9" width="9.4" height="68.4" fill="#b65855"/>
<rect x="1703.1" y="1842.0" width="56.9" height="43.3" fill="#5d62b4"/>
<rect x="1702.3" y="1842.0" width="60.9" height="43.3" fill="#5d62b4"/>
<rect x="1956.4" y="1980.2" width="9.4" height="92.5" fill="#5d62b4"/>
<rect x="821.4" y="2306.3" width="31.2" height="32.0" fill="#b65855"/>
<rect x="594.5" y="2338.3" width="11.1" height="208.3" fill="#b65855"/>
<rect x="728.0" y="2341.9" width="13.4" height="75.7" fill="#b65855"/>
<rect x="1375.6" y="2341.9" width="8.9" height="111.3" fill="#b65855"/>
<rect x="998.7" y="1984.9" width="7.0" height="82.0" fill="#b24e48"/>
<rect x="1296.2" y="1980.2" width="14.1" height="89.0" fill="#b24e48"/>
<rect x="1811.2" y="1984.9" width="7.0" height="82.0" fill="#b24e48"/>
<rect x="728.0" y="2284.0" width="15.6" height="54.3" fill="#b24e48"/>
<rect x="879.3" y="2453.1" width="24.5" height="93.5" fill="#b24e48"/>
<rect x="1128.5" y="2338.3" width="8.9" height="208.3" fill="#b24e48"/>
<rect x="878.1" y="1844.4" width="14.1" height="41.0" fill="#ad433d"/>
<rect x="730.5" y="1921.7" width="9.4" height="7.0" fill="#ad433d"/>
<rect x="933.1" y="1909.9" width="15.2" height="32.8" fill="#ad433d"/>
<rect x="821.9" y="2078.6" width="32.8" height="5.9" fill="#ad433d"/>
<rect x="998.7" y="1909.9" width="11.7" height="68.4" fill="#ad433d"/>
<rect x="1692.6" y="2090.3" width="8.2" height="59.7" fill="#ad433d"/>
<rect x="2043.1" y="1972.0" width="22.2" height="4.7" fill="#4951ac"/>
<rect x="1299.8" y="2237.3" width="8.9" height="42.3" fill="#ad433d"/>
<rect x="879.3" y="2284.0" width="24.5" height="26.7" fill="#ad433d"/>
<rect x="820.5" y="2342.3" width="85.4" height="3.6" fill="#ad433d"/>
<rect x="1219.7" y="2338.3" width="6.7" height="208.3" fill="#ad433d"/>
<rect x="824.2" y="1842.0" width="30.4" height="43.3" fill="#a93831"/>
<rect x="821.9" y="1909.9" width="32.8" height="31.6" fill="#a93831"/>
<rect x="821.9" y="1947.4" width="32.8" height="30.9" fill="#a93831"/>
<rect x="880.4" y="1947.4" width="23.4" height="30.9" fill="#a93831"/>
<rect x="821.9" y="2151.2" width="35.1" height="25.8" fill="#a93831"/>
<rect x="1104.1" y="1909.9" width="9.4" height="68.4" fill="#a93831"/>
<rect x="1273.9" y="2104.3" width="10.5" height="101.4" fill="#a93831"/>
<rect x="1646.9" y="1842.0" width="45.7" height="43.3" fill="#a93831"/>
<rect x="1488.8" y="2130.1" width="14.1" height="21.1" fill="#a93831"/>
<rect x="1810.1" y="1912.3" width="8.2" height="66.0" fill="#a93831"/>
<rect x="1908.4" y="1984.9" width="11.7" height="82.0" fill="#a93831"/>
<rect x="728.0" y="2308.5" width="15.6" height="15.6" fill="#a93831"/>
<rect x="821.4" y="2284.0" width="31.2" height="22.3" fill="#a93831"/>
<rect x="932.7" y="2282.2" width="17.8" height="56.1" fill="#a93831"/>
<rect x="998.5" y="2282.2" width="12.0" height="56.1" fill="#a93831"/>
<rect x="1101.8" y="2282.2" width="22.3" height="56.1" fill="#a93831"/>
<rect x="821.4" y="2453.1" width="28.9" height="93.5" fill="#a93831"/>
<rect x="926.0" y="2338.3" width="24.5" height="208.3" fill="#a93831"/>
<rect x="975.0" y="2338.3" width="11.1" height="208.3" fill="#3f48a8"/>
<rect x="1907.4" y="2237.3" width="13.4" height="42.3" fill="#a93831"/>
<rect x="974.1" y="1959.1" width="14.1" height="16.4" fill="#3e44a3"/>
<rect x="980.0" y="1959.1" width="4.7" height="16.4" fill="#3e44a3"/>
<rect x="1826.5" y="1912.3" width="14.1" height="66.0" fill="#a4302b"/>
<rect x="728.0" y="2417.5" width="13.4" height="129.1" fill="#a4302b"/>
<rect x="998.5" y="2338.3" width="12.0" height="208.3" fill="#a4302b"/>
<rect x="1101.8" y="2338.3" width="22.3" height="208.3" fill="#a4302b"/>
<rect x="1809.5" y="2282.2" width="8.9" height="56.1" fill="#a4302b"/>
<rect x="1825.1" y="2282.2" width="15.6" height="56.1" fill="#a4302b"/>
<rect x="1691.4" y="1842.0" width="9.4" height="43.3" fill="#9f2727"/>
<rect x="1809.5" y="2338.3" width="8.9" height="208.3" fill="#9f2727"/>
<rect x="1825.1" y="2338.3" width="15.6" height="208.3" fill="#9f2727"/>
<rect x="584.7" y="1837.4" width="1518.3" height="709.5999999999999" fill="url(#rows)"/>
</g>
<rect x="594.7" y="1840.4" width="1498.3" height="703.5999999999999" fill="#fff" filter="url(#nred)" opacity="0.9"/>
<rect x="594.7" y="1840.4" width="1498.3" height="703.5999999999999" fill="#fff" filter="url(#nblue)" opacity="0.9"/>
</g>
<rect x="549.5" y="57.3" width="30.5" height="341.5" fill="#9fe0cf"/>
<rect x="549.2" y="1424.6" width="29.0" height="343.6" fill="#9fe0cf"/>
<rect x="594.7" y="447.6" width="102.2" height="14.4" fill="#9fe0cd"/>
<rect x="594.7" y="1814.8" width="102.2" height="14.8" fill="#9fe0cd"/>
<rect x="696.6" y="447.6" width="124.0" height="14.4" fill="#d7f1c6"/>
<rect x="696.6" y="1814.8" width="124.0" height="14.8" fill="#d7f1c6"/>
<rect x="820.3" y="447.6" width="88.0" height="14.4" fill="#ebf5c6"/>
<rect x="820.3" y="1814.8" width="85.8" height="14.8" fill="#ebf5c6"/>
<rect x="908.0" y="447.6" width="89.3" height="14.4" fill="#cdcde0"/>
<rect x="905.8" y="1814.8" width="91.9" height="14.8" fill="#cdcde0"/>
<rect x="997.0" y="447.6" width="104.0" height="14.4" fill="#dca9b5"/>
<rect x="997.4" y="1814.8" width="104.5" height="14.8" fill="#dca9b5"/>
<rect x="1100.7" y="447.6" width="82.2" height="14.4" fill="#e98980"/>
<rect x="1101.6" y="1814.8" width="83.1" height="14.8" fill="#e98980"/>
<rect x="1182.6" y="447.6" width="99.5" height="14.4" fill="#aea6c0"/>
<rect x="1184.4" y="1814.8" width="100.4" height="14.8" fill="#aea6c0"/>
<rect x="1281.8" y="447.6" width="79.2" height="14.4" fill="#a9bdb9"/>
<rect x="1284.5" y="1814.8" width="79.0" height="14.8" fill="#a9bdb9"/>
<rect x="1360.7" y="447.6" width="90.2" height="14.4" fill="#e9b273"/>
<rect x="1363.2" y="1814.8" width="87.7" height="14.8" fill="#e9b273"/>
<rect x="1450.6" y="447.6" width="79.1" height="14.4" fill="#d8d57a"/>
<rect x="1450.6" y="1814.8" width="79.1" height="14.8" fill="#d8d57a"/>
<rect x="1529.4" y="447.6" width="114.9" height="14.4" fill="#c6e993"/>
<rect x="1529.4" y="1814.8" width="116.9" height="14.8" fill="#c6e993"/>
<rect x="1644.0" y="447.6" width="57.2" height="14.4" fill="#e9d9c9"/>
<rect x="1646.0" y="1814.8" width="56.6" height="14.8" fill="#e9d9c9"/>
<rect x="1700.9" y="447.6" width="61.0" height="14.4" fill="#f1d6e6"/>
<rect x="1702.3" y="1814.8" width="62.0" height="14.8" fill="#f1d6e6"/>
<rect x="1761.6" y="447.6" width="56.2" height="14.4" fill="#e0e0e0"/>
<rect x="1764.0" y="1814.8" width="55.3" height="14.8" fill="#e0e0e0"/>
<rect x="1817.5" y="447.6" width="58.6" height="14.4" fill="#cdabd5"/>
<rect x="1819.0" y="1814.8" width="58.1" height="14.8" fill="#cdabd5"/>
<rect x="1875.8" y="447.6" width="51.3" height="14.4" fill="#c99acd"/>
<rect x="1876.8" y="1814.8" width="50.3" height="14.8" fill="#c99acd"/>
<rect x="1926.8" y="447.6" width="70.8" height="14.4" fill="#c9d9c9"/>
<rect x="1926.8" y="1814.8" width="72.2" height="14.8" fill="#c9d9c9"/>
<rect x="1997.3" y="447.6" width="43.0" height="14.4" fill="#ddf1b6"/>
<rect x="1998.7" y="1814.8" width="43.6" height="14.8" fill="#ddf1b6"/>
<rect x="2040.0" y="447.6" width="50.3" height="14.4" fill="#eded82"/>
<rect x="2042.0" y="1814.8" width="51.3" height="14.8" fill="#eded82"/>
<line x1="696.6" y1="56.3" x2="696.6" y2="400.5" stroke="#1a1a1a" stroke-width="2"/>
<line x1="696.6" y1="472.5" x2="696.6" y2="1175.5" stroke="#1a1a1a" stroke-width="2"/>
<line x1="696.6" y1="1423.5" x2="696.6" y2="1769.5" stroke="#1a1a1a" stroke-width="2"/>
<line x1="696.6" y1="1839.5" x2="696.6" y2="2545.0" stroke="#1a1a1a" stroke-width="2"/>
<line x1="820.3" y1="56.3" x2="820.3" y2="400.5" stroke="#1a1a1a" stroke-width="2"/>
<line x1="820.3" y1="472.5" x2="820.3" y2="1175.5" stroke="#1a1a1a" stroke-width="2"/>
<line x1="820.3" y1="1423.5" x2="820.3" y2="1769.5" stroke="#1a1a1a" stroke-width="2"/>
<line x1="820.3" y1="1839.5" x2="820.3" y2="2545.0" stroke="#1a1a1a" stroke-width="2"/>
<line x1="908.0" y1="56.3" x2="908.0" y2="400.5" stroke="#1a1a1a" stroke-width="2"/>
<line x1="908.0" y1="472.5" x2="908.0" y2="1175.5" stroke="#1a1a1a" stroke-width="2"/>
<line x1="905.8" y1="1423.5" x2="905.8" y2="1769.5" stroke="#1a1a1a" stroke-width="2"/>
<line x1="905.8" y1="1839.5" x2="905.8" y2="2545.0" stroke="#1a1a1a" stroke-width="2"/>
<line x1="997.0" y1="56.3" x2="997.0" y2="400.5" stroke="#1a1a1a" stroke-width="2"/>
<line x1="997.0" y1="472.5" x2="997.0" y2="1175.5" stroke="#1a1a1a" stroke-width="2"/>
<line x1="997.4" y1="1423.5" x2="997.4" y2="1769.5" stroke="#1a1a1a" stroke-width="2"/>
<line x1="997.4" y1="1839.5" x2="997.4" y2="2545.0" stroke="#1a1a1a" stroke-width="2"/>
<line x1="1100.7" y1="56.3" x2="1100.7" y2="400.5" stroke="#1a1a1a" stroke-width="2"/>
<line x1="1100.7" y1="472.5" x2="1100.7" y2="1175.5" stroke="#1a1a1a" stroke-width="2"/>
<line x1="1101.6" y1="1423.5" x2="1101.6" y2="1769.5" stroke="#1a1a1a" stroke-width="2"/>
<line x1="1101.6" y1="1839.5" x2="1101.6" y2="2545.0" stroke="#1a1a1a" stroke-width="2"/>
<line x1="1182.6" y1="56.3" x2="1182.6" y2="400.5" stroke="#1a1a1a" stroke-width="2"/>
<line x1="1182.6" y1="472.5" x2="1182.6" y2="1175.5" stroke="#1a1a1a" stroke-width="2"/>
<line x1="1184.4" y1="1423.5" x2="1184.4" y2="1769.5" stroke="#1a1a1a" stroke-width="2"/>
<line x1="1184.4" y1="1839.5" x2="1184.4" y2="2545.0" stroke="#1a1a1a" stroke-width="2"/>
<line x1="1281.8" y1="56.3" x2="1281.8" y2="400.5" stroke="#1a1a1a" stroke-width="2"/>
<line x1="1281.8" y1="472.5" x2="1281.8" y2="1175.5" stroke="#1a1a1a" stroke-width="2"/>
<line x1="1284.5" y1="1423.5" x2="1284.5" y2="1769.5" stroke="#1a1a1a" stroke-width="2"/>
<line x1="1284.5" y1="1839.5" x2="1284.5" y2="2545.0" stroke="#1a1a1a" stroke-width="2"/>
<line x1="1360.7" y1="56.3" x2="1360.7" y2="400.5" stroke="#1a1a1a" stroke-width="2"/>
<line x1="1360.7" y1="472.5" x2="1360.7" y2="1175.5" stroke="#1a1a1a" stroke-width="2"/>
<line x1="1363.2" y1="1423.5" x2="1363.2" y2="1769.5" stroke="#1a1a1a" stroke-width="2"/>
<line x1="1363.2" y1="1839.5" x2="1363.2" y2="2545.0" stroke="#1a1a1a" stroke-width="2"/>
<line x1="1450.6" y1="56.3" x2="1450.6" y2="400.5" stroke="#1a1a1a" stroke-width="2"/>
<line x1="1450.6" y1="472.5" x2="1450.6" y2="1175.5" stroke="#1a1a1a" stroke-width="2"/>
<line x1="1450.6" y1="1423.5" x2="1450.6" y2="1769.5" stroke="#1a1a1a" stroke-width="2"/>
<line x1="1450.6" y1="1839.5" x2="1450.6" y2="2545.0" stroke="#1a1a1a" stroke-width="2"/>
<line x1="1529.4" y1="56.3" x2="1529.4" y2="400.5" stroke="#1a1a1a" stroke-width="2"/>
<line x1="1529.4" y1="472.5" x2="1529.4" y2="1175.5" stroke="#1a1a1a" stroke-width="2"/>
<line x1="1529.4" y1="1423.5" x2="1529.4" y2="1769.5" stroke="#1a1a1a" stroke-width="2"/>
<line x1="1529.4" y1="1839.5" x2="1529.4" y2="2545.0" stroke="#1a1a1a" stroke-width="2"/>
<line x1="1644.0" y1="56.3" x2="1644.0" y2="400.5" stroke="#1a1a1a" stroke-width="2"/>
<line x1="1644.0" y1="472.5" x2="1644.0" y2="1175.5" stroke="#1a1a1a" stroke-width="2"/>
<line x1="1646.0" y1="1423.5" x2="1646.0" y2="1769.5" stroke="#1a1a1a" stroke-width="2"/>
<line x1="1646.0" y1="1839.5" x2="1646.0" y2="2545.0" stroke="#1a1a1a" stroke-width="2"/>
<line x1="1700.9" y1="56.3" x2="1700.9" y2="400.5" stroke="#1a1a1a" stroke-width="2"/>
<line x1="1700.9" y1="472.5" x2="1700.9" y2="1175.5" stroke="#1a1a1a" stroke-width="2"/>
<line x1="1702.3" y1="1423.5" x2="1702.3" y2="1769.5" stroke="#1a1a1a" stroke-width="2"/>
<line x1="1702.3" y1="1839.5" x2="1702.3" y2="2545.0" stroke="#1a1a1a" stroke-width="2"/>
<line x1="1761.6" y1="56.3" x2="1761.6" y2="400.5" stroke="#1a1a1a" stroke-width="2"/>
<line x1="1761.6" y1="472.5" x2="1761.6" y2="1175.5" stroke="#1a1a1a" stroke-width="2"/>
<line x1="1764.0" y1="1423.5" x2="1764.0" y2="1769.5" stroke="#1a1a1a" stroke-width="2"/>
<line x1="1764.0" y1="1839.5" x2="1764.0" y2="2545.0" stroke="#1a1a1a" stroke-width="2"/>
<line x1="1817.5" y1="56.3" x2="1817.5" y2="400.5" stroke="#1a1a1a" stroke-width="2"/>
<line x1="1817.5" y1="472.5" x2="1817.5" y2="1175.5" stroke="#1a1a1a" stroke-width="2"/>
<line x1="1819.0" y1="1423.5" x2="1819.0" y2="1769.5" stroke="#1a1a1a" stroke-width="2"/>
<line x1="1819.0" y1="1839.5" x2="1819.0" y2="2545.0" stroke="#1a1a1a" stroke-width="2"/>
<line x1="1875.8" y1="56.3" x2="1875.8" y2="400.5" stroke="#1a1a1a" stroke-width="2"/>
<line x1="1875.8" y1="472.5" x2="1875.8" y2="1175.5" stroke="#1a1a1a" stroke-width="2"/>
<line x1="1876.8" y1="1423.5" x2="1876.8" y2="1769.5" stroke="#1a1a1a" stroke-width="2"/>
<line x1="1876.8" y1="1839.5" x2="1876.8" y2="2545.0" stroke="#1a1a1a" stroke-width="2"/>
<line x1="1926.8" y1="56.3" x2="1926.8" y2="400.5" stroke="#1a1a1a" stroke-width="2"/>
<line x1="1926.8" y1="472.5" x2="1926.8" y2="1175.5" stroke="#1a1a1a" stroke-width="2"/>
<line x1="1926.8" y1="1423.5" x2="1926.8" y2="1769.5" stroke="#1a1a1a" stroke-width="2"/>
<line x1="1926.8" y1="1839.5" x2="1926.8" y2="2545.0" stroke="#1a1a1a" stroke-width="2"/>
<line x1="1997.3" y1="56.3" x2="1997.3" y2="400.5" stroke="#1a1a1a" stroke-width="2"/>
<line x1="1997.3" y1="472.5" x2="1997.3" y2="1175.5" stroke="#1a1a1a" stroke-width="2"/>
<line x1="1998.7" y1="1423.5" x2="1998.7" y2="1769.5" stroke="#1a1a1a" stroke-width="2"/>
<line x1="1998.7" y1="1839.5" x2="1998.7" y2="2545.0" stroke="#1a1a1a" stroke-width="2"/>
<line x1="2040.0" y1="56.3" x2="2040.0" y2="400.5" stroke="#1a1a1a" stroke-width="2"/>
<line x1="2040.0" y1="472.5" x2="2040.0" y2="1175.5" stroke="#1a1a1a" stroke-width="2"/>
<line x1="2042.0" y1="1423.5" x2="2042.0" y2="1769.5" stroke="#1a1a1a" stroke-width="2"/>
<line x1="2042.0" y1="1839.5" x2="2042.0" y2="2545.0" stroke="#1a1a1a" stroke-width="2"/>
<line x1="2090.0" y1="57.3" x2="2090.0" y2="398.8" stroke="#cfcfd8" stroke-width="1"/>
<line x1="2093.0" y1="1424.6" x2="2093.0" y2="1768.0" stroke="#cfcfd8" stroke-width="1"/>
<line x1="594.7" y1="524.1" x2="2091.0" y2="524.1" stroke="#1a1a1a" stroke-width="2"/>
<line x1="594.7" y1="571.0" x2="2091.0" y2="571.0" stroke="#1a1a1a" stroke-width="2"/>
<line x1="594.7" y1="637.6" x2="2091.0" y2="637.6" stroke="#1a1a1a" stroke-width="2"/>
<line x1="594.7" y1="750.9" x2="2091.0" y2="750.9" stroke="#1a1a1a" stroke-width="2"/>
<line x1="594.7" y1="823.7" x2="2091.0" y2="823.7" stroke="#1a1a1a" stroke-width="2"/>
<line x1="594.7" y1="934.9" x2="2091.0" y2="934.9" stroke="#1a1a1a" stroke-width="2"/>
<line x1="594.7" y1="1909.5" x2="2094.0" y2="1909.5" stroke="#1a1a1a" stroke-width="2"/>
<line x1="594.7" y1="1978.8" x2="2094.0" y2="1978.8" stroke="#1a1a1a" stroke-width="2"/>
<line x1="594.7" y1="2072.4" x2="2094.0" y2="2072.4" stroke="#1a1a1a" stroke-width="2"/>
<line x1="594.7" y1="2088.2" x2="2094.0" y2="2088.2" stroke="#1a1a1a" stroke-width="2"/>
<line x1="594.7" y1="2205.4" x2="2094.0" y2="2205.4" stroke="#1a1a1a" stroke-width="2"/>
<line x1="594.7" y1="2235.6" x2="2094.0" y2="2235.6" stroke="#1a1a1a" stroke-width="2"/>
<line x1="594.7" y1="2282.2" x2="2094.0" y2="2282.2" stroke="#1a1a1a" stroke-width="2"/>
<line x1="594.7" y1="2338.3" x2="2094.0" y2="2338.3" stroke="#1a1a1a" stroke-width="2"/>
<rect x="550.7" y="471.0" width="29.0" height="51.5" fill="#ecec80"/>
<rect x="550.7" y="522.5" width="29.0" height="47.0" fill="#c39ccc"/>
<rect x="550.7" y="569.5" width="29.0" height="66.0" fill="#edd8e6"/>
<rect x="550.7" y="635.5" width="29.0" height="114.0" fill="#d4d474"/>
<rect x="550.7" y="749.5" width="29.0" height="72.5" fill="#b1aac3"/>
<rect x="550.7" y="822.0" width="29.0" height="110.5" fill="#cdcddd"/>
<rect x="550.7" y="932.5" width="29.0" height="240.0" fill="#9fe0cf"/>
<line x1="542.0" y1="471.0" x2="542.0" y2="630.0" stroke="#8a8a8a" stroke-width="1.8"/>
<line x1="542.0" y1="645.0" x2="542.0" y2="926.0" stroke="#8a8a8a" stroke-width="1.8"/>
<line x1="542.0" y1="935.0" x2="542.0" y2="1172.3" stroke="#8a8a8a" stroke-width="1.8"/>
<text x="533.1" y="530.3" font-size="24.1" font-weight="bold" text-anchor="middle" fill="#1b1a1a" transform="rotate(-90 533.1 530.3)">EPN (ZFTA-RELA)</text>
<text x="534.0" y="788" font-size="24.1" font-weight="bold" text-anchor="middle" fill="#1b1a1a" transform="rotate(-90 534.0 788)">EPN (YAP1-MAMLD1)</text>
<text x="533.9" y="1050.6" font-size="24.1" font-weight="bold" text-anchor="middle" fill="#1b1a1a" transform="rotate(-90 533.9 1050.6)">GBM</text>
<text x="2120.5" y="230" font-size="28.9" font-weight="bold" text-anchor="middle" fill="#1b1a1a" transform="rotate(-90 2120.5 230)">References (Cells)</text>
<text x="2120.5" y="812" font-size="28.9" font-weight="bold" text-anchor="middle" fill="#1b1a1a" transform="rotate(-90 2120.5 812)">Observations (Cells)</text>
<text x="2123" y="1597.5" font-size="28.9" font-weight="bold" text-anchor="middle" fill="#1b1a1a" transform="rotate(-90 2123 1597.5)">References (Cells)</text>
<text x="2121.5" y="2192" font-size="28.9" font-weight="bold" text-anchor="middle" fill="#1b1a1a" transform="rotate(-90 2121.5 2192)">Observations (Cells)</text>
<text x="635.6" y="1199.5" font-size="28" font-weight="bold" text-anchor="middle" fill="#1b1a1a">1</text>
<text x="760" y="1201.0" font-size="28" font-weight="bold" text-anchor="middle" fill="#1b1a1a">2</text>
<text x="859.5" y="1199.5" font-size="28" font-weight="bold" text-anchor="middle" fill="#1b1a1a">3</text>
<text x="948.5" y="1201.0" font-size="28" font-weight="bold" text-anchor="middle" fill="#1b1a1a">4</text>
<text x="1046.4" y="1199.5" font-size="28" font-weight="bold" text-anchor="middle" fill="#1b1a1a">5</text>
<text x="1138.5" y="1199.5" font-size="28" font-weight="bold" text-anchor="middle" fill="#1b1a1a">6</text>
<text x="1233.3" y="1201.0" font-size="28" font-weight="bold" text-anchor="middle" fill="#1b1a1a">7</text>
<text x="1316.5" y="1198.0" font-size="28" font-weight="bold" text-anchor="middle" fill="#1b1a1a">8</text>
<text x="1404.5" y="1199.5" font-size="28" font-weight="bold" text-anchor="middle" fill="#1b1a1a">9</text>
<text x="1488.5" y="1199.5" font-size="28" font-weight="bold" text-anchor="middle" fill="#1b1a1a">10</text>
<text x="1590.6" y="1201.0" font-size="28" font-weight="bold" text-anchor="middle" fill="#1b1a1a">11</text>
<text x="1671.7" y="1201.0" font-size="28" font-weight="bold" text-anchor="middle" fill="#1b1a1a">12</text>
<text x="1732.5" y="1199.5" font-size="28" font-weight="bold" text-anchor="middle" fill="#1b1a1a">13</text>
<text x="1787.4" y="1201.0" font-size="28" font-weight="bold" text-anchor="middle" fill="#1b1a1a">14</text>
<text x="1844.2" y="1199.5" font-size="28" font-weight="bold" text-anchor="middle" fill="#1b1a1a">15</text>
<text x="1899" y="1199.5" font-size="28" font-weight="bold" text-anchor="middle" fill="#1b1a1a">16</text>
<text x="1962.3" y="1201.0" font-size="28" font-weight="bold" text-anchor="middle" fill="#1b1a1a">17</text>
<text x="2019" y="1199.5" font-size="28" font-weight="bold" text-anchor="middle" fill="#1b1a1a">18</text>
<text x="2067.7" y="1199.5" font-size="28" font-weight="bold" text-anchor="middle" fill="#1b1a1a">19</text>
<text x="645" y="2569.5" font-size="28" font-weight="bold" text-anchor="middle" fill="#1b1a1a">1</text>
<text x="757.9" y="2569.5" font-size="28" font-weight="bold" text-anchor="middle" fill="#1b1a1a">2</text>
<text x="856.6" y="2569.5" font-size="28" font-weight="bold" text-anchor="middle" fill="#1b1a1a">3</text>
<text x="946.2" y="2569.5" font-size="28" font-weight="bold" text-anchor="middle" fill="#1b1a1a">4</text>
<text x="1043.9" y="2569.5" font-size="28" font-weight="bold" text-anchor="middle" fill="#1b1a1a">5</text>
<text x="1142" y="2569.5" font-size="28" font-weight="bold" text-anchor="middle" fill="#1b1a1a">6</text>
<text x="1232.7" y="2569.5" font-size="28" font-weight="bold" text-anchor="middle" fill="#1b1a1a">7</text>
<text x="1326.7" y="2569.5" font-size="28" font-weight="bold" text-anchor="middle" fill="#1b1a1a">8</text>
<text x="1407.9" y="2569.5" font-size="28" font-weight="bold" text-anchor="middle" fill="#1b1a1a">9</text>
<text x="1489.5" y="2569.5" font-size="28" font-weight="bold" text-anchor="middle" fill="#1b1a1a">10</text>
<text x="1589.1" y="2569.5" font-size="28" font-weight="bold" text-anchor="middle" fill="#1b1a1a">11</text>
<text x="1676.6" y="2569.5" font-size="28" font-weight="bold" text-anchor="middle" fill="#1b1a1a">12</text>
<text x="1735.9" y="2569.5" font-size="28" font-weight="bold" text-anchor="middle" fill="#1b1a1a">13</text>
<text x="1792.2" y="2569.5" font-size="28" font-weight="bold" text-anchor="middle" fill="#1b1a1a">14</text>
<text x="1850.5" y="2569.5" font-size="28" font-weight="bold" text-anchor="middle" fill="#1b1a1a">15</text>
<text x="1901" y="2569.5" font-size="28" font-weight="bold" text-anchor="middle" fill="#1b1a1a">16</text>
<text x="1961.8" y="2569.5" font-size="28" font-weight="bold" text-anchor="middle" fill="#1b1a1a">17</text>
<text x="2020.6" y="2569.5" font-size="28" font-weight="bold" text-anchor="middle" fill="#1b1a1a">18</text>
<text x="2070.2" y="2569.5" font-size="28" font-weight="bold" text-anchor="middle" fill="#1b1a1a">19</text>
<text x="1338.7" y="1230.2" font-size="28.8" font-weight="bold" text-anchor="middle" fill="#1b1a1a">Chromosome</text>
<text x="1336.5" y="2603.2" font-size="28.8" font-weight="bold" text-anchor="middle" fill="#1b1a1a">Chromosome</text>
<rect x="538.8" y="1256.8" width="16.1" height="12.8" fill="#9fe0cf" stroke="#333" stroke-width="1.5"/>
<text x="566" y="1270.3" font-size="26.7" font-weight="bold" text-anchor="start" fill="#1b1a1a">Control (Immune/Microglial cells)</text>
<rect x="538.8" y="1297.2" width="16.1" height="13.6" fill="#9fe0cf" stroke="#333" stroke-width="1.5"/>
<text x="563.6" y="1313" font-size="27.6" font-weight="bold" text-anchor="start" fill="#1b1a1a">GBM</text>
<rect x="653.5" y="1297.2" width="16.1" height="13.6" fill="#cdcddd" stroke="#333" stroke-width="1.5"/>
<text x="683.6" y="1313" font-size="27.6" font-weight="bold" text-anchor="start" fill="#1b1a1a">Y38</text>
<rect x="768.2" y="1297.2" width="16.1" height="13.6" fill="#b1aac3" stroke="#333" stroke-width="1.5"/>
<text x="797.4" y="1313" font-size="27.6" font-weight="bold" text-anchor="start" fill="#1b1a1a">Y55</text>
<rect x="882.0" y="1297.2" width="16.1" height="13.6" fill="#d4d474" stroke="#333" stroke-width="1.5"/>
<text x="908.8" y="1313" font-size="27.6" font-weight="bold" text-anchor="start" fill="#1b1a1a">Y56</text>
<rect x="996.4" y="1297.2" width="16.1" height="13.6" fill="#edd8e6" stroke="#333" stroke-width="1.5"/>
<text x="1025" y="1313" font-size="27.6" font-weight="bold" text-anchor="start" fill="#1b1a1a">ZR0</text>
<rect x="1111.0" y="1297.2" width="16.1" height="13.6" fill="#c39ccc" stroke="#333" stroke-width="1.5"/>
<text x="1142" y="1313" font-size="27.6" font-weight="bold" text-anchor="start" fill="#1b1a1a">ZR1</text>
<rect x="1225.8" y="1297.2" width="16.1" height="13.6" fill="#ecec80" stroke="#333" stroke-width="1.5"/>
<text x="1256.4" y="1313" font-size="27.6" font-weight="bold" text-anchor="start" fill="#1b1a1a">ZR2</text>
<line x1="538.0" y1="1320.0" x2="633.8" y2="1320.0" stroke="#9a9a9a" stroke-width="2.2"/>
<line x1="652.8" y1="1320.0" x2="965.7" y2="1320.0" stroke="#9a9a9a" stroke-width="2.2"/>
<line x1="994.2" y1="1320.0" x2="1308.5" y2="1320.0" stroke="#9a9a9a" stroke-width="2.2"/>
<rect x="506.8" y="2632.8" width="15.2" height="13.2" fill="#9fe0cf" stroke="#333" stroke-width="1.5"/>
<text x="530.3" y="2648.3" font-size="29.2" font-weight="bold" text-anchor="start" fill="#1b1a1a">Control (Immune/Microglial cells)</text>
<text x="507.6" y="2683.5" font-size="29.2" font-weight="bold" text-anchor="start" fill="#1b1a1a">Cluster</text>
<rect x="506.9" y="2698.3" width="16.1" height="12.3" fill="#9fe0cf" stroke="#333" stroke-width="1.5"/>
<text x="532.8" y="2712.2" font-size="28.8" font-weight="bold" text-anchor="start" fill="#1b1a1a">C1</text>
<rect x="581.4" y="2698.3" width="16.1" height="12.3" fill="#e8ecca" stroke="#333" stroke-width="1.5"/>
<text x="605.8" y="2712.2" font-size="28.8" font-weight="bold" text-anchor="start" fill="#1b1a1a">C12</text>
<rect x="672.0" y="2698.3" width="16.1" height="12.3" fill="#e7918d" stroke="#333" stroke-width="1.5"/>
<text x="697.5" y="2712.2" font-size="28.8" font-weight="bold" text-anchor="start" fill="#1b1a1a">C14</text>
<rect x="765.1" y="2698.3" width="16.1" height="12.3" fill="#98bdd1" stroke="#333" stroke-width="1.5"/>
<text x="791.1" y="2712.2" font-size="28.8" font-weight="bold" text-anchor="start" fill="#1b1a1a">C19</text>
<rect x="854.2" y="2698.3" width="16.1" height="12.3" fill="#d4d474" stroke="#333" stroke-width="1.5"/>
<text x="880.2" y="2712.2" font-size="28.8" font-weight="bold" text-anchor="start" fill="#1b1a1a">C2</text>
<rect x="932.4" y="2698.3" width="16.1" height="12.3" fill="#f0d9e2" stroke="#333" stroke-width="1.5"/>
<text x="957.3" y="2712.2" font-size="28.8" font-weight="bold" text-anchor="start" fill="#1b1a1a">C23</text>
<rect x="1023.5" y="2698.3" width="16.1" height="12.3" fill="#d9d1e4" stroke="#333" stroke-width="1.5"/>
<text x="1048.9" y="2712.2" font-size="28.8" font-weight="bold" text-anchor="start" fill="#1b1a1a">C3</text>
<rect x="1097.5" y="2698.3" width="16.1" height="12.3" fill="#c9c9c9" stroke="#333" stroke-width="1.5"/>
<text x="1121.9" y="2712.2" font-size="28.8" font-weight="bold" text-anchor="start" fill="#1b1a1a">C5</text>
<rect x="1171.5" y="2698.3" width="16.1" height="12.3" fill="#ecec80" stroke="#333" stroke-width="1.5"/>
<text x="1193.9" y="2712.2" font-size="28.8" font-weight="bold" text-anchor="start" fill="#1b1a1a">C6</text>
<rect x="507.2" y="1840.4" width="30.2" height="70.0" fill="#ecec80"/>
<rect x="548.8" y="1840.4" width="28.9" height="70.0" fill="#ecec80"/>
<rect x="507.2" y="1910.4" width="30.2" height="67.2" fill="#c9c9c9"/>
<rect x="548.8" y="1910.4" width="28.9" height="67.2" fill="#c9c9c9"/>
<rect x="507.2" y="1977.6" width="30.2" height="94.6" fill="#d9d1e4"/>
<rect x="548.8" y="1977.6" width="28.9" height="94.6" fill="#d9d1e4"/>
<rect x="507.2" y="2072.2" width="30.2" height="15.1" fill="#f0d9e2"/>
<rect x="548.8" y="2072.2" width="28.9" height="15.1" fill="#f0d9e2"/>
<rect x="507.2" y="2087.3" width="30.2" height="118.6" fill="#d4d474"/>
<rect x="548.8" y="2087.3" width="28.9" height="118.6" fill="#d4d474"/>
<rect x="507.2" y="2205.9" width="30.2" height="29.7" fill="#98bdd1"/>
<rect x="548.8" y="2205.9" width="28.9" height="29.7" fill="#98bdd1"/>
<rect x="507.2" y="2235.6" width="30.2" height="46.6" fill="#e7918d"/>
<rect x="548.8" y="2235.6" width="28.9" height="46.6" fill="#e7918d"/>
<rect x="507.2" y="2282.2" width="30.2" height="55.4" fill="#e8ecca"/>
<rect x="548.8" y="2282.2" width="28.9" height="55.4" fill="#e8ecca"/>
<rect x="507.2" y="2337.6" width="30.2" height="206.4" fill="#9fe0cf"/>
<rect x="548.8" y="2337.6" width="28.9" height="206.4" fill="#9fe0cf"/>
<rect x="469" y="1840.4" width="28.6" height="703.6" fill="#000"/>
<path d="M208.9 1876.4V2497.0M208.9 1876.4H249.7M249.7 1852.5V1902.6M249.7 1852.5H258.5M258.5 1841.2V1862.6M258.5 1841.2H440.0M456.5 1840.9H497.6M458.6 1842.2H497.6M440.0 1840.9H456.5M440.0 1842.2H458.6M440.0 1840.9V1842.2M258.5 1862.6H371.8M371.8 1849.2V1877.0M371.8 1849.2H391.4M465.8 1843.6H497.6M468.6 1844.5H497.6M463.7 1843.6H465.8M463.7 1844.5H468.6M463.7 1843.6V1844.5M466.6 1845.2H497.6M466.8 1846.2H497.6M460.6 1845.2H466.6M460.6 1846.2H466.8M460.6 1845.2V1846.2M452.2 1844.1H463.7M452.2 1845.7H460.6M452.2 1844.1V1845.7M437.2 1847.2H497.6M450.7 1848.2H497.6M442.4 1849.1H497.6M438.1 1848.2H450.7M438.1 1849.1H442.4M438.1 1848.2V1849.1M431.5 1847.2H437.2M431.5 1848.6H438.1M431.5 1847.2V1848.6M427.4 1844.9H452.2M427.4 1847.9H431.5M427.4 1844.9V1847.9M440.4 1850.1H497.6M456.2 1851.3H497.6M467.6 1852.4H497.6M472.8 1853.2H497.6M464.2 1852.4H467.6M464.2 1853.2H472.8M464.2 1852.4V1853.2M452.3 1851.3H456.2M452.3 1852.8H464.2M452.3 1851.3V1852.8M438.3 1850.1H440.4M438.3 1852.0H452.3M438.3 1850.1V1852.0M458.1 1854.1H497.6M452.7 1855.4H497.6M448.7 1854.1H458.1M448.7 1855.4H452.7M448.7 1854.1V1855.4M432.0 1851.1H438.3M432.0 1854.8H448.7M432.0 1851.1V1854.8M391.4 1846.4H427.4M391.4 1852.9H432.0M391.4 1846.4V1852.9M371.8 1877.0H407.8M468.5 1856.9H497.6M470.7 1859.8H497.6M465.1 1856.9H468.5M465.1 1859.8H470.7M465.1 1856.9V1859.8M473.8 1862.8H497.6M470.1 1866.4H497.6M464.8 1862.8H473.8M464.8 1866.4H470.1M464.8 1862.8V1866.4M461.3 1858.4H465.1M461.3 1864.6H464.8M461.3 1858.4V1864.6M466.3 1869.4H497.6M468.2 1870.7H497.6M461.0 1869.4H466.3M461.0 1870.7H468.2M461.0 1869.4V1870.7M467.8 1871.9H497.6M467.8 1873.1H497.6M460.4 1874.3H497.6M458.9 1873.1H467.8M458.9 1874.3H460.4M458.9 1873.1V1874.3M457.3 1871.9H467.8M457.3 1873.7H458.9M457.3 1871.9V1873.7M450.4 1870.0H461.0M450.4 1872.8H457.3M450.4 1870.0V1872.8M442.1 1861.5H461.3M442.1 1871.4H450.4M442.1 1861.5V1871.4M464.5 1875.4H497.6M458.3 1876.3H497.6M453.3 1875.4H464.5M453.3 1876.3H458.3M453.3 1875.4V1876.3M459.5 1877.0H497.6M449.4 1875.8H453.3M449.4 1877.0H459.5M449.4 1875.8V1877.0M469.3 1877.9H497.6M469.7 1879.2H497.6M461.9 1877.9H469.3M461.9 1879.2H469.7M461.9 1877.9V1879.2M470.6 1880.5H497.6M472.5 1881.6H497.6M467.1 1880.5H470.6M467.1 1881.6H472.5M467.1 1880.5V1881.6M473.8 1882.9H497.6M465.7 1881.0H467.1M465.7 1882.9H473.8M465.7 1881.0V1882.9M451.7 1878.5H461.9M451.7 1882.0H465.7M451.7 1878.5V1882.0M446.0 1876.4H449.4M446.0 1880.3H451.7M446.0 1876.4V1880.3M462.2 1883.9H497.6M462.8 1884.8H497.6M460.2 1883.9H462.2M460.2 1884.8H462.8M460.2 1883.9V1884.8M470.2 1885.9H497.6M463.0 1886.8H497.6M460.3 1885.9H470.2M460.3 1886.8H463.0M460.3 1885.9V1886.8M455.7 1884.3H460.2M455.7 1886.4H460.3M455.7 1884.3V1886.4M471.4 1887.5H497.6M467.7 1888.4H497.6M462.1 1887.5H471.4M462.1 1888.4H467.7M462.1 1887.5V1888.4M450.4 1885.4H455.7M450.4 1887.9H462.1M450.4 1885.4V1887.9M435.4 1878.3H446.0M435.4 1886.6H450.4M435.4 1878.3V1886.6M407.8 1866.4H442.1M407.8 1882.5H435.4M407.8 1866.4V1882.5M249.7 1902.6H399.0M456.4 1889.5H497.6M467.9 1890.3H497.6M469.8 1891.4H497.6M460.3 1890.3H467.9M460.3 1891.4H469.8M460.3 1890.3V1891.4M449.2 1889.5H456.4M449.2 1890.8H460.3M449.2 1889.5V1890.8M471.2 1893.0H497.6M465.9 1894.7H497.6M463.9 1893.0H471.2M463.9 1894.7H465.9M463.9 1893.0V1894.7M445.6 1890.2H449.2M445.6 1893.8H463.9M445.6 1890.2V1893.8M448.5 1896.0H497.6M455.7 1897.3H497.6M440.5 1896.0H448.5M440.5 1897.3H455.7M440.5 1896.0V1897.3M469.8 1898.6H497.6M467.8 1899.5H497.6M462.7 1898.6H469.8M462.7 1899.5H467.8M462.7 1898.6V1899.5M457.0 1900.5H497.6M450.4 1899.1H462.7M450.4 1900.5H457.0M450.4 1899.1V1900.5M436.2 1896.7H440.5M436.2 1899.8H450.4M436.2 1896.7V1899.8M420.9 1892.0H445.6M420.9 1898.2H436.2M420.9 1892.0V1898.2M455.8 1901.5H497.6M454.0 1902.4H497.6M448.4 1901.5H455.8M448.4 1902.4H454.0M448.4 1901.5V1902.4M452.8 1903.1H497.6M458.7 1904.1H497.6M448.0 1903.1H452.8M448.0 1904.1H458.7M448.0 1903.1V1904.1M430.9 1901.9H448.4M430.9 1903.6H448.0M430.9 1901.9V1903.6M451.6 1905.4H497.6M455.7 1906.4H497.6M445.3 1905.4H451.6M445.3 1906.4H455.7M445.3 1905.4V1906.4M444.9 1907.5H497.6M432.6 1905.9H445.3M432.6 1907.5H444.9M432.6 1905.9V1907.5M448.4 1908.5H497.6M452.2 1909.5H497.6M439.9 1908.5H448.4M439.9 1909.5H452.2M439.9 1908.5V1909.5M423.9 1906.7H432.6M423.9 1909.0H439.9M423.9 1906.7V1909.0M415.9 1902.8H430.9M415.9 1907.9H423.9M415.9 1902.8V1907.9M399.0 1895.1H420.9M399.0 1905.3H415.9M399.0 1895.1V1905.3M208.9 1953.2H302.0M302.0 1937.4V1969.3M302.0 1937.4H317.1M317.1 1926.8V1948.7M317.1 1926.8H405.3M473.4 1910.5H497.6M470.1 1911.5H497.6M466.5 1910.5H473.4M466.5 1911.5H470.1M466.5 1910.5V1911.5M469.5 1912.6H497.6M461.4 1911.0H466.5M461.4 1912.6H469.5M461.4 1911.0V1912.6M468.8 1915.4H497.6M470.0 1919.1H497.6M456.8 1915.4H468.8M456.8 1919.1H470.0M456.8 1915.4V1919.1M450.6 1911.8H461.4M450.6 1917.3H456.8M450.6 1911.8V1917.3M470.0 1921.4H497.6M469.8 1922.6H497.6M460.2 1921.4H470.0M460.2 1922.6H469.8M460.2 1921.4V1922.6M466.4 1923.8H497.6M463.3 1925.2H497.6M460.6 1923.8H466.4M460.6 1925.2H463.3M460.6 1923.8V1925.2M449.1 1922.0H460.2M449.1 1924.5H460.6M449.1 1922.0V1924.5M433.7 1914.5H450.6M433.7 1923.2H449.1M433.7 1914.5V1923.2M470.8 1926.9H497.6M469.2 1929.4H497.6M463.4 1926.9H470.8M463.4 1929.4H469.2M463.4 1926.9V1929.4M468.1 1932.1H497.6M469.7 1934.0H497.6M463.6 1932.1H468.1M463.6 1934.0H469.7M463.6 1932.1V1934.0M449.6 1928.1H463.4M449.6 1933.1H463.6M449.6 1928.1V1933.1M452.5 1935.3H497.6M459.3 1936.4H497.6M463.8 1937.5H497.6M455.7 1936.4H459.3M455.7 1937.5H463.8M455.7 1936.4V1937.5M449.0 1935.3H452.5M449.0 1937.0H455.7M449.0 1935.3V1937.0M452.3 1938.5H497.6M457.0 1939.6H497.6M450.2 1938.5H452.3M450.2 1939.6H457.0M450.2 1938.5V1939.6M438.2 1936.2H449.0M438.2 1939.0H450.2M438.2 1936.2V1939.0M422.7 1930.6H449.6M422.7 1937.6H438.2M422.7 1930.6V1937.6M405.3 1918.9H433.7M405.3 1934.1H422.7M405.3 1918.9V1934.1M317.1 1948.7H421.0M446.1 1940.6H497.6M459.5 1941.6H497.6M459.3 1942.6H497.6M451.4 1941.6H459.5M451.4 1942.6H459.3M451.4 1941.6V1942.6M443.7 1940.6H446.1M443.7 1942.1H451.4M443.7 1940.6V1942.1M459.0 1943.7H497.6M460.3 1944.8H497.6M454.7 1943.7H459.0M454.7 1944.8H460.3M454.7 1943.7V1944.8M455.3 1946.0H497.6M458.0 1946.9H497.6M452.2 1948.1H497.6M449.5 1946.9H458.0M449.5 1948.1H452.2M449.5 1946.9V1948.1M442.9 1946.0H455.3M442.9 1947.5H449.5M442.9 1946.0V1947.5M440.9 1944.2H454.7M440.9 1946.7H442.9M440.9 1944.2V1946.7M433.9 1941.3H443.7M433.9 1945.5H440.9M433.9 1941.3V1945.5M467.9 1949.2H497.6M467.6 1950.2H497.6M461.7 1949.2H467.9M461.7 1950.2H467.6M461.7 1949.2V1950.2M458.9 1951.5H497.6M453.6 1949.7H461.7M453.6 1951.5H458.9M453.6 1949.7V1951.5M448.3 1952.8H497.6M440.9 1950.6H453.6M440.9 1952.8H448.3M440.9 1950.6V1952.8M468.7 1954.3H497.6M467.0 1955.2H497.6M467.4 1956.0H497.6M460.9 1955.2H467.0M460.9 1956.0H467.4M460.9 1955.2V1956.0M459.5 1954.3H468.7M459.5 1955.6H460.9M459.5 1954.3V1955.6M455.3 1957.3H497.6M446.3 1954.9H459.5M446.3 1957.3H455.3M446.3 1954.9V1957.3M429.9 1951.7H440.9M429.9 1956.1H446.3M429.9 1951.7V1956.1M421.0 1943.4H433.9M421.0 1953.9H429.9M421.0 1943.4V1953.9M302.0 1969.3H416.6M461.2 1958.6H497.6M460.7 1960.0H497.6M448.6 1958.6H461.2M448.6 1960.0H460.7M448.6 1958.6V1960.0M469.2 1961.3H497.6M468.5 1962.5H497.6M464.9 1961.3H469.2M464.9 1962.5H468.5M464.9 1961.3V1962.5M470.9 1964.1H497.6M461.5 1961.9H464.9M461.5 1964.1H470.9M461.5 1961.9V1964.1M440.2 1959.3H448.6M440.2 1963.0H461.5M440.2 1959.3V1963.0M452.8 1965.7H497.6M458.4 1967.0H497.6M449.8 1965.7H452.8M449.8 1967.0H458.4M449.8 1965.7V1967.0M447.2 1968.2H497.6M441.5 1966.3H449.8M441.5 1968.2H447.2M441.5 1966.3V1968.2M428.1 1961.2H440.2M428.1 1967.3H441.5M428.1 1961.2V1967.3M462.2 1969.4H497.6M464.1 1970.3H497.6M463.1 1971.2H497.6M460.5 1970.3H464.1M460.5 1971.2H463.1M460.5 1970.3V1971.2M450.3 1969.4H462.2M450.3 1970.8H460.5M450.3 1969.4V1970.8M460.5 1972.3H497.6M463.5 1973.2H497.6M456.2 1972.3H460.5M456.2 1973.2H463.5M456.2 1972.3V1973.2M448.4 1970.1H450.3M448.4 1972.7H456.2M448.4 1970.1V1972.7M467.1 1974.2H497.6M471.9 1975.4H497.6M465.1 1974.2H467.1M465.1 1975.4H471.9M465.1 1974.2V1975.4M469.9 1976.5H497.6M468.4 1977.7H497.6M464.7 1976.5H469.9M464.7 1977.7H468.4M464.7 1976.5V1977.7M457.7 1974.8H465.1M457.7 1977.1H464.7M457.7 1974.8V1977.1M440.0 1971.4H448.4M440.0 1975.9H457.7M440.0 1971.4V1975.9M416.6 1964.2H428.1M416.6 1973.7H440.0M416.6 1964.2V1973.7M208.9 2036.8H335.5M335.5 2000.3V2072.0M335.5 2000.3H362.0M362.0 1980.2V2022.2M362.0 1980.2H420.0M442.1 1978.9H497.6M447.7 1979.9H497.6M434.7 1978.9H442.1M434.7 1979.9H447.7M434.7 1978.9V1979.9M442.6 1980.9H497.6M445.5 1982.0H497.6M440.1 1980.9H442.6M440.1 1982.0H445.5M440.1 1980.9V1982.0M420.0 1979.4H434.7M420.0 1981.5H440.1M420.0 1979.4V1981.5M362.0 2022.2H385.1M385.1 1990.0V2059.5M385.1 1990.0H400.0M469.9 1983.5H497.6M470.6 1985.0H497.6M467.5 1983.5H469.9M467.5 1985.0H470.6M467.5 1983.5V1985.0M467.5 1986.3H497.6M463.2 1984.2H467.5M463.2 1986.3H467.5M463.2 1984.2V1986.3M467.5 1987.6H497.6M466.3 1988.6H497.6M462.7 1987.6H467.5M462.7 1988.6H466.3M462.7 1987.6V1988.6M469.3 1989.7H497.6M460.9 1988.1H462.7M460.9 1989.7H469.3M460.9 1988.1V1989.7M451.2 1985.2H463.2M451.2 1988.9H460.9M451.2 1985.2V1988.9M470.0 1991.0H497.6M469.6 1992.5H497.6M464.7 1991.0H470.0M464.7 1992.5H469.6M464.7 1991.0V1992.5M459.8 1993.7H497.6M463.9 1994.7H497.6M457.0 1993.7H459.8M457.0 1994.7H463.9M457.0 1993.7V1994.7M454.0 1991.8H464.7M454.0 1994.2H457.0M454.0 1991.8V1994.2M440.2 1987.1H451.2M440.2 1993.0H454.0M440.2 1987.1V1993.0M456.8 1995.6H497.6M467.3 1996.6H497.6M461.6 1997.5H497.6M459.9 1996.6H467.3M459.9 1997.5H461.6M459.9 1996.6V1997.5M446.5 1995.6H456.8M446.5 1997.1H459.9M446.5 1995.6V1997.1M444.6 1998.6H497.6M432.3 1996.3H446.5M432.3 1998.6H444.6M432.3 1996.3V1998.6M441.3 2000.2H497.6M447.4 2001.4H497.6M436.0 2000.2H441.3M436.0 2001.4H447.4M436.0 2000.2V2001.4M427.2 1997.5H432.3M427.2 2000.8H436.0M427.2 1997.5V2000.8M423.1 1990.0H440.2M423.1 1999.1H427.2M423.1 1990.0V1999.1M469.4 2008.0H497.6M469.3 2015.3H497.6M469.2 2017.8H497.6M467.7 2015.3H469.3M467.7 2017.8H469.2M467.7 2015.3V2017.8M468.4 2021.3H497.6M465.7 2016.6H467.7M465.7 2021.3H468.4M465.7 2016.6V2021.3M472.8 2025.5H497.6M474.3 2029.4H497.6M462.4 2025.5H472.8M462.4 2029.4H474.3M462.4 2025.5V2029.4M458.3 2018.9H465.7M458.3 2027.5H462.4M458.3 2018.9V2027.5M454.0 2008.0H469.4M454.0 2023.2H458.3M454.0 2008.0V2023.2M461.4 2031.8H497.6M467.0 2033.1H497.6M459.6 2031.8H461.4M459.6 2033.1H467.0M459.6 2031.8V2033.1M470.3 2034.3H497.6M469.3 2035.4H497.6M464.2 2034.3H470.3M464.2 2035.4H469.3M464.2 2034.3V2035.4M453.0 2032.5H459.6M453.0 2034.8H464.2M453.0 2032.5V2034.8M472.2 2036.8H497.6M469.6 2038.0H497.6M467.6 2036.8H472.2M467.6 2038.0H469.6M467.6 2036.8V2038.0M469.0 2039.2H497.6M471.8 2040.9H497.6M465.1 2039.2H469.0M465.1 2040.9H471.8M465.1 2039.2V2040.9M461.8 2037.4H467.6M461.8 2040.1H465.1M461.8 2037.4V2040.1M469.7 2042.6H497.6M469.3 2044.1H497.6M462.8 2042.6H469.7M462.8 2044.1H469.3M462.8 2042.6V2044.1M450.9 2038.7H461.8M450.9 2043.3H462.8M450.9 2038.7V2043.3M442.4 2033.7H453.0M442.4 2041.0H450.9M442.4 2033.7V2041.0M436.6 2015.6H454.0M436.6 2037.3H442.4M436.6 2015.6V2037.3M400.0 1994.6H423.1M400.0 2026.5H436.6M400.0 1990.0V2026.5M385.1 2059.5H394.4M448.8 2045.4H497.6M437.7 2046.3H497.6M435.1 2045.4H448.8M435.1 2046.3H437.7M435.1 2045.4V2046.3M443.7 2047.4H497.6M436.7 2048.2H497.6M430.9 2047.4H443.7M430.9 2048.2H436.7M430.9 2047.4V2048.2M432.5 2049.1H497.6M427.6 2047.8H430.9M427.6 2049.1H432.5M427.6 2047.8V2049.1M415.6 2045.9H435.1M415.6 2048.4H427.6M415.6 2045.9V2048.4M461.2 2050.1H497.6M462.2 2051.1H497.6M457.7 2050.1H461.2M457.7 2051.1H462.2M457.7 2050.1V2051.1M462.5 2052.2H497.6M454.8 2050.6H457.7M454.8 2052.2H462.5M454.8 2050.6V2052.2M463.6 2053.4H497.6M466.6 2054.6H497.6M470.1 2055.6H497.6M461.8 2054.6H466.6M461.8 2055.6H470.1M461.8 2054.6V2055.6M453.6 2053.4H463.6M453.6 2055.1H461.8M453.6 2053.4V2055.1M461.5 2056.7H497.6M461.4 2058.1H497.6M454.1 2056.7H461.5M454.1 2058.1H461.4M454.1 2056.7V2058.1M447.9 2054.2H453.6M447.9 2057.4H454.1M447.9 2054.2V2057.4M429.6 2051.4H454.8M429.6 2055.8H447.9M429.6 2051.4V2055.8M407.4 2047.1H415.6M407.4 2053.6H429.6M407.4 2047.1V2053.6M453.0 2059.5H497.6M456.4 2060.6H497.6M445.3 2059.5H453.0M445.3 2060.6H456.4M445.3 2059.5V2060.6M450.1 2061.8H497.6M463.7 2062.9H497.6M463.8 2063.8H497.6M461.1 2062.9H463.7M461.1 2063.8H463.8M461.1 2062.9V2063.8M461.5 2065.3H497.6M455.5 2063.3H461.1M455.5 2065.3H461.5M455.5 2063.3V2065.3M442.2 2061.8H450.1M442.2 2064.3H455.5M442.2 2061.8V2064.3M438.4 2060.1H445.3M438.4 2063.0H442.2M438.4 2060.1V2063.0M445.0 2066.5H497.6M445.3 2067.6H497.6M439.5 2066.5H445.0M439.5 2067.6H445.3M439.5 2066.5V2067.6M452.2 2068.8H497.6M453.6 2069.7H497.6M463.1 2070.6H497.6M451.6 2069.7H453.6M451.6 2070.6H463.1M451.6 2069.7V2070.6M447.1 2068.8H452.2M447.1 2070.1H451.6M447.1 2068.8V2070.1M431.3 2067.0H439.5M431.3 2069.5H447.1M431.3 2067.0V2069.5M425.4 2061.6H438.4M425.4 2068.2H431.3M425.4 2061.6V2068.2M394.4 2050.4H407.4M394.4 2064.9H425.4M394.4 2050.4V2064.9M335.5 2072.0H396.4M417.7 2071.6H497.6M446.9 2072.8H497.6M444.0 2073.6H497.6M435.0 2072.8H446.9M435.0 2073.6H444.0M435.0 2072.8V2073.6M396.4 2071.6H417.7M396.4 2073.2H435.0M396.4 2071.6V2073.2M208.9 2080.9H400.2M454.3 2074.4H497.6M464.3 2075.1H497.6M457.9 2075.9H497.6M452.6 2075.1H464.3M452.6 2075.9H457.9M452.6 2075.1V2075.9M450.1 2074.4H454.3M450.1 2075.5H452.6M450.1 2074.4V2075.5M457.2 2076.7H497.6M455.2 2077.5H497.6M450.5 2076.7H457.2M450.5 2077.5H455.2M450.5 2076.7V2077.5M446.3 2074.9H450.1M446.3 2077.1H450.5M446.3 2074.9V2077.1M469.3 2078.3H497.6M471.5 2079.2H497.6M462.7 2078.3H469.3M462.7 2079.2H471.5M462.7 2078.3V2079.2M457.1 2080.3H497.6M453.9 2078.7H462.7M453.9 2080.3H457.1M453.9 2078.7V2080.3M437.6 2076.0H446.3M437.6 2079.5H453.9M437.6 2076.0V2079.5M432.9 2081.5H497.6M446.6 2082.8H497.6M452.8 2084.2H497.6M444.2 2082.8H446.6M444.2 2084.2H452.8M444.2 2082.8V2084.2M429.6 2081.5H432.9M429.6 2083.5H444.2M429.6 2081.5V2083.5M455.2 2085.3H497.6M463.7 2086.3H497.6M452.9 2085.3H455.2M452.9 2086.3H463.7M452.9 2085.3V2086.3M450.8 2087.5H497.6M444.7 2085.8H452.9M444.7 2087.5H450.8M444.7 2085.8V2087.5M413.4 2082.5H429.6M413.4 2086.7H444.7M413.4 2082.5V2086.7M400.2 2077.8H437.6M400.2 2084.6H413.4M400.2 2077.8V2084.6M208.9 2155.1H250.4M250.4 2124.9V2185.8M250.4 2124.9H333.0M333.0 2104.8V2144.3M333.0 2104.8H358.2M358.2 2089.2V2121.1M358.2 2089.2H441.8M455.6 2088.8H497.6M466.2 2090.0H497.6M466.3 2090.7H497.6M467.8 2091.6H497.6M464.7 2090.7H466.3M464.7 2091.6H467.8M464.7 2090.7V2091.6M463.0 2090.0H466.2M463.0 2091.2H464.7M463.0 2090.0V2091.2M441.8 2088.8H455.6M441.8 2090.6H463.0M441.8 2088.8V2090.6M358.2 2121.1H414.0M452.5 2092.8H497.6M455.0 2094.3H497.6M449.9 2092.8H452.5M449.9 2094.3H455.0M449.9 2092.8V2094.3M465.5 2095.5H497.6M459.3 2096.4H497.6M455.8 2095.5H465.5M455.8 2096.4H459.3M455.8 2095.5V2096.4M466.1 2097.3H497.6M469.5 2098.4H497.6M471.4 2099.6H497.6M465.6 2098.4H469.5M465.6 2099.6H471.4M465.6 2098.4V2099.6M460.1 2097.3H466.1M460.1 2099.0H465.6M460.1 2097.3V2099.0M447.8 2095.9H455.8M447.8 2098.1H460.1M447.8 2095.9V2098.1M436.6 2093.5H449.9M436.6 2097.0H447.8M436.6 2093.5V2097.0M471.1 2105.2H497.6M474.1 2111.9H497.6M470.4 2114.3H497.6M468.9 2116.1H497.6M467.2 2114.3H470.4M467.2 2116.1H468.9M467.2 2114.3V2116.1M462.9 2111.9H474.1M462.9 2115.2H467.2M462.9 2111.9V2115.2M456.7 2105.2H471.1M456.7 2113.6H462.9M456.7 2105.2V2113.6M432.6 2095.3H436.6M432.6 2109.4H456.7M432.6 2095.3V2109.4M460.9 2117.9H497.6M464.1 2119.1H497.6M469.3 2120.3H497.6M462.4 2119.1H464.1M462.4 2120.3H469.3M462.4 2119.1V2120.3M455.2 2117.9H460.9M455.2 2119.7H462.4M455.2 2117.9V2119.7M464.4 2121.6H497.6M467.0 2122.7H497.6M462.3 2121.6H464.4M462.3 2122.7H467.0M462.3 2121.6V2122.7M470.6 2124.3H497.6M469.0 2126.7H497.6M463.5 2124.3H470.6M463.5 2126.7H469.0M463.5 2124.3V2126.7M457.7 2122.2H462.3M457.7 2125.5H463.5M457.7 2122.2V2125.5M451.7 2118.8H455.2M451.7 2123.8H457.7M451.7 2118.8V2123.8M470.6 2128.8H497.6M468.7 2130.0H497.6M461.4 2128.8H470.6M461.4 2130.0H468.7M461.4 2128.8V2130.0M468.2 2131.1H497.6M472.3 2132.2H497.6M465.0 2131.1H468.2M465.0 2132.2H472.3M465.0 2131.1V2132.2M455.6 2129.4H461.4M455.6 2131.7H465.0M455.6 2129.4V2131.7M460.2 2133.2H497.6M459.6 2134.4H497.6M457.6 2133.2H460.2M457.6 2134.4H459.6M457.6 2133.2V2134.4M440.4 2130.5H455.6M440.4 2133.8H457.6M440.4 2130.5V2133.8M430.0 2121.3H451.7M430.0 2132.1H440.4M430.0 2121.3V2132.1M414.0 2102.3H432.6M414.0 2126.7H430.0M414.0 2102.3V2126.7M333.0 2144.3H360.0M426.0 2135.6H497.6M453.9 2136.5H497.6M453.2 2137.4H497.6M447.2 2136.5H453.9M447.2 2137.4H453.2M447.2 2136.5V2137.4M441.9 2138.3H497.6M430.0 2136.9H447.2M430.0 2138.3H441.9M430.0 2136.9V2138.3M421.0 2135.6H426.0M421.0 2137.6H430.0M421.0 2135.6V2137.6M407.1 2139.3H497.6M419.5 2140.5H497.6M403.5 2139.3H407.1M403.5 2140.5H419.5M403.5 2139.3V2140.5M397.6 2136.6H421.0M397.6 2139.9H403.5M397.6 2136.6V2139.9M417.5 2142.0H497.6M428.3 2143.5H497.6M411.1 2142.0H417.5M411.1 2143.5H428.3M411.1 2142.0V2143.5M421.0 2144.6H497.6M417.6 2145.4H497.6M395.2 2144.6H421.0M395.2 2145.4H417.6M395.2 2144.6V2145.4M389.0 2142.7H411.1M389.0 2145.0H395.2M389.0 2142.7V2145.0M380.8 2138.3H397.6M380.8 2143.9H389.0M380.8 2138.3V2143.9M435.8 2146.6H497.6M428.1 2147.8H497.6M415.0 2146.6H435.8M415.0 2147.8H428.1M415.0 2146.6V2147.8M438.4 2148.8H497.6M432.6 2149.7H497.6M429.4 2148.8H438.4M429.4 2149.7H432.6M429.4 2148.8V2149.7M420.0 2150.4H497.6M415.2 2149.2H429.4M415.2 2150.4H420.0M415.2 2149.2V2150.4M402.1 2147.2H415.0M402.1 2149.8H415.2M402.1 2147.2V2149.8M456.8 2151.4H497.6M460.9 2152.5H497.6M464.6 2153.5H497.6M456.0 2152.5H460.9M456.0 2153.5H464.6M456.0 2152.5V2153.5M452.3 2151.4H456.8M452.3 2153.0H456.0M452.3 2151.4V2153.0M447.7 2154.6H497.6M458.1 2155.9H497.6M458.2 2156.9H497.6M446.4 2155.9H458.1M446.4 2156.9H458.2M446.4 2155.9V2156.9M441.2 2154.6H447.7M441.2 2156.4H446.4M441.2 2154.6V2156.4M428.8 2152.2H452.3M428.8 2155.5H441.2M428.8 2152.2V2155.5M449.1 2157.9H497.6M445.8 2159.4H497.6M442.0 2157.9H449.1M442.0 2159.4H445.8M442.0 2157.9V2159.4M424.4 2153.8H428.8M424.4 2158.6H442.0M424.4 2153.8V2158.6M384.6 2148.5H402.1M384.6 2156.2H424.4M384.6 2148.5V2156.2M360.0 2141.1H380.8M360.0 2152.4H384.6M360.0 2141.1V2152.4M250.4 2185.8H372.5M372.5 2175.2V2194.0M372.5 2175.2H396.4M457.9 2160.8H497.6M461.6 2162.1H497.6M453.0 2160.8H457.9M453.0 2162.1H461.6M453.0 2160.8V2162.1M453.2 2163.1H497.6M455.4 2164.0H497.6M443.5 2163.1H453.2M443.5 2164.0H455.4M443.5 2163.1V2164.0M438.7 2161.4H453.0M438.7 2163.6H443.5M438.7 2161.4V2163.6M447.0 2164.9H497.6M450.5 2166.0H497.6M444.9 2164.9H447.0M444.9 2166.0H450.5M444.9 2164.9V2166.0M454.8 2167.1H497.6M457.4 2168.1H497.6M447.6 2167.1H454.8M447.6 2168.1H457.4M447.6 2167.1V2168.1M440.4 2165.4H444.9M440.4 2167.6H447.6M440.4 2165.4V2167.6M469.6 2169.4H497.6M469.4 2170.6H497.6M462.8 2169.4H469.6M462.8 2170.6H469.4M462.8 2169.4V2170.6M469.0 2171.8H497.6M465.3 2173.2H497.6M461.0 2171.8H469.0M461.0 2173.2H465.3M461.0 2171.8V2173.2M450.4 2170.0H462.8M450.4 2172.5H461.0M450.4 2170.0V2172.5M437.2 2166.5H440.4M437.2 2171.3H450.4M437.2 2166.5V2171.3M431.8 2162.5H438.7M431.8 2168.9H437.2M431.8 2162.5V2168.9M454.1 2174.4H497.6M456.2 2175.6H497.6M445.2 2174.4H454.1M445.2 2175.6H456.2M445.2 2174.4V2175.6M460.2 2176.8H497.6M453.3 2177.8H497.6M450.9 2176.8H460.2M450.9 2177.8H453.3M450.9 2176.8V2177.8M458.4 2179.1H497.6M445.3 2177.3H450.9M445.3 2179.1H458.4M445.3 2177.3V2179.1M442.3 2175.0H445.2M442.3 2178.2H445.3M442.3 2175.0V2178.2M465.7 2180.5H497.6M462.1 2181.5H497.6M458.9 2180.5H465.7M458.9 2181.5H462.1M458.9 2180.5V2181.5M460.6 2182.4H497.6M449.6 2181.0H458.9M449.6 2182.4H460.6M449.6 2181.0V2182.4M464.2 2183.5H497.6M457.5 2184.5H497.6M453.5 2183.5H464.2M453.5 2184.5H457.5M453.5 2183.5V2184.5M438.3 2181.7H449.6M438.3 2184.0H453.5M438.3 2181.7V2184.0M421.4 2176.6H442.3M421.4 2182.8H438.3M421.4 2176.6V2182.8M396.4 2165.7H431.8M396.4 2179.7H421.4M396.4 2165.7V2179.7M372.5 2194.0H425.4M469.7 2185.5H497.6M467.9 2186.4H497.6M463.7 2185.5H469.7M463.7 2186.4H467.9M463.7 2185.5V2186.4M472.2 2187.1H497.6M471.2 2188.5H497.6M466.1 2187.1H472.2M466.1 2188.5H471.2M466.1 2187.1V2188.5M456.0 2186.0H463.7M456.0 2187.8H466.1M456.0 2186.0V2187.8M469.3 2190.1H497.6M469.0 2191.6H497.6M465.9 2190.1H469.3M465.9 2191.6H469.0M465.9 2190.1V2191.6M470.2 2193.7H497.6M461.6 2190.8H465.9M461.6 2193.7H470.2M461.6 2190.8V2193.7M453.7 2186.9H456.0M453.7 2192.2H461.6M453.7 2186.9V2192.2M473.4 2196.5H497.6M472.2 2198.6H497.6M474.0 2200.0H497.6M467.1 2198.6H472.2M467.1 2200.0H474.0M467.1 2198.6V2200.0M462.8 2196.5H473.4M462.8 2199.3H467.1M462.8 2196.5V2199.3M465.6 2201.7H497.6M468.9 2203.4H497.6M459.7 2201.7H465.6M459.7 2203.4H468.9M459.7 2201.7V2203.4M460.4 2204.6H497.6M463.5 2205.5H497.6M456.3 2204.6H460.4M456.3 2205.5H463.5M456.3 2204.6V2205.5M450.0 2202.5H459.7M450.0 2205.0H456.3M450.0 2202.5V2205.0M444.4 2197.9H462.8M444.4 2203.8H450.0M444.4 2197.9V2203.8M425.4 2189.6H453.7M425.4 2200.8H444.4M425.4 2189.6V2200.8M208.9 2232.6H339.8M339.8 2225.5V2235.6M339.8 2225.5H414.0M462.6 2206.7H497.6M463.0 2208.1H497.6M454.7 2206.7H462.6M454.7 2208.1H463.0M454.7 2206.7V2208.1M456.9 2209.4H497.6M461.1 2210.6H497.6M454.8 2209.4H456.9M454.8 2210.6H461.1M454.8 2209.4V2210.6M451.1 2207.4H454.7M451.1 2210.0H454.8M451.1 2207.4V2210.0M472.9 2214.6H497.6M470.7 2219.5H497.6M472.9 2221.5H497.6M464.7 2219.5H470.7M464.7 2221.5H472.9M464.7 2219.5V2221.5M458.6 2214.6H472.9M458.6 2220.5H464.7M458.6 2214.6V2220.5M446.6 2208.7H451.1M446.6 2217.6H458.6M446.6 2208.7V2217.6M452.5 2222.6H497.6M453.1 2223.5H497.6M449.8 2222.6H452.5M449.8 2223.5H453.1M449.8 2222.6V2223.5M453.6 2224.7H497.6M460.7 2225.6H497.6M450.9 2224.7H453.6M450.9 2225.6H460.7M450.9 2224.7V2225.6M446.8 2223.1H449.8M446.8 2225.1H450.9M446.8 2223.1V2225.1M469.9 2227.1H497.6M470.2 2228.9H497.6M460.8 2227.1H469.9M460.8 2228.9H470.2M460.8 2227.1V2228.9M470.2 2230.3H497.6M462.8 2231.5H497.6M460.6 2230.3H470.2M460.6 2231.5H462.8M460.6 2230.3V2231.5M450.2 2228.0H460.8M450.2 2230.9H460.6M450.2 2228.0V2230.9M427.1 2224.1H446.8M427.1 2229.4H450.2M427.1 2224.1V2229.4M414.0 2213.1H446.6M414.0 2226.8H427.1M414.0 2213.1V2226.8M339.8 2235.6H430.0M446.0 2232.6H497.6M457.6 2233.7H497.6M449.9 2234.6H497.6M447.1 2233.7H457.6M447.1 2234.6H449.9M447.1 2233.7V2234.6M438.8 2232.6H446.0M438.8 2234.2H447.1M438.8 2232.6V2234.2M447.6 2235.5H497.6M445.3 2236.5H497.6M438.1 2235.5H447.6M438.1 2236.5H445.3M438.1 2235.5V2236.5M430.0 2233.4H438.8M430.0 2236.0H438.1M430.0 2233.4V2236.0M208.9 2270.3H318.9M318.9 2258.3V2282.2M318.9 2258.3H397.0M469.0 2238.9H497.6M468.3 2241.2H497.6M474.8 2242.1H497.6M471.1 2242.9H497.6M467.3 2242.1H474.8M467.3 2242.9H471.1M467.3 2242.1V2242.9M463.3 2241.2H468.3M463.3 2242.5H467.3M463.3 2241.2V2242.5M457.4 2238.9H469.0M457.4 2241.8H463.3M457.4 2238.9V2241.8M448.0 2243.8H497.6M458.6 2244.9H497.6M455.5 2245.7H497.6M450.7 2244.9H458.6M450.7 2245.7H455.5M450.7 2244.9V2245.7M439.2 2243.8H448.0M439.2 2245.3H450.7M439.2 2243.8V2245.3M434.6 2240.4H457.4M434.6 2244.6H439.2M434.6 2240.4V2244.6M457.8 2246.8H497.6M463.8 2247.9H497.6M468.4 2248.8H497.6M458.0 2247.9H463.8M458.0 2248.8H468.4M458.0 2247.9V2248.8M459.9 2250.2H497.6M455.9 2248.4H458.0M455.9 2250.2H459.9M455.9 2248.4V2250.2M451.7 2246.8H457.8M451.7 2249.3H455.9M451.7 2246.8V2249.3M458.9 2251.4H497.6M470.7 2252.3H497.6M467.6 2253.4H497.6M463.5 2252.3H470.7M463.5 2253.4H467.6M463.5 2252.3V2253.4M453.8 2251.4H458.9M453.8 2252.8H463.5M453.8 2251.4V2252.8M466.6 2254.6H497.6M468.2 2256.1H497.6M463.4 2254.6H466.6M463.4 2256.1H468.2M463.4 2254.6V2256.1M444.3 2252.1H453.8M444.3 2255.3H463.4M444.3 2252.1V2255.3M429.2 2248.1H451.7M429.2 2253.7H444.3M429.2 2248.1V2253.7M410.6 2242.5H434.6M410.6 2250.9H429.2M410.6 2242.5V2250.9M464.0 2257.9H497.6M471.8 2259.2H497.6M470.5 2260.0H497.6M465.6 2259.2H471.8M465.6 2260.0H470.5M465.6 2259.2V2260.0M462.1 2257.9H464.0M462.1 2259.6H465.6M462.1 2257.9V2259.6M457.9 2261.1H497.6M468.1 2262.7H497.6M470.6 2264.4H497.6M461.9 2262.7H468.1M461.9 2264.4H470.6M461.9 2262.7V2264.4M452.2 2261.1H457.9M452.2 2263.5H461.9M452.2 2261.1V2263.5M441.1 2258.8H462.1M441.1 2262.3H452.2M441.1 2258.8V2262.3M467.1 2265.8H497.6M467.9 2266.6H497.6M458.2 2265.8H467.1M458.2 2266.6H467.9M458.2 2265.8V2266.6M467.9 2267.5H497.6M472.5 2268.3H497.6M465.6 2267.5H467.9M465.6 2268.3H472.5M465.6 2267.5V2268.3M472.1 2269.1H497.6M472.3 2270.1H497.6M463.2 2269.1H472.1M463.2 2270.1H472.3M463.2 2269.1V2270.1M454.1 2267.9H465.6M454.1 2269.6H463.2M454.1 2267.9V2269.6M447.5 2266.2H458.2M447.5 2268.8H454.1M447.5 2266.2V2268.8M448.1 2271.1H497.6M453.0 2271.9H497.6M442.6 2271.1H448.1M442.6 2271.9H453.0M442.6 2271.1V2271.9M444.6 2272.8H497.6M454.5 2273.6H497.6M460.3 2274.4H497.6M448.4 2273.6H454.5M448.4 2274.4H460.3M448.4 2273.6V2274.4M440.4 2272.8H444.6M440.4 2274.0H448.4M440.4 2272.8V2274.0M434.2 2271.5H442.6M434.2 2273.4H440.4M434.2 2271.5V2273.4M430.0 2267.5H447.5M430.0 2272.5H434.2M430.0 2267.5V2272.5M425.1 2260.5H441.1M425.1 2270.0H430.0M425.1 2260.5V2270.0M397.0 2246.7H410.6M397.0 2265.3H425.1M397.0 2246.7V2265.3M318.9 2282.2H434.2M468.6 2275.5H497.6M469.3 2276.4H497.6M466.5 2275.5H468.6M466.5 2276.4H469.3M466.5 2275.5V2276.4M475.2 2278.2H497.6M469.0 2280.2H497.6M467.7 2278.2H475.2M467.7 2280.2H469.0M467.7 2278.2V2280.2M457.4 2275.9H466.5M457.4 2279.2H467.7M457.4 2275.9V2279.2M451.4 2281.4H497.6M455.3 2282.6H497.6M459.7 2283.6H497.6M449.4 2282.6H455.3M449.4 2283.6H459.7M449.4 2282.6V2283.6M444.3 2281.4H451.4M444.3 2283.1H449.4M444.3 2281.4V2283.1M434.2 2277.5H457.4M434.2 2282.3H444.3M434.2 2277.5V2282.3M208.9 2313.1H373.3M373.3 2301.0V2324.5M373.3 2301.0H430.0M471.4 2284.8H497.6M472.2 2286.7H497.6M467.0 2284.8H471.4M467.0 2286.7H472.2M467.0 2284.8V2286.7M472.6 2288.7H497.6M473.8 2291.1H497.6M467.8 2288.7H472.6M467.8 2291.1H473.8M467.8 2288.7V2291.1M471.5 2293.6H497.6M463.3 2289.9H467.8M463.3 2293.6H471.5M463.3 2289.9V2293.6M456.1 2285.7H467.0M456.1 2291.7H463.3M456.1 2285.7V2291.7M461.9 2295.0H497.6M458.2 2295.8H497.6M452.2 2295.0H461.9M452.2 2295.8H458.2M452.2 2295.0V2295.8M462.5 2297.2H497.6M464.3 2298.7H497.6M455.0 2297.2H462.5M455.0 2298.7H464.3M455.0 2297.2V2298.7M444.4 2295.4H452.2M444.4 2297.9H455.0M444.4 2295.4V2297.9M439.8 2288.7H456.1M439.8 2296.7H444.4M439.8 2288.7V2296.7M467.5 2299.9H497.6M469.2 2300.8H497.6M462.6 2299.9H467.5M462.6 2300.8H469.2M462.6 2299.9V2300.8M464.3 2302.1H497.6M465.6 2303.2H497.6M459.7 2302.1H464.3M459.7 2303.2H465.6M459.7 2302.1V2303.2M458.1 2300.3H462.6M458.1 2302.6H459.7M458.1 2300.3V2302.6M470.5 2305.3H497.6M469.6 2307.7H497.6M467.4 2305.3H470.5M467.4 2307.7H469.6M467.4 2305.3V2307.7M469.2 2309.7H497.6M471.7 2311.4H497.6M467.6 2309.7H469.2M467.6 2311.4H471.7M467.6 2309.7V2311.4M450.4 2306.5H467.4M450.4 2310.5H467.6M450.4 2306.5V2310.5M447.3 2301.5H458.1M447.3 2308.5H450.4M447.3 2301.5V2308.5M430.0 2292.7H439.8M430.0 2305.0H447.3M430.0 2292.7V2305.0M373.3 2324.5H445.0M474.6 2314.9H497.6M477.0 2319.6H497.6M470.1 2323.1H497.6M467.2 2319.6H477.0M467.2 2323.1H470.1M467.2 2319.6V2323.1M461.9 2314.9H474.6M461.9 2321.4H467.2M461.9 2314.9V2321.4M471.2 2325.9H497.6M468.4 2328.8H497.6M466.9 2325.9H471.2M466.9 2328.8H468.4M466.9 2325.9V2328.8M472.7 2331.8H497.6M470.7 2335.5H497.6M467.8 2331.8H472.7M467.8 2335.5H470.7M467.8 2331.8V2335.5M458.6 2327.3H466.9M458.6 2333.7H467.8M458.6 2327.3V2333.7M445.0 2318.1H461.9M445.0 2330.5H458.6M445.0 2318.1V2330.5M208.9 2497.0H235.3M235.3 2447.8V2543.2M235.3 2447.8H306.3M306.3 2375.3V2521.3M306.3 2375.3H369.3M369.3 2342.6V2407.3M369.3 2342.6H385.1M456.0 2338.4H497.6M453.5 2339.2H497.6M443.8 2338.4H456.0M443.8 2339.2H453.5M443.8 2338.4V2339.2M453.0 2340.3H497.6M448.1 2341.6H497.6M443.1 2340.3H453.0M443.1 2341.6H448.1M443.1 2340.3V2341.6M429.0 2338.8H443.8M429.0 2341.0H443.1M429.0 2338.8V2341.0M427.2 2343.0H497.6M423.9 2344.5H497.6M423.2 2345.6H497.6M417.8 2344.5H423.9M417.8 2345.6H423.2M417.8 2344.5V2345.6M405.2 2343.0H427.2M405.2 2345.1H417.8M405.2 2343.0V2345.1M385.1 2339.9H429.0M385.1 2344.1H405.2M385.1 2339.9V2344.1M369.3 2407.3H386.4M386.4 2382.9V2432.0M386.4 2382.9H431.7M470.6 2347.1H497.6M470.6 2349.0H497.6M464.8 2347.1H470.6M464.8 2349.0H470.6M464.8 2347.1V2349.0M472.4 2351.3H497.6M468.4 2353.7H497.6M468.3 2355.0H497.6M469.8 2356.7H497.6M463.5 2355.0H468.3M463.5 2356.7H469.8M463.5 2355.0V2356.7M461.5 2353.7H468.4M461.5 2355.8H463.5M461.5 2353.7V2355.8M458.0 2351.3H472.4M458.0 2354.7H461.5M458.0 2351.3V2354.7M454.2 2348.0H464.8M454.2 2353.0H458.0M454.2 2348.0V2353.0M471.6 2360.1H497.6M471.5 2363.0H497.6M465.8 2364.2H497.6M463.7 2363.0H471.5M463.7 2364.2H465.8M463.7 2363.0V2364.2M461.0 2360.1H471.6M461.0 2363.6H463.7M461.0 2360.1V2363.6M442.4 2350.5H454.2M442.4 2361.8H461.0M442.4 2350.5V2361.8M469.3 2365.7H497.6M466.9 2367.3H497.6M464.6 2365.7H469.3M464.6 2367.3H466.9M464.6 2365.7V2367.3M467.6 2368.3H497.6M469.6 2369.7H497.6M465.9 2368.3H467.6M465.9 2369.7H469.6M465.9 2368.3V2369.7M474.2 2372.7H497.6M460.8 2369.0H465.9M460.8 2372.7H474.2M460.8 2369.0V2372.7M450.4 2366.5H464.6M450.4 2370.9H460.8M450.4 2366.5V2370.9M462.8 2375.6H497.6M462.5 2376.7H497.6M460.0 2375.6H462.8M460.0 2376.7H462.5M460.0 2375.6V2376.7M469.7 2378.3H497.6M475.1 2380.0H497.6M469.8 2381.2H497.6M467.8 2380.0H475.1M467.8 2381.2H469.8M467.8 2380.0V2381.2M463.0 2378.3H469.7M463.0 2380.6H467.8M463.0 2378.3V2380.6M451.2 2376.1H460.0M451.2 2379.4H463.0M451.2 2376.1V2379.4M443.1 2368.7H450.4M443.1 2377.8H451.2M443.1 2368.7V2377.8M439.3 2356.2H442.4M439.3 2373.2H443.1M439.3 2356.2V2373.2M470.6 2386.2H497.6M471.9 2393.0H497.6M462.4 2386.2H470.6M462.4 2393.0H471.9M462.4 2386.2V2393.0M473.7 2399.9H497.6M474.3 2409.7H497.6M463.1 2399.9H473.7M463.1 2409.7H474.3M463.1 2399.9V2409.7M452.9 2389.6H462.4M452.9 2404.8H463.1M452.9 2389.6V2404.8M431.7 2364.7H439.3M431.7 2397.2H452.9M431.7 2364.7V2397.2M386.4 2432.0H441.8M469.6 2416.4H497.6M469.8 2419.7H497.6M459.9 2416.4H469.6M459.9 2419.7H469.8M459.9 2416.4V2419.7M470.5 2425.0H497.6M476.9 2429.9H497.6M467.9 2425.0H470.5M467.9 2429.9H476.9M467.9 2425.0V2429.9M452.3 2418.0H459.9M452.3 2427.5H467.9M452.3 2418.0V2427.5M468.2 2433.0H497.6M470.1 2435.1H497.6M464.0 2433.0H468.2M464.0 2435.1H470.1M464.0 2433.0V2435.1M460.1 2436.5H497.6M461.6 2437.7H497.6M456.2 2436.5H460.1M456.2 2437.7H461.6M456.2 2436.5V2437.7M453.3 2434.1H464.0M453.3 2437.1H456.2M453.3 2434.1V2437.1M468.9 2439.3H497.6M472.4 2441.2H497.6M464.6 2439.3H468.9M464.6 2441.2H472.4M464.6 2439.3V2441.2M474.2 2442.6H497.6M475.0 2443.4H497.6M467.7 2442.6H474.2M467.7 2443.4H475.0M467.7 2442.6V2443.4M468.6 2444.5H497.6M470.9 2446.2H497.6M466.8 2444.5H468.6M466.8 2446.2H470.9M466.8 2444.5V2446.2M464.3 2443.0H467.7M464.3 2445.3H466.8M464.3 2443.0V2445.3M461.7 2440.3H464.6M461.7 2444.1H464.3M461.7 2440.3V2444.1M449.2 2435.6H453.3M449.2 2442.2H461.7M449.2 2435.6V2442.2M441.8 2422.7H452.3M441.8 2438.9H449.2M441.8 2422.7V2438.9M306.3 2521.3H411.5M411.5 2502.5V2539.0M411.5 2502.5H417.8M417.8 2477.3V2528.9M417.8 2477.3H427.9M468.5 2449.0H497.6M475.4 2453.1H497.6M465.8 2449.0H468.5M465.8 2453.1H475.4M465.8 2449.0V2453.1M473.2 2456.6H497.6M468.4 2460.6H497.6M466.0 2456.6H473.2M466.0 2460.6H468.4M466.0 2456.6V2460.6M448.0 2451.0H465.8M448.0 2458.6H466.0M448.0 2451.0V2458.6M468.8 2464.2H497.6M471.0 2466.3H497.6M466.2 2464.2H468.8M466.2 2466.3H471.0M466.2 2464.2V2466.3M471.9 2470.4H497.6M456.7 2465.3H466.2M456.7 2470.4H471.9M456.7 2465.3V2470.4M466.5 2473.9H497.6M465.8 2474.9H497.6M464.3 2473.9H466.5M464.3 2474.9H465.8M464.3 2473.9V2474.9M468.5 2475.9H497.6M460.1 2474.4H464.3M460.1 2475.9H468.5M460.1 2474.4V2475.9M462.6 2477.2H497.6M454.9 2475.2H460.1M454.9 2477.2H462.6M454.9 2475.2V2477.2M444.6 2467.8H456.7M444.6 2476.2H454.9M444.6 2467.8V2476.2M439.6 2454.8H448.0M439.6 2472.0H444.6M439.6 2454.8V2472.0M471.1 2480.9H497.6M474.8 2486.0H497.6M473.2 2490.2H497.6M465.0 2486.0H474.8M465.0 2490.2H473.2M465.0 2486.0V2490.2M460.0 2480.9H471.1M460.0 2488.1H465.0M460.0 2480.9V2488.1M465.3 2493.1H497.6M472.4 2494.4H497.6M463.3 2493.1H465.3M463.3 2494.4H472.4M463.3 2493.1V2494.4M469.6 2497.3H497.6M458.7 2493.8H463.3M458.7 2497.3H469.6M458.7 2493.8V2497.3M448.1 2484.5H460.0M448.1 2495.5H458.7M448.1 2484.5V2495.5M468.1 2499.9H497.6M463.0 2500.8H497.6M460.9 2499.9H468.1M460.9 2500.8H463.0M460.9 2499.9V2500.8M466.5 2501.9H497.6M467.3 2502.8H497.6M463.3 2501.9H466.5M463.3 2502.8H467.3M463.3 2501.9V2502.8M452.9 2500.3H460.9M452.9 2502.3H463.3M452.9 2500.3V2502.3M468.5 2503.9H497.6M470.5 2505.0H497.6M464.8 2503.9H468.5M464.8 2505.0H470.5M464.8 2503.9V2505.0M467.6 2506.0H497.6M469.8 2506.8H497.6M465.5 2506.0H467.6M465.5 2506.8H469.8M465.5 2506.0V2506.8M465.9 2507.5H497.6M462.0 2506.4H465.5M462.0 2507.5H465.9M462.0 2506.4V2507.5M474.0 2508.4H497.6M467.7 2509.5H497.6M465.7 2508.4H474.0M465.7 2509.5H467.7M465.7 2508.4V2509.5M455.8 2507.0H462.0M455.8 2508.9H465.7M455.8 2507.0V2508.9M451.6 2504.5H464.8M451.6 2508.0H455.8M451.6 2504.5V2508.0M447.6 2501.3H452.9M447.6 2506.2H451.6M447.6 2501.3V2506.2M435.4 2490.0H448.1M435.4 2503.8H447.6M435.4 2490.0V2503.8M427.9 2463.4H439.6M427.9 2496.9H435.4M427.9 2463.4V2496.9M417.8 2528.9H440.0M471.9 2512.0H497.6M469.4 2516.7H497.6M459.1 2512.0H471.9M459.1 2516.7H469.4M459.1 2512.0V2516.7M471.7 2522.7H497.6M457.1 2514.4H459.1M457.1 2522.7H471.7M457.1 2514.4V2522.7M471.5 2528.3H497.6M469.4 2533.3H497.6M458.8 2528.3H471.5M458.8 2533.3H469.4M458.8 2528.3V2533.3M440.0 2518.5H457.1M440.0 2530.8H458.8M440.0 2518.5V2530.8M411.5 2539.0H445.0M464.0 2536.7H497.6M463.0 2538.1H497.6M455.6 2536.7H464.0M455.6 2538.1H463.0M455.6 2536.7V2538.1M464.4 2539.4H497.6M467.1 2540.6H497.6M461.8 2539.4H464.4M461.8 2540.6H467.1M461.8 2539.4V2540.6M445.0 2537.4H455.6M445.0 2540.0H461.8M445.0 2537.4V2540.0M235.3 2543.2H439.2M457.1 2541.6H497.6M447.4 2542.5H497.6M445.1 2541.6H457.1M445.1 2542.5H447.4M445.1 2541.6V2542.5M458.9 2543.4H497.6M439.2 2542.0H445.1M439.2 2543.4H458.9M439.2 2542.0V2543.4" stroke="#000" stroke-width="2.2" fill="none" stroke-linecap="square"/>
<text x="531" y="1881.3" font-size="21.6" font-weight="bold" text-anchor="middle" fill="#1b1a1a" transform="rotate(-90 531 1881.3)">ZR</text>
<text x="531" y="1948" font-size="21.6" font-weight="bold" text-anchor="middle" fill="#1b1a1a" transform="rotate(-90 531 1948)">GBM</text>
<text x="531" y="2028" font-size="21.6" font-weight="bold" text-anchor="middle" fill="#1b1a1a" transform="rotate(-90 531 2028)">YM</text>
<text x="531" y="2083.4" font-size="21.6" font-weight="bold" text-anchor="middle" fill="#1b1a1a" transform="rotate(-90 531 2083.4)">ZR</text>
<text x="531" y="2157" font-size="21.6" font-weight="bold" text-anchor="middle" fill="#1b1a1a" transform="rotate(-90 531 2157)">ZR</text>
<text x="531" y="2219.9" font-size="21.6" font-weight="bold" text-anchor="middle" fill="#1b1a1a" transform="rotate(-90 531 2219.9)">ZR</text>
<text x="531" y="2260" font-size="21.6" font-weight="bold" text-anchor="middle" fill="#1b1a1a" transform="rotate(-90 531 2260)">YM</text>
<text x="531" y="2315" font-size="21.6" font-weight="bold" text-anchor="middle" fill="#1b1a1a" transform="rotate(-90 531 2315)">GBM</text>
<text x="531" y="2438.9" font-size="21.6" font-weight="bold" text-anchor="middle" fill="#1b1a1a" transform="rotate(-90 531 2438.9)">GBM</text>
<text x="572.7" y="1876.3" font-size="21.6" font-weight="bold" text-anchor="middle" fill="#1b1a1a" transform="rotate(-90 572.7 1876.3)">C6</text>
<text x="572.7" y="1941.7" font-size="21.6" font-weight="bold" text-anchor="middle" fill="#1b1a1a" transform="rotate(-90 572.7 1941.7)">C5</text>
<text x="572.7" y="2023" font-size="21.6" font-weight="bold" text-anchor="middle" fill="#1b1a1a" transform="rotate(-90 572.7 2023)">C3</text>
<text x="572.7" y="2080.3" font-size="21.6" font-weight="bold" text-anchor="middle" fill="#1b1a1a" transform="rotate(-90 572.7 2080.3)">C23</text>
<text x="572.7" y="2145" font-size="21.6" font-weight="bold" text-anchor="middle" fill="#1b1a1a" transform="rotate(-90 572.7 2145)">C2</text>
<text x="572.7" y="2211" font-size="21.6" font-weight="bold" text-anchor="middle" fill="#1b1a1a" transform="rotate(-90 572.7 2211)">C19</text>
<text x="572.7" y="2257" font-size="21.6" font-weight="bold" text-anchor="middle" fill="#1b1a1a" transform="rotate(-90 572.7 2257)">C14</text>
<text x="572.7" y="2312.3" font-size="21.6" font-weight="bold" text-anchor="middle" fill="#1b1a1a" transform="rotate(-90 572.7 2312.3)">C12</text>
<text x="572.7" y="2439" font-size="21.6" font-weight="bold" text-anchor="middle" fill="#1b1a1a" transform="rotate(-90 572.7 2439)">C1</text>
</svg>
</body></html>
